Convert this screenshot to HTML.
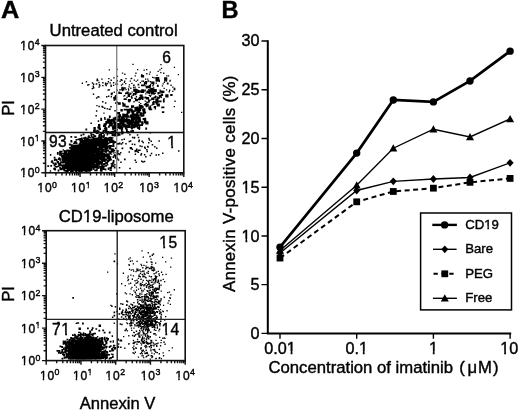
<!DOCTYPE html>
<html><head><meta charset="utf-8"><style>
html,body{margin:0;padding:0;background:#fff;width:520px;height:411px;overflow:hidden}
svg{display:block;will-change:transform}
text{font-family:"Liberation Sans", sans-serif;stroke:#000;stroke-width:0.4px}
</style></head><body>
<svg width="520" height="411" viewBox="0 0 520 411" font-family='"Liberation Sans", sans-serif' fill="#000"><text transform="translate(0.9 18.3) scale(1.075 1)" font-size="23.6" font-weight="bold">A</text>
<text x="221.5" y="17.6" font-size="23.6" font-weight="bold">B</text>
<path d="M88.3 166.4h1.8v1.8h-1.8zM89.9 157.7h1.8v1.8h-1.8zM87.5 165.1h1.8v1.8h-1.8zM90.7 157.4h1.8v1.8h-1.8zM85.1 156.7h1.8v1.8h-1.8zM74.5 158.3h1.8v1.8h-1.8zM82.8 147.9h1.8v1.8h-1.8zM79.5 146.3h1.8v1.8h-1.8zM88.2 167.6h1.8v1.8h-1.8zM81.3 159.0h1.8v1.8h-1.8zM84.6 152.9h1.8v1.8h-1.8zM82.7 167.1h1.8v1.8h-1.8zM76.7 161.8h1.8v1.8h-1.8zM90.1 164.1h1.8v1.8h-1.8zM80.9 157.7h1.8v1.8h-1.8zM79.5 163.2h1.8v1.8h-1.8zM82.1 168.2h1.8v1.8h-1.8zM80.3 157.3h1.8v1.8h-1.8zM80.8 165.6h1.8v1.8h-1.8zM97.4 162.5h1.8v1.8h-1.8zM90.5 154.2h1.8v1.8h-1.8zM53.8 167.9h1.8v1.8h-1.8zM78.6 158.0h1.8v1.8h-1.8zM72.9 151.6h1.8v1.8h-1.8zM83.7 159.6h1.8v1.8h-1.8zM103.6 155.1h1.8v1.8h-1.8zM70.6 145.4h1.8v1.8h-1.8zM99.1 147.0h1.8v1.8h-1.8zM91.5 165.8h1.8v1.8h-1.8zM86.4 154.0h1.8v1.8h-1.8zM84.3 162.1h1.8v1.8h-1.8zM68.0 161.5h1.8v1.8h-1.8zM73.3 159.4h1.8v1.8h-1.8zM81.1 161.0h1.8v1.8h-1.8zM73.1 165.6h1.8v1.8h-1.8zM75.0 148.0h1.8v1.8h-1.8zM86.4 168.6h1.8v1.8h-1.8zM82.5 161.5h1.8v1.8h-1.8zM76.0 160.9h1.8v1.8h-1.8zM89.2 162.0h1.8v1.8h-1.8zM88.7 153.3h1.8v1.8h-1.8zM88.4 167.4h1.8v1.8h-1.8zM73.8 164.0h1.8v1.8h-1.8zM90.8 162.1h1.8v1.8h-1.8zM73.8 155.7h1.8v1.8h-1.8zM89.0 154.2h1.8v1.8h-1.8zM72.4 167.3h1.8v1.8h-1.8zM87.1 149.2h1.8v1.8h-1.8zM79.1 155.2h1.8v1.8h-1.8zM69.3 164.9h1.8v1.8h-1.8zM82.0 169.4h1.8v1.8h-1.8zM84.4 165.3h1.8v1.8h-1.8zM87.0 165.4h1.8v1.8h-1.8zM73.0 166.4h1.8v1.8h-1.8zM77.5 163.2h1.8v1.8h-1.8zM85.1 162.1h1.8v1.8h-1.8zM90.6 160.9h1.8v1.8h-1.8zM59.1 152.3h1.8v1.8h-1.8zM83.5 158.1h1.8v1.8h-1.8zM94.5 157.7h1.8v1.8h-1.8zM81.0 166.7h1.8v1.8h-1.8zM72.6 161.0h1.8v1.8h-1.8zM91.8 163.8h1.8v1.8h-1.8zM81.7 154.1h1.8v1.8h-1.8zM89.4 154.8h1.8v1.8h-1.8zM62.8 156.3h1.8v1.8h-1.8zM80.1 159.7h1.8v1.8h-1.8zM76.6 160.6h1.8v1.8h-1.8zM88.5 155.8h1.8v1.8h-1.8zM81.5 155.1h1.8v1.8h-1.8zM66.4 157.0h1.8v1.8h-1.8zM85.5 146.3h1.8v1.8h-1.8zM89.4 160.3h1.8v1.8h-1.8zM71.3 153.7h1.8v1.8h-1.8zM82.5 162.4h1.8v1.8h-1.8zM85.6 157.9h1.8v1.8h-1.8zM83.6 152.7h1.8v1.8h-1.8zM88.6 153.4h1.8v1.8h-1.8zM83.4 157.8h1.8v1.8h-1.8zM81.8 163.3h1.8v1.8h-1.8zM76.7 156.1h1.8v1.8h-1.8zM90.7 153.5h1.8v1.8h-1.8zM55.0 158.7h1.8v1.8h-1.8zM79.0 158.1h1.8v1.8h-1.8zM75.3 145.4h1.8v1.8h-1.8zM67.4 165.3h1.8v1.8h-1.8zM82.9 154.8h1.8v1.8h-1.8zM93.7 165.2h1.8v1.8h-1.8zM79.5 158.9h1.8v1.8h-1.8zM90.7 163.5h1.8v1.8h-1.8zM93.8 156.3h1.8v1.8h-1.8zM81.1 149.4h1.8v1.8h-1.8zM99.2 154.7h1.8v1.8h-1.8zM73.7 145.5h1.8v1.8h-1.8zM76.6 166.9h1.8v1.8h-1.8zM85.5 165.4h1.8v1.8h-1.8zM77.1 155.1h1.8v1.8h-1.8zM91.9 161.4h1.8v1.8h-1.8zM75.9 146.6h1.8v1.8h-1.8zM80.5 157.6h1.8v1.8h-1.8zM74.4 162.6h1.8v1.8h-1.8zM88.2 163.0h1.8v1.8h-1.8zM72.5 166.6h1.8v1.8h-1.8zM88.2 158.0h1.8v1.8h-1.8zM97.5 156.8h1.8v1.8h-1.8zM64.4 161.0h1.8v1.8h-1.8zM85.9 154.1h1.8v1.8h-1.8zM108.1 154.1h1.8v1.8h-1.8zM71.5 163.5h1.8v1.8h-1.8zM68.3 162.8h1.8v1.8h-1.8zM88.6 161.0h1.8v1.8h-1.8zM74.5 166.1h1.8v1.8h-1.8zM81.2 168.5h1.8v1.8h-1.8zM84.3 152.8h1.8v1.8h-1.8zM78.8 164.6h1.8v1.8h-1.8zM84.1 158.8h1.8v1.8h-1.8zM76.8 154.1h1.8v1.8h-1.8zM69.4 154.8h1.8v1.8h-1.8zM78.8 162.4h1.8v1.8h-1.8zM70.2 159.3h1.8v1.8h-1.8zM76.6 149.0h1.8v1.8h-1.8zM70.0 163.3h1.8v1.8h-1.8zM71.3 165.5h1.8v1.8h-1.8zM95.4 153.7h1.8v1.8h-1.8zM76.7 150.6h1.8v1.8h-1.8zM78.7 155.2h1.8v1.8h-1.8zM90.4 167.0h1.8v1.8h-1.8zM74.5 155.3h1.8v1.8h-1.8zM77.8 157.8h1.8v1.8h-1.8zM84.9 160.5h1.8v1.8h-1.8zM68.3 160.4h1.8v1.8h-1.8zM82.7 141.4h1.8v1.8h-1.8zM76.4 163.9h1.8v1.8h-1.8zM66.4 153.5h1.8v1.8h-1.8zM72.3 162.8h1.8v1.8h-1.8zM74.5 154.5h1.8v1.8h-1.8zM91.2 139.9h1.8v1.8h-1.8zM82.2 157.6h1.8v1.8h-1.8zM83.4 164.5h1.8v1.8h-1.8zM87.3 149.9h1.8v1.8h-1.8zM79.0 160.7h1.8v1.8h-1.8zM73.8 159.1h1.8v1.8h-1.8zM86.4 165.1h1.8v1.8h-1.8zM89.1 159.2h1.8v1.8h-1.8zM86.2 153.6h1.8v1.8h-1.8zM105.3 162.7h1.8v1.8h-1.8zM84.7 161.9h1.8v1.8h-1.8zM76.8 164.9h1.8v1.8h-1.8zM77.3 153.9h1.8v1.8h-1.8zM81.6 162.3h1.8v1.8h-1.8zM77.3 147.9h1.8v1.8h-1.8zM82.2 162.5h1.8v1.8h-1.8zM79.6 151.5h1.8v1.8h-1.8zM65.6 167.5h1.8v1.8h-1.8zM88.1 153.5h1.8v1.8h-1.8zM76.2 163.1h1.8v1.8h-1.8zM70.9 166.6h1.8v1.8h-1.8zM86.9 155.9h1.8v1.8h-1.8zM93.5 153.0h1.8v1.8h-1.8zM80.9 146.0h1.8v1.8h-1.8zM76.4 144.4h1.8v1.8h-1.8zM110.4 150.9h1.8v1.8h-1.8zM84.6 144.4h1.8v1.8h-1.8zM71.2 157.1h1.8v1.8h-1.8zM83.5 162.4h1.8v1.8h-1.8zM67.5 168.7h1.8v1.8h-1.8zM83.0 159.1h1.8v1.8h-1.8zM78.6 165.4h1.8v1.8h-1.8zM88.3 143.7h1.8v1.8h-1.8zM90.1 154.6h1.8v1.8h-1.8zM54.2 168.7h1.8v1.8h-1.8zM81.7 159.5h1.8v1.8h-1.8zM64.6 163.9h1.8v1.8h-1.8zM89.6 149.6h1.8v1.8h-1.8zM80.2 152.9h1.8v1.8h-1.8zM89.1 163.1h1.8v1.8h-1.8zM68.0 157.4h1.8v1.8h-1.8zM99.7 153.8h1.8v1.8h-1.8zM101.5 152.9h1.8v1.8h-1.8zM70.5 162.8h1.8v1.8h-1.8zM86.0 160.5h1.8v1.8h-1.8zM76.3 165.8h1.8v1.8h-1.8zM79.0 155.2h1.8v1.8h-1.8zM70.0 166.9h1.8v1.8h-1.8zM105.1 165.0h1.8v1.8h-1.8zM68.2 155.3h1.8v1.8h-1.8zM77.2 158.1h1.8v1.8h-1.8zM83.3 151.3h1.8v1.8h-1.8zM74.1 149.8h1.8v1.8h-1.8zM75.6 161.5h1.8v1.8h-1.8zM82.7 166.4h1.8v1.8h-1.8zM66.9 157.7h1.8v1.8h-1.8zM76.4 159.9h1.8v1.8h-1.8zM76.7 154.7h1.8v1.8h-1.8zM73.4 150.6h1.8v1.8h-1.8zM81.3 158.2h1.8v1.8h-1.8zM79.8 163.9h1.8v1.8h-1.8zM86.9 152.9h1.8v1.8h-1.8zM78.4 161.6h1.8v1.8h-1.8zM81.9 164.6h1.8v1.8h-1.8zM71.9 152.2h1.8v1.8h-1.8zM70.9 168.9h1.8v1.8h-1.8zM84.0 152.2h1.8v1.8h-1.8zM63.9 150.1h1.8v1.8h-1.8zM71.3 156.5h1.8v1.8h-1.8zM86.5 162.1h1.8v1.8h-1.8zM85.9 159.5h1.8v1.8h-1.8zM73.6 152.7h1.8v1.8h-1.8zM86.3 160.1h1.8v1.8h-1.8zM83.3 157.4h1.8v1.8h-1.8zM65.7 161.1h1.8v1.8h-1.8zM89.7 158.8h1.8v1.8h-1.8zM73.0 159.2h1.8v1.8h-1.8zM82.9 160.9h1.8v1.8h-1.8zM81.3 164.2h1.8v1.8h-1.8zM81.9 155.9h1.8v1.8h-1.8zM60.8 155.1h1.8v1.8h-1.8zM100.1 155.1h1.8v1.8h-1.8zM71.9 154.2h1.8v1.8h-1.8zM65.9 164.8h1.8v1.8h-1.8zM86.9 156.3h1.8v1.8h-1.8zM75.1 154.8h1.8v1.8h-1.8zM87.0 164.1h1.8v1.8h-1.8zM73.1 150.0h1.8v1.8h-1.8zM85.3 170.1h1.8v1.8h-1.8zM81.4 153.6h1.8v1.8h-1.8zM77.0 169.2h1.8v1.8h-1.8zM91.7 165.5h1.8v1.8h-1.8zM73.7 154.7h1.8v1.8h-1.8zM70.3 157.4h1.8v1.8h-1.8zM84.8 165.5h1.8v1.8h-1.8zM85.9 158.5h1.8v1.8h-1.8zM79.1 160.6h1.8v1.8h-1.8zM66.8 149.4h1.8v1.8h-1.8zM81.6 144.4h1.8v1.8h-1.8zM79.1 153.7h1.8v1.8h-1.8zM65.1 158.5h1.8v1.8h-1.8zM81.9 160.4h1.8v1.8h-1.8zM82.0 162.6h1.8v1.8h-1.8zM91.4 159.3h1.8v1.8h-1.8zM70.8 159.7h1.8v1.8h-1.8zM88.9 168.2h1.8v1.8h-1.8zM55.8 165.9h1.8v1.8h-1.8zM114.8 154.9h1.8v1.8h-1.8zM75.2 164.8h1.8v1.8h-1.8zM87.6 151.7h1.8v1.8h-1.8zM77.1 151.3h1.8v1.8h-1.8zM91.2 165.7h1.8v1.8h-1.8zM87.3 151.1h1.8v1.8h-1.8zM78.8 165.6h1.8v1.8h-1.8zM74.8 152.4h1.8v1.8h-1.8zM83.7 152.4h1.8v1.8h-1.8zM71.5 161.1h1.8v1.8h-1.8zM84.1 154.6h1.8v1.8h-1.8zM85.0 162.8h1.8v1.8h-1.8zM70.6 153.1h1.8v1.8h-1.8zM82.0 167.0h1.8v1.8h-1.8zM71.9 161.2h1.8v1.8h-1.8zM86.8 146.1h1.8v1.8h-1.8zM74.7 141.1h1.8v1.8h-1.8zM88.3 155.2h1.8v1.8h-1.8zM80.0 153.2h1.8v1.8h-1.8zM83.9 158.6h1.8v1.8h-1.8zM70.1 154.7h1.8v1.8h-1.8zM87.4 156.2h1.8v1.8h-1.8zM97.9 150.9h1.8v1.8h-1.8zM78.1 160.4h1.8v1.8h-1.8zM76.2 163.6h1.8v1.8h-1.8zM80.4 161.8h1.8v1.8h-1.8zM79.5 168.1h1.8v1.8h-1.8zM71.7 156.3h1.8v1.8h-1.8zM84.6 163.6h1.8v1.8h-1.8zM78.7 161.4h1.8v1.8h-1.8zM93.5 149.8h1.8v1.8h-1.8zM77.8 151.8h1.8v1.8h-1.8zM88.8 168.2h1.8v1.8h-1.8zM90.9 156.7h1.8v1.8h-1.8zM76.5 156.6h1.8v1.8h-1.8zM95.0 153.4h1.8v1.8h-1.8zM75.0 161.8h1.8v1.8h-1.8zM71.6 158.7h1.8v1.8h-1.8zM73.1 150.6h1.8v1.8h-1.8zM80.4 160.6h1.8v1.8h-1.8zM67.0 163.8h1.8v1.8h-1.8zM79.8 157.1h1.8v1.8h-1.8zM90.1 143.6h1.8v1.8h-1.8zM77.2 152.5h1.8v1.8h-1.8zM75.4 162.9h1.8v1.8h-1.8zM75.0 168.9h1.8v1.8h-1.8zM79.3 165.1h1.8v1.8h-1.8zM81.2 165.2h1.8v1.8h-1.8zM73.8 166.5h1.8v1.8h-1.8zM80.6 162.8h1.8v1.8h-1.8zM78.2 166.2h1.8v1.8h-1.8zM87.8 150.1h1.8v1.8h-1.8zM93.6 157.9h1.8v1.8h-1.8zM84.4 166.2h1.8v1.8h-1.8zM90.7 168.6h1.8v1.8h-1.8zM69.0 166.6h1.8v1.8h-1.8zM82.9 146.7h1.8v1.8h-1.8zM80.9 159.6h1.8v1.8h-1.8zM87.7 161.6h1.8v1.8h-1.8zM98.0 155.9h1.8v1.8h-1.8zM82.9 156.5h1.8v1.8h-1.8zM67.2 156.4h1.8v1.8h-1.8zM84.7 151.9h1.8v1.8h-1.8zM70.5 169.4h1.8v1.8h-1.8zM73.7 155.4h1.8v1.8h-1.8zM79.6 150.7h1.8v1.8h-1.8zM84.2 150.4h1.8v1.8h-1.8zM85.6 167.5h1.8v1.8h-1.8zM74.2 164.2h1.8v1.8h-1.8zM74.6 159.0h1.8v1.8h-1.8zM92.2 161.4h1.8v1.8h-1.8zM83.2 164.1h1.8v1.8h-1.8zM61.7 159.2h1.8v1.8h-1.8zM91.8 161.5h1.8v1.8h-1.8zM85.8 159.1h1.8v1.8h-1.8zM82.8 140.5h1.8v1.8h-1.8zM74.0 152.0h1.8v1.8h-1.8zM89.8 157.4h1.8v1.8h-1.8zM72.4 167.1h1.8v1.8h-1.8zM85.6 154.6h1.8v1.8h-1.8zM73.1 154.0h1.8v1.8h-1.8zM88.3 158.0h1.8v1.8h-1.8zM84.8 141.6h1.8v1.8h-1.8zM75.8 166.3h1.8v1.8h-1.8zM80.1 158.2h1.8v1.8h-1.8zM81.3 158.7h1.8v1.8h-1.8zM90.4 149.3h1.8v1.8h-1.8zM90.5 162.1h1.8v1.8h-1.8zM82.7 150.9h1.8v1.8h-1.8zM90.1 160.1h1.8v1.8h-1.8zM99.2 145.0h1.8v1.8h-1.8zM77.3 164.5h1.8v1.8h-1.8zM91.4 147.9h1.8v1.8h-1.8zM69.3 163.6h1.8v1.8h-1.8zM87.9 161.2h1.8v1.8h-1.8zM88.9 150.4h1.8v1.8h-1.8zM72.8 157.7h1.8v1.8h-1.8zM88.6 162.0h1.8v1.8h-1.8zM82.6 159.5h1.8v1.8h-1.8zM93.2 147.3h1.8v1.8h-1.8zM78.3 152.9h1.8v1.8h-1.8zM92.7 159.7h1.8v1.8h-1.8zM76.7 154.0h1.8v1.8h-1.8zM82.4 164.6h1.8v1.8h-1.8zM82.7 133.4h1.8v1.8h-1.8zM82.2 146.8h1.8v1.8h-1.8zM76.1 167.4h1.8v1.8h-1.8zM92.8 167.9h1.8v1.8h-1.8zM88.7 156.5h1.8v1.8h-1.8zM81.8 163.7h1.8v1.8h-1.8zM79.5 162.3h1.8v1.8h-1.8zM82.5 167.5h1.8v1.8h-1.8zM61.4 158.8h1.8v1.8h-1.8zM85.0 163.1h1.8v1.8h-1.8zM82.0 155.2h1.8v1.8h-1.8zM71.8 160.6h1.8v1.8h-1.8zM88.3 156.2h1.8v1.8h-1.8zM67.3 163.7h1.8v1.8h-1.8zM73.4 156.2h1.8v1.8h-1.8zM75.8 159.5h1.8v1.8h-1.8zM97.2 144.0h1.8v1.8h-1.8zM88.8 162.0h1.8v1.8h-1.8zM88.9 152.4h1.8v1.8h-1.8zM89.9 169.2h1.8v1.8h-1.8zM96.6 163.6h1.8v1.8h-1.8zM73.1 167.2h1.8v1.8h-1.8zM57.6 165.3h1.8v1.8h-1.8zM89.4 158.0h1.8v1.8h-1.8zM71.5 168.6h1.8v1.8h-1.8zM69.3 163.1h1.8v1.8h-1.8zM89.4 150.8h1.8v1.8h-1.8zM90.8 157.8h1.8v1.8h-1.8zM79.4 152.2h1.8v1.8h-1.8zM81.4 163.5h1.8v1.8h-1.8zM85.3 167.2h1.8v1.8h-1.8zM81.7 165.7h1.8v1.8h-1.8zM89.7 162.7h1.8v1.8h-1.8zM84.3 158.4h1.8v1.8h-1.8zM81.5 169.1h1.8v1.8h-1.8zM88.9 150.7h1.8v1.8h-1.8zM73.9 158.8h1.8v1.8h-1.8zM82.3 154.5h1.8v1.8h-1.8zM83.1 152.9h1.8v1.8h-1.8zM101.6 167.1h1.8v1.8h-1.8zM70.9 149.3h1.8v1.8h-1.8zM98.6 153.6h1.8v1.8h-1.8zM79.7 151.5h1.8v1.8h-1.8zM75.3 151.2h1.8v1.8h-1.8zM75.0 163.0h1.8v1.8h-1.8zM81.7 145.5h1.8v1.8h-1.8zM81.3 158.5h1.8v1.8h-1.8zM70.0 163.3h1.8v1.8h-1.8zM77.3 165.0h1.8v1.8h-1.8zM71.9 156.1h1.8v1.8h-1.8zM93.2 158.1h1.8v1.8h-1.8zM89.5 142.6h1.8v1.8h-1.8zM90.1 157.0h1.8v1.8h-1.8zM84.1 156.8h1.8v1.8h-1.8zM81.4 158.4h1.8v1.8h-1.8zM88.4 152.8h1.8v1.8h-1.8zM99.7 146.0h1.8v1.8h-1.8zM86.0 146.6h1.8v1.8h-1.8zM80.9 166.0h1.8v1.8h-1.8zM86.1 169.5h1.8v1.8h-1.8zM75.2 158.5h1.8v1.8h-1.8zM75.9 167.6h1.8v1.8h-1.8zM78.2 157.4h1.8v1.8h-1.8zM84.2 161.2h1.8v1.8h-1.8zM100.2 154.6h1.8v1.8h-1.8zM76.9 148.5h1.8v1.8h-1.8zM91.6 147.7h1.8v1.8h-1.8zM101.0 158.4h1.8v1.8h-1.8zM75.6 144.9h1.8v1.8h-1.8zM96.5 152.3h1.8v1.8h-1.8zM86.8 153.6h1.8v1.8h-1.8zM74.0 154.1h1.8v1.8h-1.8zM83.7 158.3h1.8v1.8h-1.8zM82.3 161.2h1.8v1.8h-1.8zM80.6 164.0h1.8v1.8h-1.8zM70.6 140.8h1.8v1.8h-1.8zM83.7 153.8h1.8v1.8h-1.8zM80.5 158.2h1.8v1.8h-1.8zM64.5 161.3h1.8v1.8h-1.8zM83.3 157.5h1.8v1.8h-1.8zM87.7 169.8h1.8v1.8h-1.8zM82.6 155.3h1.8v1.8h-1.8zM87.4 158.2h1.8v1.8h-1.8zM78.3 170.1h1.8v1.8h-1.8zM80.6 164.3h1.8v1.8h-1.8zM86.2 157.5h1.8v1.8h-1.8zM90.0 153.4h1.8v1.8h-1.8zM81.3 149.5h1.8v1.8h-1.8zM107.9 153.6h1.8v1.8h-1.8zM83.7 167.5h1.8v1.8h-1.8zM91.4 149.6h1.8v1.8h-1.8zM81.8 164.4h1.8v1.8h-1.8zM73.0 162.3h1.8v1.8h-1.8zM82.3 157.6h1.8v1.8h-1.8zM89.6 149.6h1.8v1.8h-1.8zM78.1 145.5h1.8v1.8h-1.8zM85.0 163.5h1.8v1.8h-1.8zM77.9 161.8h1.8v1.8h-1.8zM90.0 164.8h1.8v1.8h-1.8zM58.7 164.1h1.8v1.8h-1.8zM79.0 153.7h1.8v1.8h-1.8zM69.5 168.6h1.8v1.8h-1.8zM103.2 152.8h1.8v1.8h-1.8zM70.1 162.4h1.8v1.8h-1.8zM66.5 157.5h1.8v1.8h-1.8zM88.4 147.1h1.8v1.8h-1.8zM75.1 168.8h1.8v1.8h-1.8zM87.8 156.9h1.8v1.8h-1.8zM87.8 159.0h1.8v1.8h-1.8zM80.8 152.0h1.8v1.8h-1.8zM68.9 165.6h1.8v1.8h-1.8zM75.8 163.2h1.8v1.8h-1.8zM99.1 156.4h1.8v1.8h-1.8zM63.9 153.8h1.8v1.8h-1.8zM70.5 156.9h1.8v1.8h-1.8zM87.5 152.7h1.8v1.8h-1.8zM83.1 157.3h1.8v1.8h-1.8zM86.8 152.9h1.8v1.8h-1.8zM65.9 152.6h1.8v1.8h-1.8zM86.6 147.1h1.8v1.8h-1.8zM87.7 159.3h1.8v1.8h-1.8zM63.5 160.9h1.8v1.8h-1.8zM102.4 167.2h1.8v1.8h-1.8zM98.1 138.3h1.8v1.8h-1.8zM80.3 155.9h1.8v1.8h-1.8zM90.5 144.2h1.8v1.8h-1.8zM60.5 164.4h1.8v1.8h-1.8zM70.2 168.3h1.8v1.8h-1.8zM70.9 151.1h1.8v1.8h-1.8zM77.6 166.3h1.8v1.8h-1.8zM88.9 161.0h1.8v1.8h-1.8zM87.6 166.9h1.8v1.8h-1.8zM69.7 165.9h1.8v1.8h-1.8zM88.1 160.3h1.8v1.8h-1.8zM99.5 152.2h1.8v1.8h-1.8zM95.5 160.6h1.8v1.8h-1.8zM89.1 151.7h1.8v1.8h-1.8zM82.9 162.8h1.8v1.8h-1.8zM88.6 150.6h1.8v1.8h-1.8zM74.0 168.2h1.8v1.8h-1.8zM87.3 153.7h1.8v1.8h-1.8zM78.0 154.6h1.8v1.8h-1.8zM89.6 149.1h1.8v1.8h-1.8zM90.2 167.7h1.8v1.8h-1.8zM65.4 152.2h1.8v1.8h-1.8zM77.4 147.5h1.8v1.8h-1.8zM94.7 158.4h1.8v1.8h-1.8zM66.9 156.5h1.8v1.8h-1.8zM74.1 157.9h1.8v1.8h-1.8zM72.0 158.6h1.8v1.8h-1.8zM88.0 149.9h1.8v1.8h-1.8zM91.2 148.0h1.8v1.8h-1.8zM87.4 152.7h1.8v1.8h-1.8zM84.0 159.6h1.8v1.8h-1.8zM82.1 162.8h1.8v1.8h-1.8zM78.5 147.2h1.8v1.8h-1.8zM75.4 165.3h1.8v1.8h-1.8zM95.9 169.4h1.8v1.8h-1.8zM85.2 141.4h1.8v1.8h-1.8zM91.8 159.2h1.8v1.8h-1.8zM78.4 166.8h1.8v1.8h-1.8zM82.2 159.8h1.8v1.8h-1.8zM78.8 158.2h1.8v1.8h-1.8zM90.5 134.1h1.8v1.8h-1.8zM86.6 167.0h1.8v1.8h-1.8zM61.9 164.6h1.8v1.8h-1.8zM84.1 155.8h1.8v1.8h-1.8zM103.0 159.9h1.8v1.8h-1.8zM79.9 138.9h1.8v1.8h-1.8zM89.2 154.7h1.8v1.8h-1.8zM83.3 163.2h1.8v1.8h-1.8zM80.7 161.6h1.8v1.8h-1.8zM87.3 165.1h1.8v1.8h-1.8zM90.1 161.7h1.8v1.8h-1.8zM72.9 149.6h1.8v1.8h-1.8zM87.7 149.3h1.8v1.8h-1.8zM73.4 160.0h1.8v1.8h-1.8zM88.9 154.9h1.8v1.8h-1.8zM67.9 153.3h1.8v1.8h-1.8zM53.7 168.1h1.8v1.8h-1.8zM66.6 153.9h1.8v1.8h-1.8zM79.9 154.1h1.8v1.8h-1.8zM74.9 154.4h1.8v1.8h-1.8zM75.8 155.9h1.8v1.8h-1.8zM68.3 168.8h1.8v1.8h-1.8zM78.2 164.7h1.8v1.8h-1.8zM79.0 168.6h1.8v1.8h-1.8zM91.3 149.6h1.8v1.8h-1.8zM83.3 154.5h1.8v1.8h-1.8zM59.1 150.7h1.8v1.8h-1.8zM75.2 168.0h1.8v1.8h-1.8zM87.1 154.5h1.8v1.8h-1.8zM99.2 150.9h1.8v1.8h-1.8zM81.2 149.4h1.8v1.8h-1.8zM86.0 162.2h1.8v1.8h-1.8zM100.9 155.6h1.8v1.8h-1.8zM81.4 160.4h1.8v1.8h-1.8zM72.9 148.7h1.8v1.8h-1.8zM64.7 158.9h1.8v1.8h-1.8zM76.0 160.9h1.8v1.8h-1.8zM99.2 143.6h1.8v1.8h-1.8zM68.6 167.9h1.8v1.8h-1.8zM84.4 166.3h1.8v1.8h-1.8zM65.0 159.5h1.8v1.8h-1.8zM81.6 157.1h1.8v1.8h-1.8zM87.3 150.2h1.8v1.8h-1.8zM82.0 167.6h1.8v1.8h-1.8zM90.9 162.4h1.8v1.8h-1.8zM85.3 157.1h1.8v1.8h-1.8zM94.4 144.8h1.8v1.8h-1.8zM89.8 158.7h1.8v1.8h-1.8zM77.3 158.6h1.8v1.8h-1.8zM75.1 163.3h1.8v1.8h-1.8zM84.6 154.9h1.8v1.8h-1.8zM80.2 165.7h1.8v1.8h-1.8zM100.3 131.9h1.8v1.8h-1.8zM102.1 158.9h1.8v1.8h-1.8zM79.4 160.9h1.8v1.8h-1.8zM77.1 158.7h1.8v1.8h-1.8zM95.6 148.1h1.8v1.8h-1.8zM75.0 157.3h1.8v1.8h-1.8zM94.3 164.2h1.8v1.8h-1.8zM70.6 159.2h1.8v1.8h-1.8zM76.6 161.4h1.8v1.8h-1.8zM78.8 163.1h1.8v1.8h-1.8zM83.2 160.3h1.8v1.8h-1.8zM85.7 159.1h1.8v1.8h-1.8zM86.5 156.0h1.8v1.8h-1.8zM80.3 156.7h1.8v1.8h-1.8zM89.7 149.9h1.8v1.8h-1.8zM61.8 161.6h1.8v1.8h-1.8zM66.0 167.2h1.8v1.8h-1.8zM71.9 152.8h1.8v1.8h-1.8zM94.0 161.6h1.8v1.8h-1.8zM85.0 163.4h1.8v1.8h-1.8zM75.7 162.5h1.8v1.8h-1.8zM68.2 157.8h1.8v1.8h-1.8zM78.5 167.0h1.8v1.8h-1.8zM79.2 165.3h1.8v1.8h-1.8zM75.0 160.2h1.8v1.8h-1.8zM72.1 151.3h1.8v1.8h-1.8zM88.9 150.4h1.8v1.8h-1.8zM57.1 161.4h1.8v1.8h-1.8zM79.1 161.0h1.8v1.8h-1.8zM83.0 158.7h1.8v1.8h-1.8zM60.9 167.8h1.8v1.8h-1.8zM80.7 155.7h1.8v1.8h-1.8zM101.8 158.7h1.8v1.8h-1.8zM83.9 162.6h1.8v1.8h-1.8zM96.8 164.5h1.8v1.8h-1.8zM83.5 166.5h1.8v1.8h-1.8zM57.7 162.4h1.8v1.8h-1.8zM77.5 138.4h1.8v1.8h-1.8zM77.5 161.9h1.8v1.8h-1.8zM63.2 156.7h1.8v1.8h-1.8zM84.0 145.4h1.8v1.8h-1.8zM79.0 147.0h1.8v1.8h-1.8zM73.9 156.6h1.8v1.8h-1.8zM88.7 153.9h1.8v1.8h-1.8zM72.7 162.8h1.8v1.8h-1.8zM68.1 154.2h1.8v1.8h-1.8zM86.1 156.7h1.8v1.8h-1.8zM66.4 154.7h1.8v1.8h-1.8zM92.1 145.4h1.8v1.8h-1.8zM83.7 158.4h1.8v1.8h-1.8zM96.1 156.0h1.8v1.8h-1.8zM68.9 153.2h1.8v1.8h-1.8zM80.2 169.4h1.8v1.8h-1.8zM86.0 148.7h1.8v1.8h-1.8zM70.6 163.2h1.8v1.8h-1.8zM93.9 161.2h1.8v1.8h-1.8zM87.3 161.2h1.8v1.8h-1.8zM89.5 152.8h1.8v1.8h-1.8zM79.6 163.8h1.8v1.8h-1.8zM82.1 146.8h1.8v1.8h-1.8zM69.8 152.6h1.8v1.8h-1.8zM66.7 162.3h1.8v1.8h-1.8zM73.3 155.9h1.8v1.8h-1.8zM73.8 157.0h1.8v1.8h-1.8zM61.8 167.6h1.8v1.8h-1.8zM72.5 153.6h1.8v1.8h-1.8zM84.0 158.2h1.8v1.8h-1.8zM77.4 165.8h1.8v1.8h-1.8zM72.4 162.4h1.8v1.8h-1.8zM101.5 152.8h1.8v1.8h-1.8zM99.8 157.9h1.8v1.8h-1.8zM95.5 151.4h1.8v1.8h-1.8zM86.5 164.2h1.8v1.8h-1.8zM83.3 160.7h1.8v1.8h-1.8zM66.0 155.0h1.8v1.8h-1.8zM84.1 159.3h1.8v1.8h-1.8zM80.4 157.5h1.8v1.8h-1.8zM92.6 160.5h1.8v1.8h-1.8zM94.0 143.5h1.8v1.8h-1.8zM76.7 159.3h1.8v1.8h-1.8zM95.8 165.2h1.8v1.8h-1.8zM69.6 153.9h1.8v1.8h-1.8zM70.8 159.2h1.8v1.8h-1.8zM75.1 161.6h1.8v1.8h-1.8zM71.1 162.1h1.8v1.8h-1.8zM88.5 150.4h1.8v1.8h-1.8zM90.3 156.0h1.8v1.8h-1.8zM88.6 143.2h1.8v1.8h-1.8zM78.8 154.8h1.8v1.8h-1.8zM81.7 153.4h1.8v1.8h-1.8zM74.4 159.2h1.8v1.8h-1.8zM68.9 161.6h1.8v1.8h-1.8zM85.2 157.0h1.8v1.8h-1.8zM82.4 155.2h1.8v1.8h-1.8zM69.0 160.6h1.8v1.8h-1.8zM87.7 159.0h1.8v1.8h-1.8zM82.4 166.7h1.8v1.8h-1.8zM71.1 153.1h1.8v1.8h-1.8zM76.7 162.9h1.8v1.8h-1.8zM73.0 168.9h1.8v1.8h-1.8zM89.2 152.8h1.8v1.8h-1.8zM87.9 159.9h1.8v1.8h-1.8zM91.6 152.2h1.8v1.8h-1.8zM83.4 161.0h1.8v1.8h-1.8zM63.5 153.3h1.8v1.8h-1.8zM78.8 163.8h1.8v1.8h-1.8zM67.9 160.4h1.8v1.8h-1.8zM82.8 151.6h1.8v1.8h-1.8zM91.5 151.5h1.8v1.8h-1.8zM87.2 164.7h1.8v1.8h-1.8zM78.1 168.3h1.8v1.8h-1.8zM78.1 162.3h1.8v1.8h-1.8zM85.6 164.3h1.8v1.8h-1.8zM65.6 162.1h1.8v1.8h-1.8zM78.2 149.2h1.8v1.8h-1.8zM76.6 144.4h1.8v1.8h-1.8zM75.4 161.0h1.8v1.8h-1.8zM76.3 159.6h1.8v1.8h-1.8zM82.5 158.4h1.8v1.8h-1.8zM73.1 162.9h1.8v1.8h-1.8zM85.2 148.8h1.8v1.8h-1.8zM80.3 152.3h1.8v1.8h-1.8zM103.1 165.7h1.8v1.8h-1.8zM73.7 168.7h1.8v1.8h-1.8zM62.7 164.3h1.8v1.8h-1.8zM83.1 140.0h1.8v1.8h-1.8zM87.1 148.6h1.8v1.8h-1.8zM72.4 159.4h1.8v1.8h-1.8zM66.3 164.5h1.8v1.8h-1.8zM80.8 160.5h1.8v1.8h-1.8zM63.1 164.7h1.8v1.8h-1.8zM81.1 168.7h1.8v1.8h-1.8zM55.8 159.5h1.8v1.8h-1.8zM77.4 157.8h1.8v1.8h-1.8zM58.0 163.0h1.8v1.8h-1.8zM80.8 165.6h1.8v1.8h-1.8zM95.7 153.7h1.8v1.8h-1.8zM80.6 165.8h1.8v1.8h-1.8zM88.2 156.2h1.8v1.8h-1.8zM74.3 168.0h1.8v1.8h-1.8zM63.7 159.8h1.8v1.8h-1.8zM90.5 154.4h1.8v1.8h-1.8zM78.7 156.2h1.8v1.8h-1.8zM98.5 157.5h1.8v1.8h-1.8zM79.6 162.7h1.8v1.8h-1.8zM80.7 157.3h1.8v1.8h-1.8zM91.9 148.1h1.8v1.8h-1.8zM103.2 162.9h1.8v1.8h-1.8zM77.9 169.9h1.8v1.8h-1.8zM64.0 166.9h1.8v1.8h-1.8zM90.6 147.2h1.8v1.8h-1.8zM78.4 156.7h1.8v1.8h-1.8zM76.3 151.0h1.8v1.8h-1.8zM52.5 162.4h1.8v1.8h-1.8zM87.9 151.6h1.8v1.8h-1.8zM83.5 155.7h1.8v1.8h-1.8zM85.6 166.8h1.8v1.8h-1.8zM69.2 159.7h1.8v1.8h-1.8zM86.2 156.9h1.8v1.8h-1.8zM98.3 153.4h1.8v1.8h-1.8zM75.4 147.3h1.8v1.8h-1.8zM73.6 155.0h1.8v1.8h-1.8zM83.5 156.7h1.8v1.8h-1.8zM83.6 165.8h1.8v1.8h-1.8zM77.0 155.1h1.8v1.8h-1.8zM73.5 166.4h1.8v1.8h-1.8zM78.7 155.5h1.8v1.8h-1.8zM73.3 159.0h1.8v1.8h-1.8zM83.2 169.2h1.8v1.8h-1.8zM79.1 157.8h1.8v1.8h-1.8zM76.1 164.3h1.8v1.8h-1.8zM81.0 168.8h1.8v1.8h-1.8zM93.2 160.1h1.8v1.8h-1.8zM73.3 148.8h1.8v1.8h-1.8zM73.0 149.1h1.8v1.8h-1.8zM90.4 159.1h1.8v1.8h-1.8zM79.5 150.0h1.8v1.8h-1.8zM79.6 154.8h1.8v1.8h-1.8zM81.5 155.8h1.8v1.8h-1.8zM65.6 157.8h1.8v1.8h-1.8zM88.8 165.9h1.8v1.8h-1.8zM95.8 159.3h1.8v1.8h-1.8zM86.7 158.0h1.8v1.8h-1.8zM67.4 170.0h1.8v1.8h-1.8zM80.3 151.4h1.8v1.8h-1.8zM74.7 169.5h1.8v1.8h-1.8zM75.6 154.0h1.8v1.8h-1.8zM86.9 170.0h1.8v1.8h-1.8zM67.0 159.4h1.8v1.8h-1.8zM91.6 149.4h1.8v1.8h-1.8zM83.7 168.0h1.8v1.8h-1.8zM90.3 160.5h1.8v1.8h-1.8zM83.6 149.5h1.8v1.8h-1.8zM95.5 157.8h1.8v1.8h-1.8zM92.0 154.1h1.8v1.8h-1.8zM66.5 165.6h1.8v1.8h-1.8zM83.1 163.5h1.8v1.8h-1.8zM79.7 168.5h1.8v1.8h-1.8zM89.1 159.6h1.8v1.8h-1.8zM90.5 157.7h1.8v1.8h-1.8zM92.7 152.9h1.8v1.8h-1.8zM81.2 152.1h1.8v1.8h-1.8zM99.9 169.7h1.8v1.8h-1.8zM103.0 168.2h1.8v1.8h-1.8zM76.8 159.7h1.8v1.8h-1.8zM123.9 158.4h1.8v1.8h-1.8zM84.4 167.6h1.8v1.8h-1.8zM80.7 168.6h1.8v1.8h-1.8zM88.6 157.4h1.8v1.8h-1.8zM87.8 161.0h1.8v1.8h-1.8zM70.4 152.8h1.8v1.8h-1.8zM87.6 136.7h1.8v1.8h-1.8zM82.2 161.1h1.8v1.8h-1.8zM96.9 155.8h1.8v1.8h-1.8zM96.4 158.4h1.8v1.8h-1.8zM69.6 166.8h1.8v1.8h-1.8zM72.4 166.2h1.8v1.8h-1.8zM86.9 166.3h1.8v1.8h-1.8zM80.3 151.1h1.8v1.8h-1.8zM70.1 156.1h1.8v1.8h-1.8zM82.7 152.2h1.8v1.8h-1.8zM92.2 148.5h1.8v1.8h-1.8zM62.8 153.0h1.8v1.8h-1.8zM76.7 155.0h1.8v1.8h-1.8zM88.4 169.6h1.8v1.8h-1.8zM76.2 151.9h1.8v1.8h-1.8zM72.9 146.3h1.8v1.8h-1.8zM96.9 149.5h1.8v1.8h-1.8zM91.5 149.9h1.8v1.8h-1.8zM91.2 160.4h1.8v1.8h-1.8zM71.1 156.9h1.8v1.8h-1.8zM101.8 148.2h1.8v1.8h-1.8zM81.6 151.4h1.8v1.8h-1.8zM72.1 154.4h1.8v1.8h-1.8zM78.8 163.2h1.8v1.8h-1.8zM76.6 162.0h1.8v1.8h-1.8zM101.0 149.6h1.8v1.8h-1.8zM84.5 162.0h1.8v1.8h-1.8zM78.8 152.7h1.8v1.8h-1.8zM60.3 168.4h1.8v1.8h-1.8zM88.6 157.4h1.8v1.8h-1.8zM63.9 150.0h1.8v1.8h-1.8zM85.6 153.8h1.8v1.8h-1.8zM74.0 166.0h1.8v1.8h-1.8zM87.0 151.2h1.8v1.8h-1.8zM91.9 154.9h1.8v1.8h-1.8zM81.1 163.1h1.8v1.8h-1.8zM60.1 153.1h1.8v1.8h-1.8zM76.3 150.4h1.8v1.8h-1.8zM80.4 134.4h1.8v1.8h-1.8zM69.9 169.6h1.8v1.8h-1.8zM98.8 152.9h1.8v1.8h-1.8zM69.7 164.5h1.8v1.8h-1.8zM75.9 151.2h1.8v1.8h-1.8zM91.9 163.5h1.8v1.8h-1.8zM63.3 155.2h1.8v1.8h-1.8zM80.8 159.0h1.8v1.8h-1.8zM67.0 163.4h1.8v1.8h-1.8zM94.9 159.6h1.8v1.8h-1.8zM85.3 165.0h1.8v1.8h-1.8zM75.4 157.7h1.8v1.8h-1.8zM88.3 149.2h1.8v1.8h-1.8zM68.3 164.2h1.8v1.8h-1.8zM75.1 156.5h1.8v1.8h-1.8zM101.6 158.1h1.8v1.8h-1.8zM80.8 162.3h1.8v1.8h-1.8zM98.4 163.5h1.8v1.8h-1.8zM71.3 155.7h1.8v1.8h-1.8zM76.5 155.7h1.8v1.8h-1.8zM83.1 162.2h1.8v1.8h-1.8zM78.2 163.7h1.8v1.8h-1.8zM71.8 160.0h1.8v1.8h-1.8zM67.7 149.8h1.8v1.8h-1.8zM82.1 159.2h1.8v1.8h-1.8zM80.7 148.8h1.8v1.8h-1.8zM80.1 138.2h1.8v1.8h-1.8zM89.6 158.0h1.8v1.8h-1.8zM80.6 159.2h1.8v1.8h-1.8zM63.7 157.5h1.8v1.8h-1.8zM81.4 157.9h1.8v1.8h-1.8zM87.3 152.7h1.8v1.8h-1.8zM77.6 138.5h1.8v1.8h-1.8zM91.3 158.2h1.8v1.8h-1.8zM88.2 152.7h1.8v1.8h-1.8zM77.3 152.1h1.8v1.8h-1.8zM58.8 163.5h1.8v1.8h-1.8zM85.5 160.4h1.8v1.8h-1.8zM71.9 151.2h1.8v1.8h-1.8zM90.3 162.7h1.8v1.8h-1.8zM90.1 159.3h1.8v1.8h-1.8zM83.0 162.7h1.8v1.8h-1.8zM98.4 150.0h1.8v1.8h-1.8zM70.9 161.9h1.8v1.8h-1.8zM90.4 156.6h1.8v1.8h-1.8zM75.6 159.5h1.8v1.8h-1.8zM68.7 152.0h1.8v1.8h-1.8zM83.1 149.1h1.8v1.8h-1.8zM74.9 161.7h1.8v1.8h-1.8zM83.8 143.6h1.8v1.8h-1.8zM69.1 163.0h1.8v1.8h-1.8zM80.1 156.5h1.8v1.8h-1.8zM75.1 168.0h1.8v1.8h-1.8zM79.1 161.2h1.8v1.8h-1.8zM76.2 158.4h1.8v1.8h-1.8zM69.0 161.6h1.8v1.8h-1.8zM88.5 159.4h1.8v1.8h-1.8zM67.9 155.3h1.8v1.8h-1.8zM84.3 143.9h1.8v1.8h-1.8zM87.7 149.3h1.8v1.8h-1.8zM79.6 139.1h1.8v1.8h-1.8zM81.5 151.8h1.8v1.8h-1.8zM105.4 155.4h1.8v1.8h-1.8zM71.5 163.7h1.8v1.8h-1.8zM89.9 156.3h1.8v1.8h-1.8zM81.6 153.4h1.8v1.8h-1.8zM89.7 150.4h1.8v1.8h-1.8zM91.1 157.0h1.8v1.8h-1.8zM81.6 166.7h1.8v1.8h-1.8zM74.4 165.6h1.8v1.8h-1.8zM103.6 153.2h1.8v1.8h-1.8zM90.1 154.9h1.8v1.8h-1.8zM84.6 152.1h1.8v1.8h-1.8zM78.0 161.5h1.8v1.8h-1.8zM81.9 166.4h1.8v1.8h-1.8zM78.0 161.5h1.8v1.8h-1.8zM75.3 155.0h1.8v1.8h-1.8zM78.1 154.5h1.8v1.8h-1.8zM78.7 164.0h1.8v1.8h-1.8zM87.7 167.0h1.8v1.8h-1.8zM80.0 151.7h1.8v1.8h-1.8zM90.8 159.3h1.8v1.8h-1.8zM77.9 152.7h1.8v1.8h-1.8zM87.6 153.6h1.8v1.8h-1.8zM53.7 164.3h1.8v1.8h-1.8zM92.8 141.4h1.8v1.8h-1.8zM70.8 167.9h1.8v1.8h-1.8zM78.2 160.4h1.8v1.8h-1.8zM81.1 141.3h1.8v1.8h-1.8zM85.9 151.6h1.8v1.8h-1.8zM66.2 163.1h1.8v1.8h-1.8zM63.2 168.7h1.8v1.8h-1.8zM65.1 157.9h1.8v1.8h-1.8zM62.4 160.3h1.8v1.8h-1.8zM80.5 158.7h1.8v1.8h-1.8zM74.9 153.8h1.8v1.8h-1.8zM84.3 158.2h1.8v1.8h-1.8zM101.9 140.6h1.8v1.8h-1.8zM74.7 147.6h1.8v1.8h-1.8zM79.9 158.1h1.8v1.8h-1.8zM86.5 159.9h1.8v1.8h-1.8zM80.7 164.9h1.8v1.8h-1.8zM71.1 153.5h1.8v1.8h-1.8zM73.9 141.2h1.8v1.8h-1.8zM92.5 161.5h1.8v1.8h-1.8zM89.5 161.3h1.8v1.8h-1.8zM94.8 166.0h1.8v1.8h-1.8zM72.2 154.2h1.8v1.8h-1.8zM75.2 166.4h1.8v1.8h-1.8zM103.3 157.8h1.8v1.8h-1.8zM72.5 146.4h1.8v1.8h-1.8zM88.9 164.6h1.8v1.8h-1.8zM92.6 166.3h1.8v1.8h-1.8zM96.3 157.1h1.8v1.8h-1.8zM69.6 168.6h1.8v1.8h-1.8zM78.6 166.4h1.8v1.8h-1.8zM75.8 158.8h1.8v1.8h-1.8zM73.2 149.6h1.8v1.8h-1.8zM54.6 162.4h1.8v1.8h-1.8zM79.3 158.0h1.8v1.8h-1.8zM50.3 165.0h1.8v1.8h-1.8zM87.0 165.1h1.8v1.8h-1.8zM84.6 153.6h1.8v1.8h-1.8zM86.2 155.5h1.8v1.8h-1.8zM63.5 151.0h1.8v1.8h-1.8zM91.3 157.7h1.8v1.8h-1.8zM70.2 157.4h1.8v1.8h-1.8zM65.8 150.4h1.8v1.8h-1.8zM73.8 164.9h1.8v1.8h-1.8zM81.2 155.2h1.8v1.8h-1.8zM87.6 152.7h1.8v1.8h-1.8zM78.8 168.2h1.8v1.8h-1.8zM86.7 148.8h1.8v1.8h-1.8zM87.4 168.2h1.8v1.8h-1.8zM83.6 151.9h1.8v1.8h-1.8zM84.4 142.0h1.8v1.8h-1.8zM64.8 163.2h1.8v1.8h-1.8zM81.8 155.9h1.8v1.8h-1.8zM92.9 150.6h1.8v1.8h-1.8zM93.8 139.1h1.8v1.8h-1.8zM79.6 142.7h1.8v1.8h-1.8zM89.3 154.9h1.8v1.8h-1.8zM77.1 165.9h1.8v1.8h-1.8zM76.4 161.1h1.8v1.8h-1.8zM91.0 151.3h1.8v1.8h-1.8zM76.0 147.8h1.8v1.8h-1.8zM78.8 157.4h1.8v1.8h-1.8zM65.6 160.8h1.8v1.8h-1.8zM80.0 152.9h1.8v1.8h-1.8zM87.7 157.4h1.8v1.8h-1.8zM73.9 163.5h1.8v1.8h-1.8zM77.4 164.0h1.8v1.8h-1.8zM95.3 150.2h1.8v1.8h-1.8zM79.9 152.0h1.8v1.8h-1.8zM77.5 158.6h1.8v1.8h-1.8zM69.0 161.4h1.8v1.8h-1.8zM69.6 149.5h1.8v1.8h-1.8zM77.4 157.4h1.8v1.8h-1.8zM88.6 140.8h1.8v1.8h-1.8zM95.5 145.1h1.8v1.8h-1.8zM69.9 158.1h1.8v1.8h-1.8zM79.8 165.4h1.8v1.8h-1.8zM88.0 153.0h1.8v1.8h-1.8zM80.3 163.7h1.8v1.8h-1.8zM80.0 160.3h1.8v1.8h-1.8zM86.5 159.7h1.8v1.8h-1.8zM62.2 161.1h1.8v1.8h-1.8zM81.2 165.9h1.8v1.8h-1.8zM80.1 159.7h1.8v1.8h-1.8zM77.3 161.0h1.8v1.8h-1.8zM84.3 147.4h1.8v1.8h-1.8zM72.4 154.4h1.8v1.8h-1.8zM75.2 155.4h1.8v1.8h-1.8zM81.6 159.4h1.8v1.8h-1.8zM91.5 163.7h1.8v1.8h-1.8zM73.9 148.7h1.8v1.8h-1.8zM94.3 149.7h1.8v1.8h-1.8zM71.2 160.4h1.8v1.8h-1.8zM100.7 170.0h1.8v1.8h-1.8zM72.0 161.0h1.8v1.8h-1.8zM77.6 155.6h1.8v1.8h-1.8zM86.8 162.7h1.8v1.8h-1.8zM97.0 141.9h1.8v1.8h-1.8zM91.3 158.9h1.8v1.8h-1.8zM71.6 148.3h1.8v1.8h-1.8zM100.0 168.0h1.8v1.8h-1.8zM78.7 159.4h1.8v1.8h-1.8zM71.9 159.0h1.8v1.8h-1.8zM80.9 147.3h1.8v1.8h-1.8zM81.3 157.3h1.8v1.8h-1.8zM90.3 155.3h1.8v1.8h-1.8zM73.3 155.8h1.8v1.8h-1.8zM88.4 165.9h1.8v1.8h-1.8zM85.9 153.7h1.8v1.8h-1.8zM83.9 158.3h1.8v1.8h-1.8zM81.6 161.0h1.8v1.8h-1.8zM88.3 152.1h1.8v1.8h-1.8zM82.5 158.7h1.8v1.8h-1.8zM86.6 158.8h1.8v1.8h-1.8zM79.5 164.8h1.8v1.8h-1.8zM75.1 145.3h1.8v1.8h-1.8zM81.3 157.6h1.8v1.8h-1.8zM85.9 150.3h1.8v1.8h-1.8zM81.7 158.2h1.8v1.8h-1.8zM82.9 141.1h1.8v1.8h-1.8zM81.4 151.9h1.8v1.8h-1.8zM94.6 154.4h1.8v1.8h-1.8zM83.5 169.6h1.8v1.8h-1.8zM65.0 165.3h1.8v1.8h-1.8zM86.4 159.9h1.8v1.8h-1.8zM78.4 157.4h1.8v1.8h-1.8zM74.4 169.3h1.8v1.8h-1.8zM85.9 153.2h1.8v1.8h-1.8zM85.0 161.1h1.8v1.8h-1.8zM84.1 154.5h1.8v1.8h-1.8zM74.6 153.2h1.8v1.8h-1.8zM79.6 150.8h1.8v1.8h-1.8zM81.3 153.1h1.8v1.8h-1.8zM101.7 159.8h1.8v1.8h-1.8zM80.2 157.5h1.8v1.8h-1.8zM82.0 152.0h1.8v1.8h-1.8zM66.1 170.2h1.8v1.8h-1.8zM67.2 169.3h1.8v1.8h-1.8zM100.0 145.8h1.8v1.8h-1.8zM89.3 162.9h1.8v1.8h-1.8zM75.9 169.5h1.8v1.8h-1.8zM73.9 162.7h1.8v1.8h-1.8zM62.4 168.4h1.8v1.8h-1.8zM75.5 169.9h1.8v1.8h-1.8zM84.0 145.4h1.8v1.8h-1.8zM65.0 159.0h1.8v1.8h-1.8zM87.0 157.1h1.8v1.8h-1.8zM79.2 146.9h1.8v1.8h-1.8zM105.7 162.4h1.8v1.8h-1.8zM74.4 156.5h1.8v1.8h-1.8zM91.7 150.5h1.8v1.8h-1.8zM90.6 157.6h1.8v1.8h-1.8zM64.9 165.8h1.8v1.8h-1.8zM93.0 146.9h1.8v1.8h-1.8zM64.9 158.0h1.8v1.8h-1.8zM77.2 162.7h1.8v1.8h-1.8zM87.6 151.0h1.8v1.8h-1.8zM70.4 136.0h1.8v1.8h-1.8zM75.5 153.3h1.8v1.8h-1.8zM93.5 156.5h1.8v1.8h-1.8zM112.6 165.2h1.8v1.8h-1.8zM56.9 152.1h1.8v1.8h-1.8zM88.3 151.8h1.8v1.8h-1.8zM78.9 153.9h1.8v1.8h-1.8zM70.6 164.3h1.8v1.8h-1.8zM98.5 146.8h1.8v1.8h-1.8zM84.8 163.2h1.8v1.8h-1.8zM70.4 154.1h1.8v1.8h-1.8zM76.3 161.3h1.8v1.8h-1.8zM70.7 150.8h1.8v1.8h-1.8zM86.0 165.3h1.8v1.8h-1.8zM81.5 164.1h1.8v1.8h-1.8zM87.2 155.9h1.8v1.8h-1.8zM95.9 152.7h1.8v1.8h-1.8zM87.8 156.2h1.8v1.8h-1.8zM68.0 161.5h1.8v1.8h-1.8zM65.9 167.1h1.8v1.8h-1.8zM74.9 164.9h1.8v1.8h-1.8zM90.9 154.0h1.8v1.8h-1.8zM75.9 156.1h1.8v1.8h-1.8zM73.3 158.9h1.8v1.8h-1.8zM80.8 155.1h1.8v1.8h-1.8zM68.9 168.4h1.8v1.8h-1.8zM70.6 165.0h1.8v1.8h-1.8zM77.5 159.0h1.8v1.8h-1.8zM76.9 161.5h1.8v1.8h-1.8zM82.0 153.0h1.8v1.8h-1.8zM75.7 162.2h1.8v1.8h-1.8zM73.0 158.7h1.8v1.8h-1.8zM73.8 154.7h1.8v1.8h-1.8zM87.3 157.6h1.8v1.8h-1.8zM66.7 157.8h1.8v1.8h-1.8zM76.0 155.5h1.8v1.8h-1.8zM87.1 155.9h1.8v1.8h-1.8zM99.8 152.9h1.8v1.8h-1.8zM82.1 152.8h1.8v1.8h-1.8zM78.1 159.1h1.8v1.8h-1.8zM86.3 149.6h1.8v1.8h-1.8zM82.4 150.6h1.8v1.8h-1.8zM93.6 149.2h1.8v1.8h-1.8zM82.3 148.6h1.8v1.8h-1.8zM77.2 164.5h1.8v1.8h-1.8zM79.2 168.9h1.8v1.8h-1.8zM83.2 153.4h1.8v1.8h-1.8zM82.5 152.1h1.8v1.8h-1.8zM108.3 158.3h1.8v1.8h-1.8zM96.3 150.1h1.8v1.8h-1.8zM74.9 136.2h1.8v1.8h-1.8zM67.6 163.3h1.8v1.8h-1.8zM61.7 158.5h1.8v1.8h-1.8zM86.3 151.8h1.8v1.8h-1.8zM88.8 162.4h1.8v1.8h-1.8zM96.1 150.5h1.8v1.8h-1.8zM74.6 169.8h1.8v1.8h-1.8zM66.1 155.6h1.8v1.8h-1.8zM88.1 158.0h1.8v1.8h-1.8zM82.5 156.7h1.8v1.8h-1.8zM73.8 147.1h1.8v1.8h-1.8zM83.2 165.7h1.8v1.8h-1.8zM80.9 152.9h1.8v1.8h-1.8zM81.0 162.6h1.8v1.8h-1.8zM76.8 154.0h1.8v1.8h-1.8zM63.3 168.2h1.8v1.8h-1.8zM70.0 169.0h1.8v1.8h-1.8zM86.8 156.2h1.8v1.8h-1.8zM72.6 158.3h1.8v1.8h-1.8zM88.1 160.9h1.8v1.8h-1.8zM93.5 155.1h1.8v1.8h-1.8zM76.2 157.3h1.8v1.8h-1.8zM83.8 158.0h1.8v1.8h-1.8zM100.6 149.4h1.8v1.8h-1.8zM86.5 153.4h1.8v1.8h-1.8zM101.5 157.6h1.8v1.8h-1.8zM101.3 165.0h1.8v1.8h-1.8zM86.5 151.9h1.8v1.8h-1.8zM79.5 158.5h1.8v1.8h-1.8zM69.8 155.6h1.8v1.8h-1.8zM65.9 153.9h1.8v1.8h-1.8zM89.3 165.1h1.8v1.8h-1.8zM83.3 152.0h1.8v1.8h-1.8zM80.4 162.1h1.8v1.8h-1.8zM84.7 145.4h1.8v1.8h-1.8zM73.1 156.8h1.8v1.8h-1.8zM93.1 157.6h1.8v1.8h-1.8zM82.9 162.2h1.8v1.8h-1.8zM81.4 160.7h1.8v1.8h-1.8zM82.3 161.9h1.8v1.8h-1.8zM80.7 160.9h1.8v1.8h-1.8zM108.1 155.6h1.8v1.8h-1.8zM84.5 162.2h1.8v1.8h-1.8zM92.5 152.8h1.8v1.8h-1.8zM84.5 148.3h1.8v1.8h-1.8zM76.5 156.6h1.8v1.8h-1.8zM96.6 149.1h1.8v1.8h-1.8zM63.4 153.1h1.8v1.8h-1.8zM83.8 150.6h1.8v1.8h-1.8zM63.6 157.6h1.8v1.8h-1.8zM87.1 150.0h1.8v1.8h-1.8zM82.3 142.2h1.8v1.8h-1.8zM81.3 140.7h1.8v1.8h-1.8zM77.3 163.2h1.8v1.8h-1.8zM77.4 146.1h1.8v1.8h-1.8zM101.0 159.2h1.8v1.8h-1.8zM84.8 147.1h1.8v1.8h-1.8zM86.9 153.1h1.8v1.8h-1.8zM62.3 167.3h1.8v1.8h-1.8zM83.8 144.4h1.8v1.8h-1.8zM91.2 143.3h1.8v1.8h-1.8zM90.5 148.9h1.8v1.8h-1.8zM88.3 155.1h1.8v1.8h-1.8zM81.8 160.7h1.8v1.8h-1.8zM71.5 146.4h1.8v1.8h-1.8zM87.4 157.9h1.8v1.8h-1.8zM84.2 156.2h1.8v1.8h-1.8zM82.3 155.7h1.8v1.8h-1.8zM76.4 156.6h1.8v1.8h-1.8zM100.3 159.0h1.8v1.8h-1.8zM79.1 155.4h1.8v1.8h-1.8zM74.7 159.9h1.8v1.8h-1.8zM85.6 142.7h1.8v1.8h-1.8zM93.3 149.6h1.8v1.8h-1.8zM95.0 158.4h1.8v1.8h-1.8zM87.8 154.7h1.8v1.8h-1.8zM68.6 167.3h1.8v1.8h-1.8zM100.5 149.0h1.8v1.8h-1.8zM86.1 157.2h1.8v1.8h-1.8zM82.0 164.0h1.8v1.8h-1.8zM83.6 164.2h1.8v1.8h-1.8zM71.3 146.0h1.8v1.8h-1.8zM84.3 155.4h1.8v1.8h-1.8zM74.4 136.2h1.8v1.8h-1.8zM77.5 160.5h1.8v1.8h-1.8zM54.5 165.8h1.8v1.8h-1.8zM78.7 154.7h1.8v1.8h-1.8zM90.6 168.2h1.8v1.8h-1.8zM87.2 159.2h1.8v1.8h-1.8zM83.2 167.8h1.8v1.8h-1.8zM87.3 161.6h1.8v1.8h-1.8zM96.3 166.8h1.8v1.8h-1.8zM75.7 159.2h1.8v1.8h-1.8zM94.2 150.8h1.8v1.8h-1.8zM61.9 166.6h1.8v1.8h-1.8zM70.9 159.6h1.8v1.8h-1.8zM57.6 169.6h1.8v1.8h-1.8zM96.0 160.4h1.8v1.8h-1.8zM91.3 150.1h1.8v1.8h-1.8zM99.1 155.2h1.8v1.8h-1.8zM88.0 168.5h1.8v1.8h-1.8zM78.2 165.5h1.8v1.8h-1.8zM85.8 163.7h1.8v1.8h-1.8zM77.3 154.2h1.8v1.8h-1.8zM92.7 166.2h1.8v1.8h-1.8zM64.3 160.3h1.8v1.8h-1.8zM90.8 155.3h1.8v1.8h-1.8zM80.1 168.9h1.8v1.8h-1.8zM88.1 152.9h1.8v1.8h-1.8zM66.6 166.5h1.8v1.8h-1.8zM77.0 160.9h1.8v1.8h-1.8zM82.3 159.8h1.8v1.8h-1.8zM91.6 159.5h1.8v1.8h-1.8zM64.4 153.3h1.8v1.8h-1.8zM95.3 148.0h1.8v1.8h-1.8zM69.6 147.0h1.8v1.8h-1.8zM90.6 149.1h1.8v1.8h-1.8zM84.6 164.4h1.8v1.8h-1.8zM86.1 140.6h1.8v1.8h-1.8zM100.5 142.8h1.8v1.8h-1.8zM85.8 149.8h1.8v1.8h-1.8zM74.1 154.5h1.8v1.8h-1.8zM88.6 161.1h1.8v1.8h-1.8zM81.7 153.2h1.8v1.8h-1.8zM73.0 162.6h1.8v1.8h-1.8zM70.9 153.6h1.8v1.8h-1.8zM82.6 145.4h1.8v1.8h-1.8zM102.0 145.6h1.8v1.8h-1.8zM51.3 160.2h1.8v1.8h-1.8zM87.4 154.6h1.8v1.8h-1.8zM79.4 160.8h1.8v1.8h-1.8zM89.8 158.7h1.8v1.8h-1.8zM94.3 166.5h1.8v1.8h-1.8zM86.1 169.1h1.8v1.8h-1.8zM67.7 155.3h1.8v1.8h-1.8zM65.2 159.5h1.8v1.8h-1.8zM92.5 153.4h1.8v1.8h-1.8zM77.7 157.1h1.8v1.8h-1.8zM79.3 169.1h1.8v1.8h-1.8zM76.3 155.6h1.8v1.8h-1.8zM82.9 155.5h1.8v1.8h-1.8zM97.9 162.8h1.8v1.8h-1.8zM91.4 153.1h1.8v1.8h-1.8zM97.5 160.9h1.8v1.8h-1.8zM60.1 161.3h1.8v1.8h-1.8zM68.0 161.4h1.8v1.8h-1.8zM67.1 152.8h1.8v1.8h-1.8zM75.3 146.4h1.8v1.8h-1.8zM69.5 159.8h1.8v1.8h-1.8zM67.0 166.6h1.8v1.8h-1.8zM82.5 169.3h1.8v1.8h-1.8zM98.1 147.7h1.8v1.8h-1.8zM86.0 158.3h1.8v1.8h-1.8zM84.6 165.1h1.8v1.8h-1.8zM105.7 145.8h1.8v1.8h-1.8zM58.7 157.9h1.8v1.8h-1.8zM96.7 165.9h1.8v1.8h-1.8zM67.8 162.3h1.8v1.8h-1.8zM78.9 169.6h1.8v1.8h-1.8zM78.9 156.7h1.8v1.8h-1.8zM113.5 149.7h1.8v1.8h-1.8zM73.2 161.1h1.8v1.8h-1.8zM61.7 164.5h1.8v1.8h-1.8zM92.9 152.3h1.8v1.8h-1.8zM75.2 167.5h1.8v1.8h-1.8zM74.7 151.2h1.8v1.8h-1.8zM77.6 151.9h1.8v1.8h-1.8zM85.1 165.7h1.8v1.8h-1.8zM77.0 154.3h1.8v1.8h-1.8zM84.1 159.2h1.8v1.8h-1.8zM80.3 147.4h1.8v1.8h-1.8zM88.5 153.7h1.8v1.8h-1.8zM80.4 168.8h1.8v1.8h-1.8zM74.1 162.7h1.8v1.8h-1.8zM71.4 165.0h1.8v1.8h-1.8zM85.4 153.5h1.8v1.8h-1.8zM80.8 159.8h1.8v1.8h-1.8zM80.5 143.5h1.8v1.8h-1.8zM80.8 144.7h1.8v1.8h-1.8zM98.5 154.7h1.8v1.8h-1.8zM77.2 145.1h1.8v1.8h-1.8zM92.4 165.2h1.8v1.8h-1.8zM66.7 154.7h1.8v1.8h-1.8zM70.8 144.2h1.8v1.8h-1.8zM88.6 158.2h1.8v1.8h-1.8zM67.8 163.8h1.8v1.8h-1.8zM86.0 168.4h1.8v1.8h-1.8zM80.5 166.7h1.8v1.8h-1.8zM75.4 153.0h1.8v1.8h-1.8zM63.1 165.1h1.8v1.8h-1.8zM79.2 152.2h1.8v1.8h-1.8zM89.2 152.3h1.8v1.8h-1.8zM85.5 152.3h1.8v1.8h-1.8zM73.8 159.9h1.8v1.8h-1.8zM67.7 159.8h1.8v1.8h-1.8zM83.1 147.4h1.8v1.8h-1.8zM92.7 148.0h1.8v1.8h-1.8zM74.3 157.5h1.8v1.8h-1.8zM62.7 161.8h1.8v1.8h-1.8zM82.3 156.7h1.8v1.8h-1.8zM86.3 152.6h1.8v1.8h-1.8zM85.2 164.9h1.8v1.8h-1.8zM99.2 144.0h1.8v1.8h-1.8zM92.0 162.5h1.8v1.8h-1.8zM90.8 166.7h1.8v1.8h-1.8zM84.8 157.2h1.8v1.8h-1.8zM88.4 148.2h1.8v1.8h-1.8zM73.3 166.1h1.8v1.8h-1.8zM72.6 161.9h1.8v1.8h-1.8zM86.0 159.6h1.8v1.8h-1.8zM70.9 154.1h1.8v1.8h-1.8zM62.0 165.6h1.8v1.8h-1.8zM90.0 159.6h1.8v1.8h-1.8zM87.2 151.0h1.8v1.8h-1.8zM81.9 159.9h1.8v1.8h-1.8zM75.1 141.5h1.8v1.8h-1.8zM92.3 142.5h1.8v1.8h-1.8zM75.4 170.1h1.8v1.8h-1.8zM66.0 153.5h1.8v1.8h-1.8zM71.9 149.4h1.8v1.8h-1.8zM79.8 155.3h1.8v1.8h-1.8zM74.2 160.6h1.8v1.8h-1.8zM67.8 169.3h1.8v1.8h-1.8zM93.7 156.2h1.8v1.8h-1.8zM82.5 164.2h1.8v1.8h-1.8zM72.5 145.8h1.8v1.8h-1.8zM85.5 168.4h1.8v1.8h-1.8zM84.6 169.2h1.8v1.8h-1.8zM94.3 169.4h1.8v1.8h-1.8zM79.6 141.4h1.8v1.8h-1.8zM72.6 155.4h1.8v1.8h-1.8zM71.3 158.5h1.8v1.8h-1.8zM70.9 168.6h1.8v1.8h-1.8zM100.3 166.1h1.8v1.8h-1.8zM73.7 166.4h1.8v1.8h-1.8zM59.6 163.1h1.8v1.8h-1.8zM68.8 153.3h1.8v1.8h-1.8zM71.7 158.4h1.8v1.8h-1.8zM88.8 168.0h1.8v1.8h-1.8zM69.8 156.7h1.8v1.8h-1.8zM80.4 143.9h1.8v1.8h-1.8zM85.7 159.6h1.8v1.8h-1.8zM97.7 163.8h1.8v1.8h-1.8zM109.8 167.7h1.8v1.8h-1.8zM112.5 156.2h1.8v1.8h-1.8zM97.2 160.5h1.8v1.8h-1.8zM64.1 151.1h1.8v1.8h-1.8zM76.0 158.2h1.8v1.8h-1.8zM82.2 155.4h1.8v1.8h-1.8zM101.4 151.4h1.8v1.8h-1.8zM84.5 149.5h1.8v1.8h-1.8zM95.2 159.8h1.8v1.8h-1.8zM83.5 169.1h1.8v1.8h-1.8zM87.1 157.5h1.8v1.8h-1.8zM87.0 154.0h1.8v1.8h-1.8zM77.3 162.5h1.8v1.8h-1.8zM89.8 158.6h1.8v1.8h-1.8zM93.9 160.4h1.8v1.8h-1.8zM76.7 153.5h1.8v1.8h-1.8zM95.5 165.4h1.8v1.8h-1.8zM97.0 152.4h1.8v1.8h-1.8zM81.1 157.6h1.8v1.8h-1.8zM83.3 164.2h1.8v1.8h-1.8zM75.8 155.3h1.8v1.8h-1.8zM78.0 168.2h1.8v1.8h-1.8zM78.5 164.1h1.8v1.8h-1.8zM78.7 161.9h1.8v1.8h-1.8zM72.1 158.9h1.8v1.8h-1.8zM79.3 146.6h1.8v1.8h-1.8zM72.6 156.9h1.8v1.8h-1.8zM92.9 143.4h1.8v1.8h-1.8zM91.6 153.7h1.8v1.8h-1.8zM72.2 157.1h1.8v1.8h-1.8zM90.6 164.9h1.8v1.8h-1.8zM70.6 152.5h1.8v1.8h-1.8zM92.4 142.6h1.8v1.8h-1.8zM72.3 154.5h1.8v1.8h-1.8zM81.3 157.6h1.8v1.8h-1.8zM96.2 157.4h1.8v1.8h-1.8zM69.5 154.5h1.8v1.8h-1.8zM91.1 148.1h1.8v1.8h-1.8zM68.0 151.0h1.8v1.8h-1.8zM82.6 156.5h1.8v1.8h-1.8zM74.8 152.7h1.8v1.8h-1.8zM77.2 152.4h1.8v1.8h-1.8zM71.7 164.3h1.8v1.8h-1.8zM90.7 158.3h1.8v1.8h-1.8zM86.1 151.9h1.8v1.8h-1.8zM92.1 150.6h1.8v1.8h-1.8zM96.3 157.7h1.8v1.8h-1.8zM67.2 162.7h1.8v1.8h-1.8zM92.3 151.2h1.8v1.8h-1.8zM93.3 153.2h1.8v1.8h-1.8zM90.1 152.6h1.8v1.8h-1.8zM96.3 155.5h1.8v1.8h-1.8zM76.6 163.0h1.8v1.8h-1.8zM70.1 170.0h1.8v1.8h-1.8zM76.9 159.0h1.8v1.8h-1.8zM106.2 143.4h1.8v1.8h-1.8zM81.0 152.9h1.8v1.8h-1.8zM70.1 165.8h1.8v1.8h-1.8zM79.0 161.0h1.8v1.8h-1.8zM70.6 161.3h1.8v1.8h-1.8zM77.9 162.3h1.8v1.8h-1.8zM78.5 144.0h1.8v1.8h-1.8zM98.8 162.4h1.8v1.8h-1.8zM79.5 160.8h1.8v1.8h-1.8zM74.0 153.1h1.8v1.8h-1.8zM95.8 164.1h1.8v1.8h-1.8zM68.6 163.8h1.8v1.8h-1.8zM65.6 160.4h1.8v1.8h-1.8zM82.9 167.3h1.8v1.8h-1.8zM83.8 155.2h1.8v1.8h-1.8zM83.2 166.3h1.8v1.8h-1.8zM88.9 162.6h1.8v1.8h-1.8zM85.2 147.0h1.8v1.8h-1.8zM86.9 159.5h1.8v1.8h-1.8zM74.7 165.8h1.8v1.8h-1.8zM78.2 159.6h1.8v1.8h-1.8zM87.1 140.6h1.8v1.8h-1.8zM71.8 165.5h1.8v1.8h-1.8zM77.5 157.7h1.8v1.8h-1.8zM80.9 169.5h1.8v1.8h-1.8zM75.8 151.9h1.8v1.8h-1.8zM68.5 165.7h1.8v1.8h-1.8zM113.8 166.6h1.8v1.8h-1.8zM86.8 147.5h1.8v1.8h-1.8zM77.2 169.0h1.8v1.8h-1.8zM78.7 155.3h1.8v1.8h-1.8zM84.4 149.1h1.8v1.8h-1.8zM81.2 168.3h1.8v1.8h-1.8zM88.8 160.7h1.8v1.8h-1.8zM78.5 169.2h1.8v1.8h-1.8zM72.3 148.7h1.8v1.8h-1.8zM76.3 150.5h1.8v1.8h-1.8zM78.5 165.2h1.8v1.8h-1.8zM54.7 163.2h1.8v1.8h-1.8zM85.5 168.5h1.8v1.8h-1.8zM88.9 170.0h1.8v1.8h-1.8zM85.1 156.0h1.8v1.8h-1.8zM71.6 163.5h1.8v1.8h-1.8zM84.4 157.7h1.8v1.8h-1.8zM82.1 155.9h1.8v1.8h-1.8zM63.9 166.3h1.8v1.8h-1.8zM59.1 166.7h1.8v1.8h-1.8zM87.0 160.1h1.8v1.8h-1.8zM70.8 160.6h1.8v1.8h-1.8zM88.9 150.9h1.8v1.8h-1.8zM100.6 147.7h1.8v1.8h-1.8zM73.4 157.0h1.8v1.8h-1.8zM74.1 161.4h1.8v1.8h-1.8zM82.6 163.0h1.8v1.8h-1.8zM64.8 151.9h1.8v1.8h-1.8zM88.5 143.6h1.8v1.8h-1.8zM90.3 154.3h1.8v1.8h-1.8zM87.4 156.4h1.8v1.8h-1.8zM75.7 161.0h1.8v1.8h-1.8zM95.9 168.8h1.8v1.8h-1.8zM83.3 142.0h1.8v1.8h-1.8zM69.0 163.0h1.8v1.8h-1.8zM96.9 140.8h1.8v1.8h-1.8zM77.1 158.1h1.8v1.8h-1.8zM86.2 161.2h1.8v1.8h-1.8zM71.3 150.7h1.8v1.8h-1.8zM88.0 164.8h1.8v1.8h-1.8zM89.4 147.9h1.8v1.8h-1.8zM69.8 154.8h1.8v1.8h-1.8zM59.8 154.0h1.8v1.8h-1.8zM74.4 155.8h1.8v1.8h-1.8zM66.1 159.2h1.8v1.8h-1.8zM76.4 168.3h1.8v1.8h-1.8zM74.7 148.1h1.8v1.8h-1.8zM81.1 160.8h1.8v1.8h-1.8zM96.1 159.6h1.8v1.8h-1.8zM70.4 161.5h1.8v1.8h-1.8zM86.9 163.1h1.8v1.8h-1.8zM73.9 156.1h1.8v1.8h-1.8zM95.4 156.2h1.8v1.8h-1.8zM104.2 145.8h1.8v1.8h-1.8zM96.1 149.8h1.8v1.8h-1.8zM74.9 159.1h1.8v1.8h-1.8zM67.0 168.8h1.8v1.8h-1.8zM67.1 160.6h1.8v1.8h-1.8zM65.2 164.3h1.8v1.8h-1.8zM72.9 165.6h1.8v1.8h-1.8zM81.5 166.4h1.8v1.8h-1.8zM90.1 149.7h1.8v1.8h-1.8zM87.9 156.5h1.8v1.8h-1.8zM84.9 155.8h1.8v1.8h-1.8zM79.2 165.9h1.8v1.8h-1.8zM76.7 168.1h1.8v1.8h-1.8zM82.6 161.8h1.8v1.8h-1.8zM83.2 160.4h1.8v1.8h-1.8zM81.7 151.0h1.8v1.8h-1.8zM65.3 152.6h1.8v1.8h-1.8zM73.5 163.5h1.8v1.8h-1.8zM92.7 141.4h1.8v1.8h-1.8zM76.5 159.9h1.8v1.8h-1.8zM80.9 141.3h1.8v1.8h-1.8zM97.4 158.1h1.8v1.8h-1.8zM81.6 151.8h1.8v1.8h-1.8zM75.8 155.0h1.8v1.8h-1.8zM71.4 163.8h1.8v1.8h-1.8zM79.5 147.8h1.8v1.8h-1.8zM91.4 153.3h1.8v1.8h-1.8zM86.6 156.9h1.8v1.8h-1.8zM90.1 159.4h1.8v1.8h-1.8zM105.6 162.5h1.8v1.8h-1.8zM77.5 167.5h1.8v1.8h-1.8zM81.5 156.0h1.8v1.8h-1.8zM86.9 154.0h1.8v1.8h-1.8zM92.0 151.5h1.8v1.8h-1.8zM55.0 163.2h1.8v1.8h-1.8zM78.2 166.2h1.8v1.8h-1.8zM78.9 159.6h1.8v1.8h-1.8zM72.9 167.4h1.8v1.8h-1.8zM88.4 153.7h1.8v1.8h-1.8zM84.4 160.9h1.8v1.8h-1.8zM66.6 168.7h1.8v1.8h-1.8zM68.9 157.2h1.8v1.8h-1.8zM85.0 156.2h1.8v1.8h-1.8zM68.2 161.7h1.8v1.8h-1.8zM68.2 167.7h1.8v1.8h-1.8zM73.3 156.9h1.8v1.8h-1.8zM98.4 154.8h1.8v1.8h-1.8zM105.6 149.6h1.8v1.8h-1.8zM71.5 150.0h1.8v1.8h-1.8zM90.2 155.2h1.8v1.8h-1.8zM98.5 162.2h1.8v1.8h-1.8zM90.7 147.5h1.8v1.8h-1.8zM83.7 168.0h1.8v1.8h-1.8zM77.1 162.9h1.8v1.8h-1.8zM80.9 152.7h1.8v1.8h-1.8zM91.0 161.5h1.8v1.8h-1.8zM58.5 157.3h1.8v1.8h-1.8zM77.1 151.7h1.8v1.8h-1.8zM85.9 162.3h1.8v1.8h-1.8zM89.7 146.3h1.8v1.8h-1.8zM101.1 168.5h1.8v1.8h-1.8zM90.1 158.7h1.8v1.8h-1.8zM77.7 169.3h1.8v1.8h-1.8zM80.9 168.4h1.8v1.8h-1.8zM91.6 151.7h1.8v1.8h-1.8zM75.6 162.5h1.8v1.8h-1.8zM82.5 163.4h1.8v1.8h-1.8zM96.3 153.1h1.8v1.8h-1.8zM79.2 162.7h1.8v1.8h-1.8zM91.6 166.3h1.8v1.8h-1.8zM79.8 161.2h1.8v1.8h-1.8zM95.0 160.5h1.8v1.8h-1.8zM94.2 155.5h1.8v1.8h-1.8zM74.2 160.6h1.8v1.8h-1.8zM73.5 155.1h1.8v1.8h-1.8zM78.0 155.0h1.8v1.8h-1.8zM70.0 165.3h1.8v1.8h-1.8zM86.4 161.3h1.8v1.8h-1.8zM72.7 144.9h1.8v1.8h-1.8zM87.5 153.3h1.8v1.8h-1.8zM77.4 166.5h1.8v1.8h-1.8zM72.3 162.2h1.8v1.8h-1.8zM95.3 143.7h1.8v1.8h-1.8zM69.5 156.0h1.8v1.8h-1.8zM69.0 151.1h1.8v1.8h-1.8zM77.2 158.4h1.8v1.8h-1.8zM75.1 169.5h1.8v1.8h-1.8zM74.3 145.1h1.8v1.8h-1.8zM76.7 167.5h1.8v1.8h-1.8zM72.2 149.9h1.8v1.8h-1.8zM88.0 165.3h1.8v1.8h-1.8zM81.6 148.4h1.8v1.8h-1.8zM73.9 162.1h1.8v1.8h-1.8zM86.2 160.5h1.8v1.8h-1.8zM78.2 155.8h1.8v1.8h-1.8zM82.0 163.9h1.8v1.8h-1.8zM62.4 161.6h1.8v1.8h-1.8zM85.8 152.5h1.8v1.8h-1.8zM77.2 154.1h1.8v1.8h-1.8zM97.4 151.8h1.8v1.8h-1.8zM88.9 160.2h1.8v1.8h-1.8zM67.7 164.5h1.8v1.8h-1.8zM88.8 146.7h1.8v1.8h-1.8zM71.2 159.7h1.8v1.8h-1.8zM86.1 152.8h1.8v1.8h-1.8zM77.0 157.9h1.8v1.8h-1.8zM103.3 154.7h1.8v1.8h-1.8zM81.5 158.1h1.8v1.8h-1.8zM96.0 153.6h1.8v1.8h-1.8zM94.1 154.1h1.8v1.8h-1.8zM76.5 160.7h1.8v1.8h-1.8zM76.5 157.3h1.8v1.8h-1.8zM97.8 158.4h1.8v1.8h-1.8zM80.9 158.7h1.8v1.8h-1.8zM72.5 162.2h1.8v1.8h-1.8zM89.1 146.0h1.8v1.8h-1.8zM103.7 143.2h1.8v1.8h-1.8zM79.0 155.0h1.8v1.8h-1.8zM96.6 157.4h1.8v1.8h-1.8zM74.1 147.1h1.8v1.8h-1.8zM96.7 158.7h1.8v1.8h-1.8zM79.5 161.1h1.8v1.8h-1.8zM91.9 148.2h1.8v1.8h-1.8zM83.9 150.5h1.8v1.8h-1.8zM81.3 163.6h1.8v1.8h-1.8zM84.4 159.6h1.8v1.8h-1.8zM69.8 146.9h1.8v1.8h-1.8zM68.5 158.8h1.8v1.8h-1.8zM68.4 156.8h1.8v1.8h-1.8zM80.8 158.7h1.8v1.8h-1.8zM69.4 158.8h1.8v1.8h-1.8zM87.3 160.4h1.8v1.8h-1.8zM85.0 152.9h1.8v1.8h-1.8zM85.3 154.9h1.8v1.8h-1.8zM80.9 170.1h1.8v1.8h-1.8zM81.4 156.9h1.8v1.8h-1.8zM79.8 155.4h1.8v1.8h-1.8zM94.5 153.5h1.8v1.8h-1.8zM69.7 152.9h1.8v1.8h-1.8zM72.8 148.9h1.8v1.8h-1.8zM79.4 159.6h1.8v1.8h-1.8zM78.4 155.2h1.8v1.8h-1.8zM69.9 151.6h1.8v1.8h-1.8zM78.7 168.3h1.8v1.8h-1.8zM93.7 159.5h1.8v1.8h-1.8zM76.3 163.1h1.8v1.8h-1.8zM88.8 150.9h1.8v1.8h-1.8zM100.6 148.6h1.8v1.8h-1.8zM92.1 149.1h1.8v1.8h-1.8zM84.4 144.9h1.8v1.8h-1.8zM87.2 158.7h1.8v1.8h-1.8zM87.0 156.5h1.8v1.8h-1.8zM62.4 157.4h1.8v1.8h-1.8zM91.0 160.0h1.8v1.8h-1.8zM70.1 160.9h1.8v1.8h-1.8zM100.2 166.8h1.8v1.8h-1.8zM95.8 162.7h1.8v1.8h-1.8zM105.9 147.4h1.8v1.8h-1.8zM76.7 157.6h1.8v1.8h-1.8zM64.8 160.3h1.8v1.8h-1.8zM89.3 149.0h1.8v1.8h-1.8zM91.0 157.3h1.8v1.8h-1.8zM73.3 149.9h1.8v1.8h-1.8zM97.8 160.0h1.8v1.8h-1.8zM90.5 160.9h1.8v1.8h-1.8zM68.8 163.3h1.8v1.8h-1.8zM80.7 165.7h1.8v1.8h-1.8zM81.5 161.4h1.8v1.8h-1.8zM74.0 159.6h1.8v1.8h-1.8zM77.7 155.2h1.8v1.8h-1.8zM90.5 163.5h1.8v1.8h-1.8zM74.6 145.1h1.8v1.8h-1.8zM82.1 166.9h1.8v1.8h-1.8zM78.7 160.0h1.8v1.8h-1.8zM79.1 155.7h1.8v1.8h-1.8zM63.5 167.6h1.8v1.8h-1.8zM83.5 158.9h1.8v1.8h-1.8zM85.3 164.4h1.8v1.8h-1.8zM68.1 166.5h1.8v1.8h-1.8zM89.7 153.2h1.8v1.8h-1.8zM80.8 150.8h1.8v1.8h-1.8zM69.3 166.0h1.8v1.8h-1.8zM75.5 138.9h1.8v1.8h-1.8zM77.4 169.0h1.8v1.8h-1.8zM98.9 151.0h1.8v1.8h-1.8zM80.9 144.5h1.8v1.8h-1.8zM75.8 166.3h1.8v1.8h-1.8zM80.9 151.3h1.8v1.8h-1.8zM79.8 155.5h1.8v1.8h-1.8zM87.3 140.6h1.8v1.8h-1.8zM82.6 151.7h1.8v1.8h-1.8zM87.1 157.7h1.8v1.8h-1.8zM70.6 162.9h1.8v1.8h-1.8zM90.2 157.4h1.8v1.8h-1.8zM99.3 144.4h1.8v1.8h-1.8zM89.6 160.1h1.8v1.8h-1.8zM76.4 148.0h1.8v1.8h-1.8zM81.3 153.8h1.8v1.8h-1.8zM82.4 155.6h1.8v1.8h-1.8zM69.3 159.3h1.8v1.8h-1.8zM81.4 157.0h1.8v1.8h-1.8zM79.8 164.5h1.8v1.8h-1.8zM83.4 147.5h1.8v1.8h-1.8zM66.5 163.2h1.8v1.8h-1.8zM74.9 144.5h1.8v1.8h-1.8zM103.4 160.3h1.8v1.8h-1.8zM102.1 153.6h1.8v1.8h-1.8zM93.7 163.9h1.8v1.8h-1.8zM102.6 156.8h1.8v1.8h-1.8zM85.3 151.5h1.8v1.8h-1.8zM89.2 161.6h1.8v1.8h-1.8zM81.4 169.0h1.8v1.8h-1.8zM75.7 168.4h1.8v1.8h-1.8zM82.6 157.5h1.8v1.8h-1.8zM75.3 158.2h1.8v1.8h-1.8zM89.5 157.6h1.8v1.8h-1.8zM82.2 163.2h1.8v1.8h-1.8zM62.1 155.1h1.8v1.8h-1.8zM81.8 164.6h1.8v1.8h-1.8zM75.1 163.8h1.8v1.8h-1.8zM76.0 153.7h1.8v1.8h-1.8zM93.1 153.6h1.8v1.8h-1.8zM102.0 155.3h1.8v1.8h-1.8zM72.5 166.8h1.8v1.8h-1.8zM85.6 150.8h1.8v1.8h-1.8zM88.3 158.3h1.8v1.8h-1.8zM79.0 150.2h1.8v1.8h-1.8zM91.8 145.1h1.8v1.8h-1.8zM86.8 148.4h1.8v1.8h-1.8zM99.5 157.2h1.8v1.8h-1.8zM68.9 160.4h1.8v1.8h-1.8zM75.4 164.1h1.8v1.8h-1.8zM88.1 165.8h1.8v1.8h-1.8zM81.3 149.0h1.8v1.8h-1.8zM86.6 169.4h1.8v1.8h-1.8zM77.9 160.6h1.8v1.8h-1.8zM77.0 159.2h1.8v1.8h-1.8zM87.3 160.2h1.8v1.8h-1.8zM50.8 160.9h1.8v1.8h-1.8zM96.7 151.5h1.8v1.8h-1.8zM73.9 155.4h1.8v1.8h-1.8zM68.6 166.8h1.8v1.8h-1.8zM85.2 153.0h1.8v1.8h-1.8zM66.9 162.3h1.8v1.8h-1.8zM88.3 164.1h1.8v1.8h-1.8zM72.1 148.1h1.8v1.8h-1.8zM88.0 158.3h1.8v1.8h-1.8zM88.2 153.7h1.8v1.8h-1.8zM94.9 155.6h1.8v1.8h-1.8zM68.9 143.6h1.8v1.8h-1.8zM75.5 153.1h1.8v1.8h-1.8zM80.0 155.9h1.8v1.8h-1.8zM83.0 147.1h1.8v1.8h-1.8zM79.0 150.1h1.8v1.8h-1.8zM67.9 163.1h1.8v1.8h-1.8zM94.0 156.0h1.8v1.8h-1.8zM92.5 148.5h1.8v1.8h-1.8zM69.0 165.1h1.8v1.8h-1.8zM81.5 144.4h1.8v1.8h-1.8zM98.8 165.8h1.8v1.8h-1.8zM88.3 152.8h1.8v1.8h-1.8zM72.3 164.0h1.8v1.8h-1.8zM78.4 155.2h1.8v1.8h-1.8zM72.5 151.9h1.8v1.8h-1.8zM78.0 151.7h1.8v1.8h-1.8zM85.8 155.2h1.8v1.8h-1.8zM73.4 155.5h1.8v1.8h-1.8zM79.6 159.3h1.8v1.8h-1.8zM109.6 145.8h1.8v1.8h-1.8zM83.3 166.8h1.8v1.8h-1.8zM90.7 161.0h1.8v1.8h-1.8zM85.3 160.4h1.8v1.8h-1.8zM84.9 161.5h1.8v1.8h-1.8zM69.9 156.9h1.8v1.8h-1.8zM82.2 147.4h1.8v1.8h-1.8zM82.1 162.1h1.8v1.8h-1.8zM90.8 159.2h1.8v1.8h-1.8zM101.5 151.4h1.8v1.8h-1.8zM84.0 160.2h1.8v1.8h-1.8zM90.6 160.3h1.8v1.8h-1.8zM67.7 154.9h1.8v1.8h-1.8zM81.3 155.9h1.8v1.8h-1.8zM93.3 146.0h1.8v1.8h-1.8zM74.6 145.6h1.8v1.8h-1.8zM76.9 165.5h1.8v1.8h-1.8zM82.5 156.4h1.8v1.8h-1.8zM80.8 162.7h1.8v1.8h-1.8zM81.0 164.6h1.8v1.8h-1.8zM74.7 153.9h1.8v1.8h-1.8zM105.2 161.4h1.8v1.8h-1.8zM73.9 164.9h1.8v1.8h-1.8zM80.5 168.1h1.8v1.8h-1.8zM91.6 150.1h1.8v1.8h-1.8zM76.5 155.6h1.8v1.8h-1.8zM94.3 154.7h1.8v1.8h-1.8zM86.4 166.3h1.8v1.8h-1.8zM84.7 167.4h1.8v1.8h-1.8zM60.8 150.8h1.8v1.8h-1.8zM97.5 164.2h1.8v1.8h-1.8zM84.9 153.3h1.8v1.8h-1.8zM86.7 160.8h1.8v1.8h-1.8zM75.8 149.7h1.8v1.8h-1.8zM74.3 154.2h1.8v1.8h-1.8zM70.2 167.0h1.8v1.8h-1.8zM84.5 141.8h1.8v1.8h-1.8zM86.4 163.7h1.8v1.8h-1.8zM76.0 156.5h1.8v1.8h-1.8zM76.1 163.6h1.8v1.8h-1.8zM82.8 159.5h1.8v1.8h-1.8zM78.5 155.2h1.8v1.8h-1.8zM101.2 161.5h1.8v1.8h-1.8zM77.5 166.1h1.8v1.8h-1.8zM65.0 151.1h1.8v1.8h-1.8zM79.3 160.8h1.8v1.8h-1.8zM71.7 161.2h1.8v1.8h-1.8zM84.9 165.2h1.8v1.8h-1.8zM85.3 157.6h1.8v1.8h-1.8zM87.5 162.2h1.8v1.8h-1.8zM81.3 164.1h1.8v1.8h-1.8zM85.9 153.8h1.8v1.8h-1.8zM69.8 156.2h1.8v1.8h-1.8zM80.2 158.6h1.8v1.8h-1.8zM89.7 156.9h1.8v1.8h-1.8zM85.6 161.2h1.8v1.8h-1.8zM69.7 165.8h1.8v1.8h-1.8zM69.3 161.8h1.8v1.8h-1.8zM65.9 166.1h1.8v1.8h-1.8zM97.1 147.8h1.8v1.8h-1.8zM63.2 158.3h1.8v1.8h-1.8zM77.1 153.1h1.8v1.8h-1.8zM100.5 154.6h1.8v1.8h-1.8zM94.0 159.6h1.8v1.8h-1.8zM93.2 151.7h1.8v1.8h-1.8zM76.1 160.0h1.8v1.8h-1.8zM90.2 159.7h1.8v1.8h-1.8zM110.1 144.9h1.8v1.8h-1.8zM85.7 158.0h1.8v1.8h-1.8zM76.6 156.4h1.8v1.8h-1.8zM75.3 145.7h1.8v1.8h-1.8zM85.6 158.8h1.8v1.8h-1.8zM98.0 160.4h1.8v1.8h-1.8zM72.5 162.3h1.8v1.8h-1.8zM79.7 154.4h1.8v1.8h-1.8zM83.0 157.2h1.8v1.8h-1.8zM94.3 151.5h1.8v1.8h-1.8zM85.8 150.3h1.8v1.8h-1.8zM70.5 150.7h1.8v1.8h-1.8zM83.7 149.5h1.8v1.8h-1.8zM85.9 140.2h1.8v1.8h-1.8zM86.6 163.2h1.8v1.8h-1.8zM77.5 159.0h1.8v1.8h-1.8zM87.5 155.2h1.8v1.8h-1.8zM76.1 156.2h1.8v1.8h-1.8zM91.4 147.0h1.8v1.8h-1.8zM81.7 168.2h1.8v1.8h-1.8zM76.0 155.1h1.8v1.8h-1.8zM77.5 158.8h1.8v1.8h-1.8zM80.6 164.7h1.8v1.8h-1.8zM83.8 150.8h1.8v1.8h-1.8zM79.9 155.1h1.8v1.8h-1.8zM94.6 161.0h1.8v1.8h-1.8zM94.7 160.7h1.8v1.8h-1.8zM100.4 167.3h1.8v1.8h-1.8zM100.5 154.2h1.8v1.8h-1.8zM84.1 153.6h1.8v1.8h-1.8zM60.9 152.8h1.8v1.8h-1.8zM86.1 164.3h1.8v1.8h-1.8zM77.7 150.5h1.8v1.8h-1.8zM84.1 163.5h1.8v1.8h-1.8zM69.1 147.0h1.8v1.8h-1.8zM71.2 159.2h1.8v1.8h-1.8zM88.8 155.3h1.8v1.8h-1.8zM86.5 145.6h1.8v1.8h-1.8zM68.8 159.7h1.8v1.8h-1.8zM83.7 150.5h1.8v1.8h-1.8zM80.1 160.6h1.8v1.8h-1.8zM73.5 151.3h1.8v1.8h-1.8zM87.0 154.0h1.8v1.8h-1.8zM85.2 169.1h1.8v1.8h-1.8zM74.2 158.4h1.8v1.8h-1.8zM78.1 163.2h1.8v1.8h-1.8zM70.1 170.1h1.8v1.8h-1.8zM83.8 160.2h1.8v1.8h-1.8zM88.5 168.4h1.8v1.8h-1.8zM73.3 156.7h1.8v1.8h-1.8zM78.9 158.1h1.8v1.8h-1.8zM82.7 144.9h1.8v1.8h-1.8zM90.0 151.3h1.8v1.8h-1.8zM84.6 157.9h1.8v1.8h-1.8zM93.5 160.0h1.8v1.8h-1.8zM82.2 162.2h1.8v1.8h-1.8zM76.8 169.3h1.8v1.8h-1.8zM71.0 156.1h1.8v1.8h-1.8zM79.7 164.2h1.8v1.8h-1.8zM73.4 168.3h1.8v1.8h-1.8zM104.1 158.8h1.8v1.8h-1.8zM83.1 153.7h1.8v1.8h-1.8zM78.1 147.7h1.8v1.8h-1.8zM85.1 151.6h1.8v1.8h-1.8zM65.3 157.3h1.8v1.8h-1.8zM92.2 141.9h1.8v1.8h-1.8zM76.0 149.7h1.8v1.8h-1.8zM77.9 149.0h1.8v1.8h-1.8zM85.3 163.4h1.8v1.8h-1.8zM90.6 148.0h1.8v1.8h-1.8zM86.3 151.2h1.8v1.8h-1.8zM96.0 162.3h1.8v1.8h-1.8zM91.9 162.3h1.8v1.8h-1.8zM85.3 164.8h1.8v1.8h-1.8zM81.0 152.3h1.8v1.8h-1.8zM68.3 149.7h1.8v1.8h-1.8zM63.6 169.8h1.8v1.8h-1.8zM69.6 161.0h1.8v1.8h-1.8zM104.9 146.0h1.8v1.8h-1.8zM85.4 128.6h1.8v1.8h-1.8zM97.9 166.7h1.8v1.8h-1.8zM75.1 159.9h1.8v1.8h-1.8zM95.1 137.5h1.8v1.8h-1.8zM64.5 165.8h1.8v1.8h-1.8zM67.5 159.8h1.8v1.8h-1.8zM75.6 166.9h1.8v1.8h-1.8zM79.7 152.5h1.8v1.8h-1.8zM83.4 159.3h1.8v1.8h-1.8zM98.1 148.0h1.8v1.8h-1.8zM88.4 149.9h1.8v1.8h-1.8zM94.2 157.1h1.8v1.8h-1.8zM90.1 168.5h1.8v1.8h-1.8zM81.0 162.8h1.8v1.8h-1.8zM73.0 158.8h1.8v1.8h-1.8zM68.2 169.2h1.8v1.8h-1.8zM73.4 164.4h1.8v1.8h-1.8zM80.0 166.6h1.8v1.8h-1.8zM86.5 151.7h1.8v1.8h-1.8zM65.3 167.2h1.8v1.8h-1.8zM83.2 158.2h1.8v1.8h-1.8zM84.2 157.5h1.8v1.8h-1.8zM77.3 161.3h1.8v1.8h-1.8zM71.4 156.8h1.8v1.8h-1.8zM84.0 168.2h1.8v1.8h-1.8zM78.9 170.1h1.8v1.8h-1.8zM71.6 154.3h1.8v1.8h-1.8zM80.3 152.7h1.8v1.8h-1.8zM81.8 157.0h1.8v1.8h-1.8zM59.1 154.0h1.8v1.8h-1.8zM76.5 153.1h1.8v1.8h-1.8zM87.5 163.4h1.8v1.8h-1.8zM84.0 139.0h1.8v1.8h-1.8zM85.6 149.1h1.8v1.8h-1.8zM82.7 157.3h1.8v1.8h-1.8zM69.7 163.2h1.8v1.8h-1.8zM73.5 162.0h1.8v1.8h-1.8zM87.3 149.5h1.8v1.8h-1.8zM77.2 168.6h1.8v1.8h-1.8zM83.1 137.3h1.8v1.8h-1.8zM94.6 156.6h1.8v1.8h-1.8zM65.9 152.4h1.8v1.8h-1.8zM82.9 151.8h1.8v1.8h-1.8zM79.7 158.9h1.8v1.8h-1.8zM105.7 162.1h1.8v1.8h-1.8zM86.1 148.7h1.8v1.8h-1.8zM71.4 150.6h1.8v1.8h-1.8zM88.1 164.4h1.8v1.8h-1.8zM71.9 162.3h1.8v1.8h-1.8zM79.6 159.7h1.8v1.8h-1.8zM84.8 162.2h1.8v1.8h-1.8zM85.7 165.7h1.8v1.8h-1.8zM84.5 158.8h1.8v1.8h-1.8zM62.5 165.4h1.8v1.8h-1.8zM77.6 160.7h1.8v1.8h-1.8zM68.7 154.3h1.8v1.8h-1.8zM70.9 154.5h1.8v1.8h-1.8zM103.6 154.5h1.8v1.8h-1.8zM92.9 155.8h1.8v1.8h-1.8zM76.4 153.1h1.8v1.8h-1.8zM69.1 169.2h1.8v1.8h-1.8zM69.0 165.5h1.8v1.8h-1.8zM80.2 148.0h1.8v1.8h-1.8zM90.4 152.4h1.8v1.8h-1.8zM73.9 150.6h1.8v1.8h-1.8zM79.5 152.1h1.8v1.8h-1.8zM84.4 160.1h1.8v1.8h-1.8zM87.2 145.5h1.8v1.8h-1.8zM58.9 157.9h1.8v1.8h-1.8zM83.7 161.1h1.8v1.8h-1.8zM81.6 149.9h1.8v1.8h-1.8zM89.2 152.9h1.8v1.8h-1.8zM84.0 155.4h1.8v1.8h-1.8zM69.9 162.5h1.8v1.8h-1.8zM76.7 164.3h1.8v1.8h-1.8zM65.0 162.3h1.8v1.8h-1.8zM80.3 152.5h1.8v1.8h-1.8zM81.3 154.8h1.8v1.8h-1.8zM89.7 165.3h1.8v1.8h-1.8zM74.7 170.0h1.8v1.8h-1.8zM69.9 163.5h1.8v1.8h-1.8zM99.6 161.5h1.8v1.8h-1.8zM85.1 163.4h1.8v1.8h-1.8zM94.2 143.7h1.8v1.8h-1.8zM90.1 168.2h1.8v1.8h-1.8zM89.9 158.2h1.8v1.8h-1.8zM87.6 141.9h1.8v1.8h-1.8zM87.0 155.4h1.8v1.8h-1.8zM73.0 144.7h1.8v1.8h-1.8zM83.3 157.1h1.8v1.8h-1.8zM54.3 168.3h1.8v1.8h-1.8zM84.4 154.7h1.8v1.8h-1.8zM53.2 167.7h1.8v1.8h-1.8zM75.8 169.7h1.8v1.8h-1.8zM88.1 152.1h1.8v1.8h-1.8zM64.9 170.0h1.8v1.8h-1.8zM56.9 153.0h1.8v1.8h-1.8zM73.5 153.7h1.8v1.8h-1.8zM96.8 151.9h1.8v1.8h-1.8zM93.6 145.6h1.8v1.8h-1.8zM75.3 161.9h1.8v1.8h-1.8zM90.4 154.4h1.8v1.8h-1.8zM87.2 157.9h1.8v1.8h-1.8zM82.4 155.5h1.8v1.8h-1.8zM86.5 162.2h1.8v1.8h-1.8zM69.6 152.1h1.8v1.8h-1.8zM87.4 152.7h1.8v1.8h-1.8zM96.2 165.7h1.8v1.8h-1.8zM105.5 144.4h1.8v1.8h-1.8zM94.8 166.4h1.8v1.8h-1.8zM68.7 162.4h1.8v1.8h-1.8zM84.5 158.3h1.8v1.8h-1.8zM62.1 164.7h1.8v1.8h-1.8zM76.0 151.5h1.8v1.8h-1.8zM79.2 164.2h1.8v1.8h-1.8zM82.8 164.5h1.8v1.8h-1.8zM82.6 165.8h1.8v1.8h-1.8zM84.8 144.0h1.8v1.8h-1.8zM96.3 155.7h1.8v1.8h-1.8zM87.7 156.6h1.8v1.8h-1.8zM69.5 162.0h1.8v1.8h-1.8zM71.1 159.3h1.8v1.8h-1.8zM76.1 165.3h1.8v1.8h-1.8zM80.2 158.8h1.8v1.8h-1.8zM76.7 160.5h1.8v1.8h-1.8zM72.3 163.4h1.8v1.8h-1.8zM86.3 146.5h1.8v1.8h-1.8zM86.1 148.6h1.8v1.8h-1.8zM87.6 149.4h1.8v1.8h-1.8zM74.9 147.5h1.8v1.8h-1.8zM88.9 165.0h1.8v1.8h-1.8zM69.2 158.7h1.8v1.8h-1.8zM78.7 168.0h1.8v1.8h-1.8zM84.1 151.0h1.8v1.8h-1.8zM77.3 154.6h1.8v1.8h-1.8zM64.3 151.0h1.8v1.8h-1.8zM81.7 158.2h1.8v1.8h-1.8zM89.0 166.2h1.8v1.8h-1.8zM86.6 167.5h1.8v1.8h-1.8zM76.3 165.7h1.8v1.8h-1.8zM80.7 156.7h1.8v1.8h-1.8zM80.8 169.6h1.8v1.8h-1.8zM77.6 153.8h1.8v1.8h-1.8zM89.1 157.7h1.8v1.8h-1.8zM98.3 150.8h1.8v1.8h-1.8zM93.8 147.6h1.8v1.8h-1.8zM83.2 147.7h1.8v1.8h-1.8zM74.4 154.6h1.8v1.8h-1.8zM78.4 161.1h1.8v1.8h-1.8zM79.3 162.0h1.8v1.8h-1.8zM92.5 155.1h1.8v1.8h-1.8zM81.2 152.9h1.8v1.8h-1.8zM57.8 158.3h1.8v1.8h-1.8zM77.1 150.4h1.8v1.8h-1.8zM95.0 156.2h1.8v1.8h-1.8zM70.5 158.9h1.8v1.8h-1.8zM53.7 156.7h1.8v1.8h-1.8zM96.5 160.2h1.8v1.8h-1.8zM100.0 162.8h1.8v1.8h-1.8zM86.4 158.2h1.8v1.8h-1.8zM95.1 158.3h1.8v1.8h-1.8zM68.8 152.2h1.8v1.8h-1.8zM87.6 143.7h1.8v1.8h-1.8zM97.8 152.9h1.8v1.8h-1.8zM87.8 157.8h1.8v1.8h-1.8zM83.1 156.4h1.8v1.8h-1.8zM92.4 151.4h1.8v1.8h-1.8zM89.8 149.6h1.8v1.8h-1.8zM91.3 146.9h1.8v1.8h-1.8zM87.7 154.8h1.8v1.8h-1.8zM85.9 165.9h1.8v1.8h-1.8zM90.2 146.0h1.8v1.8h-1.8zM90.3 156.1h1.8v1.8h-1.8zM87.8 155.0h1.8v1.8h-1.8zM78.1 165.7h1.8v1.8h-1.8zM81.0 137.6h1.8v1.8h-1.8zM69.4 161.6h1.8v1.8h-1.8zM77.2 153.8h1.8v1.8h-1.8zM64.5 165.9h1.8v1.8h-1.8zM83.4 153.0h1.8v1.8h-1.8zM83.1 165.8h1.8v1.8h-1.8zM83.9 163.3h1.8v1.8h-1.8zM90.0 163.9h1.8v1.8h-1.8zM87.9 165.4h1.8v1.8h-1.8zM75.0 168.4h1.8v1.8h-1.8zM79.8 154.5h1.8v1.8h-1.8zM81.3 161.5h1.8v1.8h-1.8zM77.0 163.4h1.8v1.8h-1.8zM81.0 162.2h1.8v1.8h-1.8zM78.6 163.0h1.8v1.8h-1.8zM75.1 162.5h1.8v1.8h-1.8zM76.4 157.4h1.8v1.8h-1.8zM83.0 157.5h1.8v1.8h-1.8zM97.6 143.0h1.8v1.8h-1.8zM70.2 155.9h1.8v1.8h-1.8zM88.4 162.1h1.8v1.8h-1.8zM65.9 162.9h1.8v1.8h-1.8zM96.6 152.9h1.8v1.8h-1.8zM76.1 156.5h1.8v1.8h-1.8zM77.0 146.5h1.8v1.8h-1.8zM91.9 150.6h1.8v1.8h-1.8zM95.7 166.6h1.8v1.8h-1.8zM66.4 164.6h1.8v1.8h-1.8zM84.1 151.6h1.8v1.8h-1.8zM81.1 165.0h1.8v1.8h-1.8zM85.4 152.8h1.8v1.8h-1.8zM80.5 153.9h1.8v1.8h-1.8zM83.0 144.4h1.8v1.8h-1.8zM78.2 145.2h1.8v1.8h-1.8zM81.0 162.6h1.8v1.8h-1.8zM92.7 155.0h1.8v1.8h-1.8zM66.3 165.9h1.8v1.8h-1.8zM79.1 165.9h1.8v1.8h-1.8zM70.3 159.7h1.8v1.8h-1.8zM79.7 159.7h1.8v1.8h-1.8zM74.0 154.5h1.8v1.8h-1.8zM76.8 153.3h1.8v1.8h-1.8zM73.9 155.6h1.8v1.8h-1.8zM79.6 168.1h1.8v1.8h-1.8zM77.4 151.8h1.8v1.8h-1.8zM82.9 155.3h1.8v1.8h-1.8zM75.7 162.4h1.8v1.8h-1.8zM72.1 155.9h1.8v1.8h-1.8zM77.0 166.7h1.8v1.8h-1.8zM94.5 146.1h1.8v1.8h-1.8zM81.7 155.7h1.8v1.8h-1.8zM83.6 154.9h1.8v1.8h-1.8zM72.1 146.8h1.8v1.8h-1.8zM70.5 148.3h1.8v1.8h-1.8zM69.8 156.4h1.8v1.8h-1.8zM99.6 161.0h1.8v1.8h-1.8zM85.3 161.0h1.8v1.8h-1.8zM78.7 154.5h1.8v1.8h-1.8zM77.0 156.6h1.8v1.8h-1.8zM66.1 166.0h1.8v1.8h-1.8zM70.0 166.2h1.8v1.8h-1.8zM85.4 143.7h1.8v1.8h-1.8zM72.0 156.7h1.8v1.8h-1.8zM86.9 149.6h1.8v1.8h-1.8zM91.7 165.7h1.8v1.8h-1.8zM84.8 152.5h1.8v1.8h-1.8zM85.6 149.7h1.8v1.8h-1.8zM72.0 170.1h1.8v1.8h-1.8zM75.0 157.7h1.8v1.8h-1.8zM90.5 162.8h1.8v1.8h-1.8zM65.7 157.3h1.8v1.8h-1.8zM103.1 165.6h1.8v1.8h-1.8zM75.3 160.7h1.8v1.8h-1.8zM80.8 160.2h1.8v1.8h-1.8zM70.4 161.6h1.8v1.8h-1.8zM84.3 157.0h1.8v1.8h-1.8zM74.0 162.2h1.8v1.8h-1.8zM77.6 157.6h1.8v1.8h-1.8zM85.1 137.4h1.8v1.8h-1.8zM61.4 157.0h1.8v1.8h-1.8zM84.1 154.3h1.8v1.8h-1.8zM82.8 157.0h1.8v1.8h-1.8zM89.9 167.6h1.8v1.8h-1.8zM73.0 167.3h1.8v1.8h-1.8zM90.9 154.5h1.8v1.8h-1.8zM87.6 149.0h1.8v1.8h-1.8zM86.8 164.0h1.8v1.8h-1.8zM82.3 145.3h1.8v1.8h-1.8zM86.0 155.9h1.8v1.8h-1.8zM82.1 151.0h1.8v1.8h-1.8zM67.9 165.9h1.8v1.8h-1.8zM78.8 157.2h1.8v1.8h-1.8zM74.7 149.1h1.8v1.8h-1.8zM91.5 151.2h1.8v1.8h-1.8zM77.4 149.3h1.8v1.8h-1.8zM76.5 161.8h1.8v1.8h-1.8zM63.5 154.8h1.8v1.8h-1.8zM80.9 160.9h1.8v1.8h-1.8zM74.0 158.5h1.8v1.8h-1.8zM77.3 153.7h1.8v1.8h-1.8zM86.7 144.5h1.8v1.8h-1.8zM77.3 148.3h1.8v1.8h-1.8zM71.8 165.3h1.8v1.8h-1.8zM65.9 153.5h1.8v1.8h-1.8zM63.8 161.1h1.8v1.8h-1.8zM90.7 168.0h1.8v1.8h-1.8zM77.8 166.0h1.8v1.8h-1.8zM95.8 163.4h1.8v1.8h-1.8zM84.9 159.8h1.8v1.8h-1.8zM74.8 165.8h1.8v1.8h-1.8zM83.2 158.3h1.8v1.8h-1.8zM89.7 145.1h1.8v1.8h-1.8zM79.8 161.1h1.8v1.8h-1.8zM67.6 156.2h1.8v1.8h-1.8zM76.6 166.2h1.8v1.8h-1.8zM68.0 163.1h1.8v1.8h-1.8zM85.2 157.5h1.8v1.8h-1.8zM97.5 167.3h1.8v1.8h-1.8zM74.6 154.1h1.8v1.8h-1.8zM90.4 159.7h1.8v1.8h-1.8zM83.6 141.4h1.8v1.8h-1.8zM104.6 168.6h1.8v1.8h-1.8zM70.4 140.1h1.8v1.8h-1.8zM83.5 153.8h1.8v1.8h-1.8zM75.7 144.5h1.8v1.8h-1.8zM81.7 152.7h1.8v1.8h-1.8zM95.9 159.1h1.8v1.8h-1.8zM76.0 158.9h1.8v1.8h-1.8zM79.9 151.0h1.8v1.8h-1.8zM71.7 163.5h1.8v1.8h-1.8zM79.0 158.6h1.8v1.8h-1.8zM77.1 167.6h1.8v1.8h-1.8zM75.5 166.2h1.8v1.8h-1.8zM76.9 155.4h1.8v1.8h-1.8zM73.7 154.2h1.8v1.8h-1.8zM84.2 156.6h1.8v1.8h-1.8zM87.7 153.3h1.8v1.8h-1.8zM67.1 166.2h1.8v1.8h-1.8zM86.8 146.1h1.8v1.8h-1.8zM59.6 168.3h1.8v1.8h-1.8zM80.2 150.8h1.8v1.8h-1.8zM89.2 159.0h1.8v1.8h-1.8zM75.1 162.6h1.8v1.8h-1.8zM77.5 157.1h1.8v1.8h-1.8zM67.9 149.7h1.8v1.8h-1.8zM92.8 162.3h1.8v1.8h-1.8zM47.3 165.2h1.8v1.8h-1.8zM69.6 158.6h1.8v1.8h-1.8zM61.7 165.5h1.8v1.8h-1.8zM83.7 160.1h1.8v1.8h-1.8zM91.2 148.4h1.8v1.8h-1.8zM90.2 149.0h1.8v1.8h-1.8zM82.3 144.6h1.8v1.8h-1.8zM86.3 164.5h1.8v1.8h-1.8zM71.6 157.6h1.8v1.8h-1.8zM90.7 149.3h1.8v1.8h-1.8zM79.7 140.1h1.8v1.8h-1.8zM70.5 157.2h1.8v1.8h-1.8zM71.1 169.9h1.8v1.8h-1.8zM78.0 168.4h1.8v1.8h-1.8zM87.5 145.8h1.8v1.8h-1.8zM92.7 153.1h1.8v1.8h-1.8zM98.1 155.7h1.8v1.8h-1.8zM68.5 150.9h1.8v1.8h-1.8zM75.9 156.8h1.8v1.8h-1.8zM96.1 157.3h1.8v1.8h-1.8zM86.3 165.1h1.8v1.8h-1.8zM83.2 144.2h1.8v1.8h-1.8zM64.3 155.6h1.8v1.8h-1.8zM80.8 168.1h1.8v1.8h-1.8zM79.1 155.1h1.8v1.8h-1.8zM78.3 162.2h1.8v1.8h-1.8zM72.8 151.3h1.8v1.8h-1.8zM97.5 153.9h1.8v1.8h-1.8zM86.6 167.7h1.8v1.8h-1.8zM63.6 157.3h1.8v1.8h-1.8zM89.1 149.4h1.8v1.8h-1.8zM77.3 148.8h1.8v1.8h-1.8zM83.5 145.9h1.8v1.8h-1.8zM74.4 149.0h1.8v1.8h-1.8zM73.6 162.4h1.8v1.8h-1.8zM70.3 154.2h1.8v1.8h-1.8zM83.7 155.9h1.8v1.8h-1.8zM85.7 149.1h1.8v1.8h-1.8zM86.3 158.0h1.8v1.8h-1.8zM89.4 160.7h1.8v1.8h-1.8zM98.4 144.7h1.8v2.4h-1.8zM98.4 143.0h1.4v2.4h-1.4zM90.1 146.8h2.4v2.4h-2.4zM96.9 143.3h2.4v1.8h-2.4zM86.0 138.6h2.4v1.4h-2.4zM81.8 141.9h1.8v2.4h-1.8zM80.2 148.6h1.8v1.8h-1.8zM88.4 139.6h2.4v2.4h-2.4zM91.7 140.1h1.4v1.8h-1.4zM104.2 138.3h1.4v1.4h-1.4zM86.8 146.1h1.8v2.4h-1.8zM100.7 133.0h1.4v2.4h-1.4zM77.3 148.3h1.4v1.8h-1.4zM90.9 146.9h2.4v2.4h-2.4zM110.9 137.6h1.4v1.8h-1.4zM89.8 150.1h2.4v2.4h-2.4zM82.3 144.4h1.4v1.4h-1.4zM83.7 151.3h1.8v2.4h-1.8zM112.5 144.6h1.4v2.4h-1.4zM102.3 142.2h2.4v1.4h-2.4zM87.4 148.8h1.4v1.4h-1.4zM88.3 148.6h1.4v2.4h-1.4zM88.3 141.3h1.8v1.4h-1.8zM105.4 142.7h1.4v1.4h-1.4zM72.7 144.5h1.4v1.8h-1.4zM100.4 141.1h2.4v1.8h-2.4zM96.9 143.5h1.8v1.8h-1.8zM106.0 143.2h1.8v1.4h-1.8zM86.2 144.4h1.4v1.8h-1.4zM94.4 145.7h2.4v2.4h-2.4zM102.5 139.0h2.4v1.8h-2.4zM97.4 147.7h1.8v2.4h-1.8zM96.2 138.6h1.4v2.4h-1.4zM87.7 142.2h2.4v1.4h-2.4zM90.1 145.3h1.4v1.4h-1.4zM88.5 151.3h1.8v1.8h-1.8zM92.5 143.8h2.4v2.4h-2.4zM91.4 143.0h1.8v2.4h-1.8zM88.2 141.6h1.4v1.4h-1.4zM74.5 153.7h1.8v2.4h-1.8zM78.2 145.0h2.4v2.4h-2.4zM90.3 142.5h2.4v1.4h-2.4zM100.7 138.5h1.8v2.4h-1.8zM85.2 150.1h1.4v2.4h-1.4zM85.5 141.6h1.4v1.4h-1.4zM89.7 140.1h1.4v1.8h-1.4zM99.7 140.9h2.4v1.8h-2.4zM105.4 138.2h1.8v1.4h-1.8zM91.5 136.7h1.8v1.8h-1.8zM90.0 139.8h2.4v1.8h-2.4zM83.6 143.2h1.4v2.4h-1.4zM94.6 142.1h1.4v2.4h-1.4zM87.6 140.9h1.4v1.4h-1.4zM95.2 150.1h1.4v2.4h-1.4zM84.0 146.9h1.8v1.8h-1.8zM102.1 144.3h1.8v2.4h-1.8zM88.2 145.6h2.4v2.4h-2.4zM78.5 148.8h1.8v2.4h-1.8zM91.9 146.0h2.4v2.4h-2.4zM81.3 145.3h1.8v1.8h-1.8zM93.3 134.7h1.4v2.4h-1.4zM103.1 140.7h1.8v1.4h-1.8zM94.8 138.7h2.4v2.4h-2.4zM91.7 148.6h1.4v1.8h-1.4zM82.9 142.3h1.4v1.4h-1.4zM87.3 145.2h1.4v1.8h-1.4zM109.4 136.7h1.8v1.4h-1.8zM99.5 137.7h2.4v2.4h-2.4zM82.2 144.8h1.8v1.8h-1.8zM83.1 145.4h1.8v2.4h-1.8zM94.8 142.6h1.8v2.4h-1.8zM92.6 143.8h2.4v2.4h-2.4zM92.5 142.9h1.4v2.4h-1.4zM96.7 141.1h2.4v2.4h-2.4zM79.3 138.0h2.4v2.4h-2.4zM86.6 150.7h2.4v2.4h-2.4zM101.1 142.5h1.4v1.4h-1.4zM92.6 137.3h1.8v1.4h-1.8zM88.4 140.6h2.4v2.4h-2.4zM87.9 135.3h1.8v1.4h-1.8zM93.1 129.9h2.4v2.4h-2.4zM93.6 140.3h1.8v1.8h-1.8zM88.3 151.4h1.8v1.8h-1.8zM82.1 147.2h1.4v2.4h-1.4zM98.8 141.4h1.8v2.4h-1.8zM81.6 147.0h1.8v1.8h-1.8zM109.8 138.9h1.8v1.4h-1.8zM82.0 146.4h1.4v2.4h-1.4zM85.4 141.8h1.4v1.8h-1.4zM100.2 137.5h1.4v2.4h-1.4zM105.0 141.2h2.4v2.4h-2.4zM91.8 141.3h1.4v1.8h-1.4zM91.5 145.5h1.4v2.4h-1.4zM74.4 150.3h1.8v1.8h-1.8zM89.4 149.6h2.4v1.4h-2.4zM99.1 140.8h1.8v2.4h-1.8zM98.5 140.7h1.4v1.4h-1.4zM92.7 142.3h1.8v1.4h-1.8zM92.8 139.3h2.4v1.8h-2.4zM97.5 142.2h1.8v1.8h-1.8zM87.8 142.3h1.4v1.8h-1.4zM87.2 140.3h2.4v1.4h-2.4zM101.9 138.9h1.8v1.8h-1.8zM96.1 141.9h1.8v2.4h-1.8zM102.6 140.7h1.4v2.4h-1.4zM96.2 144.3h1.4v1.4h-1.4zM98.1 150.1h1.4v1.4h-1.4zM98.5 139.5h1.8v1.4h-1.8zM99.8 145.9h2.4v1.8h-2.4zM106.4 137.8h1.4v1.4h-1.4zM97.1 141.7h1.4v1.8h-1.4zM89.0 147.5h1.8v1.8h-1.8zM87.4 141.0h1.8v1.4h-1.8zM83.8 145.6h1.8v2.4h-1.8zM94.8 144.9h1.4v1.4h-1.4zM84.0 139.7h2.4v1.8h-2.4zM79.5 143.5h1.8v1.8h-1.8zM96.7 139.3h1.8v2.4h-1.8zM104.3 138.4h1.4v1.8h-1.4zM79.4 150.8h1.8v1.4h-1.8zM98.3 135.2h2.4v2.4h-2.4zM95.6 147.6h1.4v2.4h-1.4zM84.2 148.8h1.4v1.8h-1.4zM86.9 147.4h1.4v2.4h-1.4zM87.5 136.2h2.4v2.4h-2.4zM111.7 137.2h1.8v1.4h-1.8zM92.8 139.3h1.4v2.4h-1.4zM106.2 140.9h1.8v1.4h-1.8zM86.7 144.5h1.4v1.8h-1.4zM100.2 138.1h1.4v1.8h-1.4zM97.5 137.0h1.8v2.4h-1.8zM85.8 144.2h1.8v2.4h-1.8zM87.9 147.3h1.8v2.4h-1.8zM93.8 135.3h2.4v1.8h-2.4zM77.5 145.0h2.4v2.4h-2.4zM91.3 142.1h1.4v2.4h-1.4zM80.6 146.2h2.4v1.4h-2.4zM91.3 141.2h1.4v2.4h-1.4zM95.7 142.4h1.4v1.4h-1.4zM97.8 141.1h1.8v1.8h-1.8zM92.4 133.9h1.8v1.4h-1.8zM91.7 147.4h1.8v2.4h-1.8zM85.4 139.3h2.4v1.8h-2.4zM86.3 150.0h1.8v1.8h-1.8zM87.8 147.8h1.4v2.4h-1.4zM85.9 137.7h2.4v1.8h-2.4zM87.7 145.0h1.8v1.4h-1.8zM95.2 147.6h1.8v1.8h-1.8zM88.0 150.3h2.4v1.4h-2.4zM78.7 148.6h1.4v1.4h-1.4zM96.5 138.0h1.4v1.4h-1.4zM87.1 149.9h2.4v1.4h-2.4zM75.7 142.5h1.8v1.4h-1.8zM82.0 140.2h1.4v2.4h-1.4zM90.0 147.0h1.8v2.4h-1.8zM88.3 139.1h1.8v1.4h-1.8zM94.4 144.5h1.4v1.8h-1.4zM106.6 133.1h1.4v2.4h-1.4zM79.9 144.7h2.4v1.4h-2.4zM107.0 142.5h2.4v1.8h-2.4zM93.1 142.2h2.4v2.4h-2.4zM90.0 146.4h1.8v2.4h-1.8zM72.6 149.2h1.4v1.8h-1.4zM88.8 142.2h2.4v1.8h-2.4zM96.4 138.4h2.4v1.8h-2.4zM81.6 142.8h2.4v1.8h-2.4zM79.4 149.2h2.4v2.4h-2.4zM81.4 148.8h1.8v1.4h-1.8zM95.5 148.8h2.4v1.8h-2.4zM92.5 144.0h2.4v1.8h-2.4zM104.9 137.2h1.8v2.4h-1.8zM88.4 146.4h2.4v1.8h-2.4zM100.5 146.0h1.8v1.4h-1.8zM79.5 141.4h1.8v2.4h-1.8zM92.2 150.0h1.4v1.8h-1.4zM99.9 136.6h1.8v1.8h-1.8zM88.2 140.9h2.4v1.4h-2.4zM99.7 151.1h2.4v1.4h-2.4zM82.5 151.1h1.4v2.4h-1.4zM83.0 143.9h1.4v1.8h-1.4zM88.3 148.0h1.4v1.8h-1.4zM84.0 151.7h2.4v2.4h-2.4zM88.7 147.1h2.4v1.8h-2.4zM105.7 142.7h2.4v1.4h-2.4zM90.3 145.2h1.8v2.4h-1.8zM94.6 144.3h1.4v1.8h-1.4zM103.5 134.0h1.4v1.8h-1.4zM90.6 139.1h2.4v1.8h-2.4zM90.8 144.2h1.4v1.4h-1.4zM85.9 139.5h2.4v1.8h-2.4zM102.2 142.1h1.4v2.4h-1.4zM99.4 139.9h1.8v1.8h-1.8zM110.9 141.2h2.4v1.8h-2.4zM110.6 140.0h1.4v2.4h-1.4zM78.7 146.1h1.8v2.4h-1.8zM94.7 130.5h2.4v1.4h-2.4zM107.9 131.1h1.8v1.4h-1.8zM94.7 142.0h2.4v1.4h-2.4zM96.2 150.2h1.8v1.8h-1.8zM82.3 146.6h2.4v2.4h-2.4zM102.6 141.6h1.4v2.4h-1.4zM83.5 146.0h2.4v1.4h-2.4zM89.9 132.4h2.4v1.4h-2.4zM90.1 146.3h1.8v2.4h-1.8zM95.7 140.6h2.4v1.8h-2.4zM86.4 138.6h2.4v2.4h-2.4zM89.5 146.9h1.4v1.8h-1.4zM100.8 139.6h1.8v2.4h-1.8zM95.8 154.2h2.4v2.4h-2.4zM96.8 131.8h2.4v1.8h-2.4zM85.4 142.0h1.8v1.8h-1.8zM104.8 138.6h1.4v1.4h-1.4zM96.1 139.9h1.8v2.4h-1.8zM103.4 141.6h1.8v2.4h-1.8zM99.9 143.9h1.4v2.4h-1.4zM79.5 149.6h2.4v1.8h-2.4zM70.4 151.1h1.8v2.4h-1.8zM100.2 137.1h2.4v1.4h-2.4zM88.3 145.1h1.8v1.4h-1.8zM89.9 147.6h1.4v1.4h-1.4zM85.2 146.0h1.8v1.8h-1.8zM84.5 136.8h1.8v1.4h-1.8zM96.9 148.4h1.4v1.8h-1.4zM98.9 138.4h1.4v1.4h-1.4zM90.8 147.2h1.4v2.4h-1.4zM72.8 147.9h2.4v2.4h-2.4zM98.6 145.2h1.8v1.8h-1.8zM94.1 140.9h1.8v1.8h-1.8zM88.8 150.5h1.8v1.8h-1.8zM82.8 151.9h2.4v1.8h-2.4zM79.8 144.7h1.4v2.4h-1.4zM98.6 128.2h2.4v1.8h-2.4zM87.3 146.2h2.4v1.8h-2.4zM100.9 135.6h1.4v1.8h-1.4zM91.2 147.5h1.4v1.4h-1.4zM100.0 141.7h1.8v1.4h-1.8zM83.6 144.5h1.8v1.4h-1.8zM80.0 143.4h1.8v1.8h-1.8zM89.1 140.4h1.8v2.4h-1.8zM79.3 153.9h1.8v1.4h-1.8zM81.9 150.8h1.4v2.4h-1.4zM95.7 140.8h1.8v2.4h-1.8zM105.7 139.4h2.4v1.8h-2.4zM94.8 145.9h2.4v2.4h-2.4zM77.7 147.4h1.4v1.4h-1.4zM80.8 139.4h2.4v1.4h-2.4zM95.8 148.7h1.8v1.4h-1.8zM90.3 142.2h1.8v2.4h-1.8zM111.5 133.3h2.4v2.4h-2.4zM108.1 137.3h2.4v2.4h-2.4zM88.2 140.3h2.4v1.8h-2.4zM108.3 132.5h1.4v1.8h-1.4zM84.3 146.8h2.4v1.4h-2.4zM83.0 143.3h1.8v1.4h-1.8zM104.8 140.2h2.4v1.8h-2.4zM83.7 147.8h1.8v1.4h-1.8zM90.0 152.2h1.4v2.4h-1.4zM105.3 137.1h1.4v1.4h-1.4zM88.7 144.7h1.4v1.4h-1.4zM102.9 136.8h1.4v1.4h-1.4zM99.7 145.3h1.4v1.4h-1.4zM89.2 146.2h2.4v1.4h-2.4zM98.1 142.5h1.4v1.4h-1.4zM104.3 146.6h2.4v2.4h-2.4zM99.6 141.6h1.4v2.4h-1.4zM85.3 146.7h1.8v1.4h-1.8zM98.4 135.2h1.4v1.8h-1.4zM69.8 143.7h1.4v1.8h-1.4zM88.7 142.1h2.4v2.4h-2.4zM92.6 143.3h1.4v1.8h-1.4zM98.5 136.0h1.8v2.4h-1.8zM102.4 135.2h2.4v2.4h-2.4zM81.5 150.1h1.8v2.4h-1.8zM86.4 142.7h1.8v2.4h-1.8zM90.1 141.3h2.4v2.4h-2.4zM87.4 143.3h1.4v2.4h-1.4zM93.6 137.8h2.4v1.8h-2.4zM98.6 144.4h1.4v1.4h-1.4zM99.7 146.4h1.8v1.8h-1.8zM90.4 148.1h1.8v1.8h-1.8zM121.3 139.0h1.4v1.4h-1.4zM79.3 139.3h2.4v1.4h-2.4zM91.5 147.2h1.8v2.4h-1.8zM105.1 137.8h2.4v2.4h-2.4zM100.9 145.7h1.8v1.8h-1.8zM98.0 138.2h1.8v1.8h-1.8zM104.0 142.2h1.8v2.4h-1.8zM93.0 150.4h1.8v2.4h-1.8zM94.0 145.1h1.4v2.4h-1.4zM102.1 140.1h1.8v2.4h-1.8zM105.9 137.4h1.8v1.8h-1.8zM82.1 149.0h2.4v1.8h-2.4zM87.7 144.0h1.8v1.8h-1.8zM90.9 138.7h1.8v1.8h-1.8zM101.0 142.6h2.4v1.8h-2.4zM84.2 153.2h1.4v1.4h-1.4zM101.1 141.6h1.8v1.8h-1.8zM88.2 149.3h2.4v2.4h-2.4zM100.6 145.3h2.4v2.4h-2.4zM94.8 142.5h2.4v1.4h-2.4zM105.1 138.2h1.8v1.4h-1.8zM82.7 143.2h1.4v2.4h-1.4zM97.8 142.2h1.4v1.8h-1.4zM90.8 145.9h1.8v2.4h-1.8zM85.3 141.7h1.4v1.4h-1.4zM100.2 139.1h2.4v1.4h-2.4zM85.8 150.1h1.8v2.4h-1.8zM97.9 138.3h2.4v1.8h-2.4zM84.7 149.1h2.4v1.8h-2.4zM82.9 148.2h1.4v1.4h-1.4zM98.0 139.8h1.4v1.8h-1.4zM112.0 139.8h1.8v2.4h-1.8zM97.3 144.0h2.4v2.4h-2.4zM84.3 145.9h1.4v1.4h-1.4zM95.4 142.5h2.4v2.4h-2.4zM90.3 145.6h1.4v1.8h-1.4zM87.4 147.1h1.4v1.4h-1.4zM94.8 144.2h1.4v2.4h-1.4zM97.9 144.2h1.4v2.4h-1.4zM98.5 138.8h1.4v1.4h-1.4zM85.6 151.9h2.4v2.4h-2.4zM106.0 137.8h1.8v2.4h-1.8zM89.5 143.5h2.4v1.8h-2.4zM80.4 153.1h2.4v1.4h-2.4zM86.4 149.6h1.8v1.4h-1.8zM90.7 135.9h1.8v1.4h-1.8zM84.9 145.9h1.8v2.4h-1.8zM94.9 145.5h1.8v1.8h-1.8zM85.2 148.1h1.4v1.4h-1.4zM98.6 133.8h2.4v1.4h-2.4zM92.6 140.1h1.8v1.8h-1.8zM88.8 141.2h1.8v2.4h-1.8zM101.2 142.6h1.8v2.4h-1.8zM85.2 149.5h2.4v1.4h-2.4zM91.2 145.2h1.4v1.8h-1.4zM96.9 141.4h1.4v1.4h-1.4zM94.0 139.1h2.4v2.4h-2.4zM93.9 147.2h1.8v2.4h-1.8zM96.4 132.4h1.4v1.4h-1.4zM88.3 147.0h1.4v2.4h-1.4zM92.6 145.7h1.8v1.8h-1.8zM84.9 147.2h2.4v2.4h-2.4zM91.3 143.5h1.4v1.4h-1.4zM82.2 147.5h1.8v1.4h-1.8zM82.9 149.5h1.4v1.4h-1.4zM90.9 140.9h1.8v1.8h-1.8zM84.2 149.3h1.8v1.8h-1.8zM98.3 141.0h1.4v1.8h-1.4zM82.3 148.5h1.8v1.4h-1.8zM96.8 147.6h2.4v2.4h-2.4zM87.9 158.5h2.4v2.4h-2.4zM99.7 155.1h1.8v2.4h-1.8zM92.4 159.0h1.4v2.4h-1.4zM95.8 131.5h2.4v2.4h-2.4zM96.6 159.7h1.4v1.8h-1.4zM97.5 141.3h2.4v1.4h-2.4zM90.7 152.4h2.4v1.8h-2.4zM92.4 148.8h2.4v1.8h-2.4zM97.4 138.2h1.4v1.8h-1.4zM89.7 143.2h2.4v1.4h-2.4zM82.0 148.5h2.4v1.4h-2.4zM98.5 143.7h1.8v1.8h-1.8zM127.2 131.1h2.4v2.4h-2.4zM62.4 156.6h2.4v1.8h-2.4zM92.1 155.1h2.4v2.4h-2.4zM91.7 161.8h2.4v1.4h-2.4zM94.4 166.1h1.4v1.8h-1.4zM56.7 161.0h2.4v1.8h-2.4zM81.6 160.5h1.4v1.4h-1.4zM95.1 142.3h2.4v1.8h-2.4zM69.8 155.6h2.4v2.4h-2.4zM114.9 147.6h1.8v1.4h-1.8zM88.0 155.5h1.8v1.8h-1.8zM79.7 154.7h1.8v2.4h-1.8zM93.6 154.3h1.4v1.4h-1.4zM94.4 146.8h1.4v2.4h-1.4zM80.7 151.0h1.4v2.4h-1.4zM93.7 163.7h1.4v1.4h-1.4zM51.5 161.4h1.8v1.4h-1.8zM59.5 158.5h1.4v2.4h-1.4zM105.4 132.0h1.4v1.4h-1.4zM78.8 143.2h2.4v2.4h-2.4zM104.6 144.3h1.4v2.4h-1.4zM80.0 150.1h1.4v1.4h-1.4zM100.6 145.1h2.4v1.8h-2.4zM81.1 162.3h1.4v1.8h-1.4zM78.2 153.8h2.4v1.4h-2.4zM78.7 143.3h1.4v1.8h-1.4zM84.2 146.5h1.8v1.4h-1.8zM82.0 145.8h1.4v1.8h-1.4zM68.4 151.9h1.8v2.4h-1.8zM78.9 164.0h1.4v1.4h-1.4zM78.6 149.1h1.8v1.8h-1.8zM76.9 149.9h2.4v2.4h-2.4zM86.8 158.3h1.4v2.4h-1.4zM101.4 146.9h1.4v2.4h-1.4zM100.1 142.8h1.8v1.4h-1.8zM109.7 139.7h2.4v1.4h-2.4zM82.1 169.8h1.8v1.8h-1.8zM86.7 159.3h1.4v1.8h-1.4zM79.6 151.3h2.4v1.4h-2.4zM78.8 154.8h1.8v1.4h-1.8zM102.7 165.5h1.4v1.4h-1.4zM96.7 148.2h2.4v1.4h-2.4zM87.4 159.2h2.4v1.4h-2.4zM90.9 157.1h2.4v1.4h-2.4zM103.0 142.1h1.4v1.4h-1.4zM86.4 157.8h1.4v1.8h-1.4zM99.2 139.1h1.4v1.4h-1.4zM86.9 152.7h2.4v1.4h-2.4zM99.8 162.3h2.4v1.8h-2.4zM113.7 140.8h1.4v1.8h-1.4zM94.4 154.4h1.8v2.4h-1.8zM108.5 151.0h1.8v1.8h-1.8zM91.1 155.1h1.4v1.4h-1.4zM103.6 137.8h1.4v1.4h-1.4zM129.7 146.9h2.4v2.4h-2.4zM115.2 157.7h1.8v1.4h-1.8zM89.5 157.9h2.4v1.8h-2.4zM77.8 160.4h2.4v2.4h-2.4zM91.0 151.1h2.4v1.4h-2.4zM83.6 163.0h2.4v1.4h-2.4zM83.0 169.6h1.4v1.8h-1.4zM103.5 157.8h1.8v2.4h-1.8zM99.7 152.5h2.4v2.4h-2.4zM66.1 166.3h2.4v2.4h-2.4zM82.5 159.5h1.8v1.4h-1.8zM74.0 160.4h1.8v1.4h-1.8zM93.9 140.5h1.4v2.4h-1.4zM99.1 140.8h2.4v1.8h-2.4zM84.8 146.3h2.4v2.4h-2.4zM103.0 163.8h1.8v1.4h-1.8zM101.4 154.2h1.8v2.4h-1.8zM91.1 159.8h1.4v1.8h-1.4zM99.5 143.7h1.8v1.8h-1.8zM63.8 166.9h1.8v2.4h-1.8zM107.1 154.6h1.8v1.4h-1.8zM86.4 162.0h1.8v1.8h-1.8zM93.2 154.2h1.8v2.4h-1.8zM93.9 159.8h1.8v2.4h-1.8zM69.7 164.7h1.4v2.4h-1.4zM86.0 147.5h1.8v1.4h-1.8zM49.9 153.9h1.4v1.8h-1.4zM87.6 161.0h1.8v2.4h-1.8zM75.6 145.1h1.8v1.4h-1.8zM115.0 155.3h1.4v2.4h-1.4zM81.8 152.2h1.4v2.4h-1.4zM75.8 155.8h1.8v2.4h-1.8zM72.9 149.0h1.4v2.4h-1.4zM71.4 151.0h1.4v1.8h-1.4zM85.0 148.9h2.4v2.4h-2.4zM92.3 156.0h1.4v1.4h-1.4zM108.7 139.1h2.4v1.8h-2.4zM69.0 162.1h1.8v2.4h-1.8zM93.7 145.7h2.4v1.8h-2.4zM70.2 168.8h2.4v1.4h-2.4zM85.4 160.1h1.8v1.8h-1.8zM105.8 151.0h1.4v1.4h-1.4zM100.5 137.0h1.4v1.4h-1.4zM96.4 141.5h1.4v1.8h-1.4zM74.1 146.6h2.4v1.4h-2.4zM104.5 154.2h2.4v1.8h-2.4zM97.7 120.3h1.4v1.8h-1.4zM78.8 155.5h1.4v1.4h-1.4zM86.3 147.9h1.8v1.4h-1.8zM92.3 154.3h2.4v1.8h-2.4zM91.3 149.7h2.4v2.4h-2.4zM83.6 152.5h2.4v2.4h-2.4zM80.4 162.3h1.4v1.4h-1.4zM98.1 156.0h1.4v1.4h-1.4zM75.4 154.7h1.8v1.8h-1.8zM89.0 139.3h1.8v1.4h-1.8zM98.3 158.9h1.4v2.4h-1.4zM101.7 150.6h1.8v2.4h-1.8zM96.8 138.7h1.4v2.4h-1.4zM101.9 157.2h1.4v1.4h-1.4zM115.6 155.6h1.8v2.4h-1.8zM62.6 149.3h1.4v1.4h-1.4zM94.0 158.1h1.8v2.4h-1.8zM91.0 151.9h1.4v1.4h-1.4zM86.3 157.8h1.4v2.4h-1.4zM81.2 139.2h2.4v1.4h-2.4zM96.5 157.1h1.4v2.4h-1.4zM88.9 167.1h1.8v1.4h-1.8zM118.7 142.6h1.8v1.8h-1.8zM114.0 134.2h1.8v2.4h-1.8zM80.5 154.3h1.4v2.4h-1.4zM104.9 149.8h1.8v1.8h-1.8zM99.9 146.4h1.8v1.4h-1.8zM86.2 140.2h2.4v1.4h-2.4zM81.1 144.7h1.4v2.4h-1.4zM89.7 137.1h1.4v1.4h-1.4zM91.3 153.2h1.4v1.4h-1.4zM107.2 159.9h2.4v1.8h-2.4zM90.4 150.7h1.8v2.4h-1.8zM103.9 144.5h1.8v2.4h-1.8zM80.8 165.5h1.4v1.8h-1.4zM84.9 160.9h1.4v1.4h-1.4zM70.8 158.5h1.4v2.4h-1.4zM99.4 155.5h1.4v1.4h-1.4zM110.6 163.1h2.4v1.4h-2.4zM91.2 156.0h1.8v1.4h-1.8zM110.4 166.6h1.8v1.8h-1.8zM74.9 151.3h1.4v2.4h-1.4zM69.8 160.2h2.4v2.4h-2.4zM109.1 147.0h1.8v2.4h-1.8zM102.2 146.6h1.8v1.4h-1.8zM103.0 157.6h1.8v2.4h-1.8zM85.2 159.6h1.8v1.8h-1.8zM105.9 153.3h2.4v1.8h-2.4zM103.8 163.7h1.4v1.4h-1.4zM120.5 125.6h1.4v2.4h-1.4zM49.7 170.3h1.4v1.4h-1.4zM99.2 145.6h1.8v1.4h-1.8zM94.4 139.7h1.8v1.8h-1.8zM89.5 144.6h1.4v1.8h-1.4zM80.9 145.3h1.8v2.4h-1.8zM78.5 157.6h2.4v1.4h-2.4zM112.9 145.4h1.8v1.4h-1.8zM106.1 149.6h2.4v1.4h-2.4zM96.7 158.8h1.4v1.4h-1.4zM93.8 150.1h1.4v1.8h-1.4zM116.2 150.0h2.4v2.4h-2.4zM66.1 149.8h1.8v1.8h-1.8zM82.6 146.3h1.8v1.8h-1.8zM75.9 165.7h1.8v2.4h-1.8zM95.8 137.8h1.4v1.8h-1.4zM103.3 159.2h1.4v1.4h-1.4zM96.2 144.0h2.4v1.4h-2.4zM82.5 150.3h2.4v2.4h-2.4zM80.7 159.7h2.4v1.8h-2.4zM53.9 158.7h1.4v2.4h-1.4zM66.4 164.7h1.8v1.8h-1.8zM70.7 154.8h1.4v1.4h-1.4zM71.1 169.2h1.8v1.8h-1.8zM87.8 153.1h2.4v1.4h-2.4zM71.6 161.9h1.8v1.8h-1.8zM99.6 154.0h2.4v1.4h-2.4zM85.6 153.1h1.4v1.4h-1.4zM64.8 166.3h2.4v1.4h-2.4zM114.3 141.3h1.8v1.8h-1.8zM91.2 150.2h2.4v1.8h-2.4zM90.2 143.7h1.8v2.4h-1.8zM82.7 161.8h1.8v1.8h-1.8zM74.5 162.6h1.8v1.4h-1.8zM106.3 144.1h1.4v1.8h-1.4zM68.3 157.2h2.4v1.4h-2.4zM79.7 153.2h1.4v1.8h-1.4zM83.5 146.0h2.4v1.4h-2.4zM82.7 164.1h1.4v1.4h-1.4zM73.1 142.7h2.4v1.4h-2.4zM102.7 129.7h2.4v1.8h-2.4zM89.7 157.0h1.8v1.8h-1.8zM101.0 146.2h1.4v2.4h-1.4zM73.1 156.7h2.4v2.4h-2.4zM77.1 153.1h1.8v2.4h-1.8zM77.5 156.8h2.4v1.4h-2.4zM65.8 161.7h1.8v2.4h-1.8zM69.9 161.1h1.8v1.8h-1.8zM91.7 163.3h1.4v2.4h-1.4zM91.0 151.2h1.4v2.4h-1.4zM77.7 163.4h2.4v1.8h-2.4zM92.9 160.3h1.8v1.8h-1.8zM108.1 153.6h1.8v2.4h-1.8zM110.7 149.7h1.8v1.4h-1.8zM105.6 158.6h1.8v1.8h-1.8zM88.3 167.3h1.4v2.4h-1.4zM106.6 147.6h1.8v1.4h-1.8zM86.3 162.2h1.4v2.4h-1.4zM81.4 152.9h1.8v1.8h-1.8zM105.3 156.0h1.8v1.4h-1.8zM87.7 141.2h1.8v2.4h-1.8zM89.2 139.5h1.8v1.8h-1.8zM109.0 138.3h1.8v1.8h-1.8zM117.0 126.9h1.4v1.4h-1.4zM96.2 148.0h1.8v2.4h-1.8zM104.6 147.9h1.4v2.4h-1.4zM106.0 141.7h2.4v2.4h-2.4zM112.2 162.3h1.4v2.4h-1.4zM100.1 158.1h1.8v1.8h-1.8zM109.5 158.7h2.4v1.8h-2.4zM109.9 156.2h1.4v1.4h-1.4zM112.7 160.0h1.8v2.4h-1.8zM105.1 155.8h1.4v1.8h-1.4zM104.2 150.4h1.4v1.8h-1.4zM107.0 161.1h1.8v1.4h-1.8zM105.6 154.1h2.4v2.4h-2.4zM105.7 147.2h2.4v1.8h-2.4zM105.8 155.2h1.8v2.4h-1.8zM111.8 134.9h2.4v1.4h-2.4zM107.0 153.3h1.8v1.8h-1.8zM107.3 146.0h1.4v2.4h-1.4zM111.3 138.7h1.4v1.8h-1.4zM107.0 157.2h1.8v2.4h-1.8zM109.5 169.7h2.4v1.4h-2.4zM101.0 163.2h1.8v2.4h-1.8zM108.8 157.5h2.4v2.4h-2.4zM108.6 145.1h1.4v1.4h-1.4zM105.2 139.4h1.4v1.4h-1.4zM105.6 149.0h1.8v2.4h-1.8zM104.2 145.9h2.4v1.8h-2.4zM114.2 154.1h1.4v1.8h-1.4zM107.7 167.5h1.4v2.4h-1.4zM104.9 159.4h2.4v1.4h-2.4zM105.2 155.3h1.8v1.8h-1.8zM103.6 155.6h1.4v1.8h-1.4zM109.4 138.4h1.4v2.4h-1.4zM109.0 158.5h1.4v2.4h-1.4zM104.3 153.8h1.8v1.4h-1.8zM104.7 145.6h2.4v1.8h-2.4zM109.6 151.5h1.8v1.4h-1.8zM102.6 150.3h1.8v1.4h-1.8zM115.5 157.5h2.4v1.4h-2.4zM108.9 147.7h2.4v1.8h-2.4zM105.5 162.2h2.4v1.8h-2.4zM109.4 152.5h1.8v1.4h-1.8zM99.2 147.8h1.8v2.4h-1.8zM110.9 164.7h2.4v1.8h-2.4zM105.2 150.7h1.4v2.4h-1.4zM112.9 152.2h1.8v1.4h-1.8zM112.5 142.7h1.8v2.4h-1.8zM104.3 162.7h1.8v1.4h-1.8zM115.4 151.9h2.4v1.4h-2.4zM106.7 157.1h1.4v1.4h-1.4zM106.8 149.6h2.4v1.8h-2.4zM113.4 154.7h2.4v1.8h-2.4zM112.9 140.7h1.8v1.8h-1.8zM105.1 148.1h1.8v2.4h-1.8zM109.1 140.8h1.8v2.4h-1.8zM105.3 149.3h1.8v2.4h-1.8zM103.6 158.7h1.8v2.4h-1.8zM104.9 147.6h2.4v2.4h-2.4zM110.1 151.4h2.4v1.4h-2.4zM99.3 153.8h2.4v2.4h-2.4zM109.3 167.0h2.4v2.4h-2.4zM104.2 159.4h1.8v1.8h-1.8zM106.8 137.5h1.8v2.4h-1.8zM114.2 164.1h1.4v1.4h-1.4zM110.3 137.0h1.8v1.4h-1.8zM106.3 138.8h1.8v1.8h-1.8zM116.9 153.9h1.4v1.4h-1.4zM100.3 166.0h2.4v1.4h-2.4zM108.3 144.9h1.4v2.4h-1.4zM112.8 141.2h2.4v2.4h-2.4zM101.6 149.0h1.4v2.4h-1.4zM110.4 153.4h1.8v1.4h-1.8zM106.9 164.0h1.4v1.4h-1.4zM116.2 152.6h1.8v2.4h-1.8zM112.4 148.4h1.8v1.8h-1.8zM110.8 148.2h2.4v2.4h-2.4zM100.7 153.1h2.4v2.4h-2.4zM106.7 156.2h2.4v1.4h-2.4zM116.3 143.0h2.4v1.8h-2.4zM112.0 150.2h1.8v1.8h-1.8zM104.6 158.5h1.4v2.4h-1.4zM99.3 156.1h1.4v1.8h-1.4zM108.7 132.0h1.8v1.8h-1.8zM103.1 146.6h1.8v1.4h-1.8zM101.0 155.5h1.8v2.4h-1.8zM103.1 148.8h1.4v1.4h-1.4zM111.9 162.3h2.4v1.4h-2.4zM127.0 115.3h2.4v2.4h-2.4zM107.0 120.5h3.2v3.2h-3.2zM132.1 130.1h1.8v2.4h-1.8zM145.3 127.4h1.8v2.4h-1.8zM119.9 118.6h2.4v3.2h-2.4zM113.3 125.2h3.2v2.4h-3.2zM100.3 117.7h1.8v3.2h-1.8zM132.9 113.5h3.2v3.2h-3.2zM116.8 133.1h1.8v3.2h-1.8zM125.3 124.4h2.4v2.4h-2.4zM130.8 122.9h1.8v2.4h-1.8zM110.6 123.3h1.8v3.2h-1.8zM120.8 116.2h3.2v1.8h-3.2zM136.3 115.0h3.2v1.8h-3.2zM114.0 129.8h3.2v3.2h-3.2zM119.1 124.3h1.8v1.8h-1.8zM123.0 124.4h1.8v3.2h-1.8zM104.6 130.4h1.8v1.8h-1.8zM115.8 119.4h2.4v1.8h-2.4zM132.0 118.7h2.4v1.8h-2.4zM143.0 109.6h2.4v3.2h-2.4zM109.6 119.7h1.8v3.2h-1.8zM123.3 123.4h2.4v1.8h-2.4zM123.8 113.7h3.2v3.2h-3.2zM120.9 129.6h1.8v1.8h-1.8zM115.4 124.6h2.4v3.2h-2.4zM117.4 115.6h1.8v1.8h-1.8zM116.0 120.1h1.8v1.8h-1.8zM110.8 119.1h2.4v1.8h-2.4zM120.7 126.7h2.4v3.2h-2.4zM121.2 124.5h3.2v1.8h-3.2zM96.5 129.8h1.8v3.2h-1.8zM126.0 128.8h1.8v3.2h-1.8zM119.7 122.2h1.8v2.4h-1.8zM122.2 119.9h2.4v3.2h-2.4zM98.0 124.1h2.4v3.2h-2.4zM142.2 108.3h3.2v3.2h-3.2zM122.6 123.1h1.8v2.4h-1.8zM105.0 131.1h3.2v2.4h-3.2zM133.8 116.9h3.2v1.8h-3.2zM129.4 120.4h3.2v1.8h-3.2zM115.9 123.6h2.4v1.8h-2.4zM138.4 125.0h1.8v1.8h-1.8zM128.5 120.3h2.4v3.2h-2.4zM112.5 130.5h2.4v2.4h-2.4zM114.2 122.8h1.8v3.2h-1.8zM125.3 115.6h1.8v2.4h-1.8zM138.0 107.8h3.2v3.2h-3.2zM115.3 117.6h2.4v3.2h-2.4zM138.4 118.1h2.4v2.4h-2.4zM122.3 115.7h2.4v2.4h-2.4zM115.5 129.0h2.4v1.8h-2.4zM136.3 114.4h3.2v2.4h-3.2zM108.9 115.5h1.8v2.4h-1.8zM120.1 122.6h2.4v1.8h-2.4zM97.3 126.5h1.8v1.8h-1.8zM121.1 131.3h1.8v3.2h-1.8zM132.2 121.4h3.2v1.8h-3.2zM106.2 120.8h1.8v1.8h-1.8zM104.8 127.1h1.8v3.2h-1.8zM137.3 108.5h2.4v3.2h-2.4zM126.8 111.2h1.8v3.2h-1.8zM113.5 123.4h1.8v2.4h-1.8zM121.9 123.8h1.8v1.8h-1.8zM142.9 111.6h3.2v1.8h-3.2zM110.4 130.9h3.2v3.2h-3.2zM130.2 108.7h2.4v2.4h-2.4zM129.0 121.7h2.4v1.8h-2.4zM126.4 120.9h3.2v3.2h-3.2zM118.7 114.2h2.4v3.2h-2.4zM131.5 120.2h2.4v1.8h-2.4zM111.1 122.9h1.8v2.4h-1.8zM124.9 126.3h2.4v3.2h-2.4zM135.0 108.5h1.8v2.4h-1.8zM121.2 124.8h3.2v1.8h-3.2zM123.3 119.1h2.4v3.2h-2.4zM134.5 125.0h3.2v2.4h-3.2zM107.4 139.4h2.4v1.8h-2.4zM97.7 126.9h2.4v1.8h-2.4zM137.3 114.5h1.8v2.4h-1.8zM125.5 119.3h2.4v1.8h-2.4zM127.5 118.8h2.4v3.2h-2.4zM118.7 127.4h3.2v1.8h-3.2zM121.9 118.1h1.8v1.8h-1.8zM129.9 114.4h3.2v2.4h-3.2zM121.0 121.0h2.4v2.4h-2.4zM115.7 123.0h3.2v3.2h-3.2zM114.1 131.2h3.2v3.2h-3.2zM104.0 123.9h2.4v1.8h-2.4zM93.4 127.1h2.4v3.2h-2.4zM118.2 125.3h2.4v2.4h-2.4zM117.6 125.2h2.4v3.2h-2.4zM148.3 107.0h2.4v2.4h-2.4zM114.2 121.6h2.4v1.8h-2.4zM106.8 118.6h3.2v1.8h-3.2zM144.4 117.7h1.8v3.2h-1.8zM112.2 119.7h2.4v1.8h-2.4zM116.9 118.9h2.4v1.8h-2.4zM132.4 115.3h2.4v3.2h-2.4zM131.9 112.8h2.4v3.2h-2.4zM133.6 117.3h2.4v1.8h-2.4zM131.0 122.5h2.4v2.4h-2.4zM111.9 125.6h1.8v3.2h-1.8zM118.1 133.3h2.4v2.4h-2.4zM117.1 123.2h1.8v2.4h-1.8zM126.7 110.4h3.2v3.2h-3.2zM119.3 121.5h3.2v1.8h-3.2zM133.6 113.8h3.2v1.8h-3.2zM126.8 124.2h2.4v3.2h-2.4zM125.9 118.4h2.4v2.4h-2.4zM97.8 130.5h1.8v1.8h-1.8zM122.2 113.4h1.8v3.2h-1.8zM109.7 121.1h2.4v1.8h-2.4zM132.9 118.0h2.4v2.4h-2.4zM120.1 119.6h1.8v1.8h-1.8zM130.9 118.0h3.2v3.2h-3.2zM132.7 125.9h2.4v2.4h-2.4zM114.4 116.7h1.8v3.2h-1.8zM112.7 117.4h3.2v2.4h-3.2zM136.9 122.9h1.8v2.4h-1.8zM138.3 116.7h2.4v3.2h-2.4zM112.6 120.2h2.4v1.8h-2.4zM105.0 128.4h2.4v3.2h-2.4zM134.0 121.8h3.2v2.4h-3.2zM105.2 122.4h1.8v2.4h-1.8zM123.7 125.2h2.4v2.4h-2.4zM98.9 127.6h1.8v1.8h-1.8zM137.3 123.3h2.4v1.8h-2.4zM123.7 108.7h3.2v1.8h-3.2zM121.2 131.0h2.4v3.2h-2.4zM108.6 124.7h1.8v1.8h-1.8zM92.8 136.6h1.8v3.2h-1.8zM120.9 118.1h2.4v3.2h-2.4zM131.2 120.6h3.2v1.8h-3.2zM127.1 125.1h1.8v2.4h-1.8zM108.0 126.0h1.8v1.8h-1.8zM130.6 116.1h2.4v2.4h-2.4zM125.6 116.0h2.4v1.8h-2.4zM103.6 123.2h1.8v1.8h-1.8zM104.6 130.8h1.8v1.8h-1.8zM110.2 119.8h2.4v1.8h-2.4zM137.9 119.5h3.2v3.2h-3.2zM115.7 123.2h3.2v3.2h-3.2zM142.6 113.1h1.8v3.2h-1.8zM136.1 112.7h2.4v1.8h-2.4zM103.0 124.7h3.2v2.4h-3.2zM116.9 112.0h3.2v2.4h-3.2zM161.9 111.3h2.4v1.8h-2.4zM122.2 118.5h2.4v3.2h-2.4zM133.0 123.9h1.8v2.4h-1.8zM125.9 115.6h3.2v1.8h-3.2zM118.6 117.8h1.8v2.4h-1.8zM114.5 123.1h2.4v3.2h-2.4zM125.6 117.7h1.8v3.2h-1.8zM126.2 113.5h1.8v2.4h-1.8zM126.7 108.7h3.2v2.4h-3.2zM131.4 113.4h1.8v3.2h-1.8zM109.4 121.7h3.2v3.2h-3.2zM113.3 127.4h3.2v1.8h-3.2zM132.9 121.3h3.2v1.8h-3.2zM123.2 115.2h1.8v1.8h-1.8zM102.2 131.5h1.8v2.4h-1.8zM110.2 119.3h1.8v3.2h-1.8zM149.0 108.5h3.2v1.8h-3.2zM118.1 119.9h2.4v1.8h-2.4zM118.3 117.4h1.8v1.8h-1.8zM128.1 122.9h3.2v2.4h-3.2zM130.7 126.3h1.8v2.4h-1.8zM105.3 121.0h3.2v1.8h-3.2zM115.4 125.2h3.2v3.2h-3.2zM140.5 114.9h3.2v1.8h-3.2zM112.3 126.7h1.8v3.2h-1.8zM122.6 117.8h2.4v1.8h-2.4zM141.2 121.3h2.4v3.2h-2.4zM122.6 124.3h1.8v3.2h-1.8zM122.7 123.6h1.8v1.8h-1.8zM115.6 134.0h2.4v1.8h-2.4zM112.9 120.3h1.8v3.2h-1.8zM135.6 116.3h3.2v3.2h-3.2zM130.5 122.0h2.4v2.4h-2.4zM127.4 124.7h3.2v3.2h-3.2zM117.2 123.0h2.4v3.2h-2.4zM142.6 117.9h2.4v2.4h-2.4zM145.3 121.2h3.2v3.2h-3.2zM124.3 119.3h2.4v3.2h-2.4zM135.7 124.1h1.8v3.2h-1.8zM140.1 112.3h2.4v2.4h-2.4zM139.8 124.2h3.2v1.8h-3.2zM135.3 115.5h2.4v3.2h-2.4zM128.4 119.6h2.4v3.2h-2.4zM137.2 110.5h3.2v2.4h-3.2zM132.2 125.3h3.2v2.4h-3.2zM135.1 119.2h2.4v3.2h-2.4zM139.6 112.5h2.4v3.2h-2.4zM127.2 120.5h2.4v1.8h-2.4zM133.7 122.2h3.2v3.2h-3.2zM130.9 123.6h2.4v3.2h-2.4zM135.8 122.9h2.4v3.2h-2.4zM136.7 106.5h1.8v1.8h-1.8zM136.2 111.3h1.8v1.8h-1.8zM136.6 117.3h2.4v2.4h-2.4zM131.6 118.9h2.4v3.2h-2.4zM132.5 110.3h3.2v1.8h-3.2zM134.5 124.2h3.2v3.2h-3.2zM135.7 120.6h3.2v2.4h-3.2zM134.4 106.9h3.2v3.2h-3.2zM131.1 110.3h3.2v2.4h-3.2zM133.5 124.9h1.8v1.8h-1.8zM135.5 106.7h1.8v3.2h-1.8zM130.3 130.3h3.2v1.8h-3.2zM131.1 127.6h1.8v1.8h-1.8zM136.8 110.1h3.2v3.2h-3.2zM144.0 120.1h2.4v3.2h-2.4zM135.5 123.9h2.4v3.2h-2.4zM130.4 109.2h2.4v3.2h-2.4zM141.3 106.1h2.4v1.8h-2.4zM137.1 126.7h3.2v2.4h-3.2zM130.8 116.0h3.2v1.8h-3.2zM136.1 107.2h1.8v1.8h-1.8zM136.5 124.1h3.2v1.8h-3.2zM151.4 88.8h3.2v3.2h-3.2zM153.7 96.4h2.4v1.8h-2.4zM148.1 99.4h1.8v3.2h-1.8zM118.3 92.1h2.4v1.8h-2.4zM170.2 94.1h2.4v1.8h-2.4zM144.3 96.7h2.4v1.8h-2.4zM129.5 108.3h1.8v2.4h-1.8zM150.9 91.2h3.2v3.2h-3.2zM160.7 93.5h2.4v2.4h-2.4zM156.1 77.1h3.2v3.2h-3.2zM148.7 89.3h2.4v3.2h-2.4zM151.2 97.6h3.2v2.4h-3.2zM121.3 87.3h3.2v3.2h-3.2zM110.7 92.8h1.8v2.4h-1.8zM159.5 90.6h3.2v1.8h-3.2zM146.8 90.4h2.4v3.2h-2.4zM145.8 85.8h3.2v2.4h-3.2zM125.0 92.5h1.8v1.8h-1.8zM165.3 94.3h3.2v3.2h-3.2zM138.9 106.1h1.8v1.8h-1.8zM155.5 99.2h2.4v2.4h-2.4zM127.8 99.1h3.2v2.4h-3.2zM120.4 109.0h2.4v2.4h-2.4zM144.9 81.1h2.4v1.8h-2.4zM152.2 101.7h2.4v3.2h-2.4zM130.9 96.9h1.8v1.8h-1.8zM173.6 87.8h1.8v2.4h-1.8zM137.2 89.8h1.8v3.2h-1.8zM161.2 90.7h3.2v2.4h-3.2zM158.7 94.9h2.4v2.4h-2.4zM126.4 91.5h2.4v2.4h-2.4zM149.0 85.2h1.8v3.2h-1.8zM135.0 98.9h3.2v2.4h-3.2zM149.4 105.4h1.8v3.2h-1.8zM145.0 103.0h1.8v2.4h-1.8zM158.3 100.4h3.2v1.8h-3.2zM135.2 90.0h1.8v2.4h-1.8zM150.9 88.7h1.8v1.8h-1.8zM153.6 89.0h3.2v3.2h-3.2zM161.2 106.4h3.2v1.8h-3.2zM134.7 91.8h2.4v1.8h-2.4zM155.3 101.5h3.2v1.8h-3.2zM155.3 98.6h3.2v2.4h-3.2zM156.9 84.7h1.8v2.4h-1.8zM117.6 102.3h3.2v2.4h-3.2zM123.9 108.7h1.8v1.8h-1.8zM122.4 103.5h3.2v3.2h-3.2zM138.8 97.1h3.2v1.8h-3.2zM131.0 105.3h3.2v2.4h-3.2zM137.5 83.8h1.8v1.8h-1.8zM140.9 90.5h3.2v2.4h-3.2zM157.4 92.1h1.8v2.4h-1.8zM156.7 97.8h1.8v2.4h-1.8zM140.3 104.9h2.4v2.4h-2.4zM141.8 89.5h2.4v1.8h-2.4zM123.6 98.2h3.2v1.8h-3.2zM139.0 105.0h3.2v1.8h-3.2zM143.7 103.7h1.8v1.8h-1.8zM137.6 90.3h3.2v2.4h-3.2zM166.8 82.6h1.8v1.8h-1.8zM113.9 96.5h3.2v3.2h-3.2zM137.9 98.2h3.2v1.8h-3.2zM140.9 75.0h3.2v2.4h-3.2zM156.7 103.4h3.2v3.2h-3.2zM148.6 91.6h1.8v2.4h-1.8zM125.6 105.8h3.2v1.8h-3.2zM134.8 107.8h3.2v3.2h-3.2zM149.8 89.7h3.2v1.8h-3.2zM143.9 82.1h3.2v2.4h-3.2zM155.5 78.3h3.2v3.2h-3.2zM153.7 105.9h2.4v2.4h-2.4zM141.1 89.2h3.2v3.2h-3.2zM140.3 94.4h2.4v3.2h-2.4zM151.2 81.6h3.2v2.4h-3.2zM135.5 91.3h1.8v2.4h-1.8zM141.7 96.7h1.8v3.2h-1.8zM159.0 95.6h2.4v1.8h-2.4zM139.5 94.7h1.8v1.8h-1.8zM148.7 84.9h2.4v1.8h-2.4zM113.5 97.6h1.8v3.2h-1.8zM134.7 93.4h1.8v1.8h-1.8zM146.4 103.5h2.4v3.2h-2.4zM150.2 88.1h3.2v3.2h-3.2zM141.0 84.4h3.2v1.8h-3.2zM145.9 97.0h3.2v2.4h-3.2zM133.2 88.5h3.2v3.2h-3.2zM145.5 104.4h3.2v1.8h-3.2zM155.7 102.7h1.8v1.8h-1.8zM132.8 92.9h1.8v2.4h-1.8zM127.6 93.7h2.4v3.2h-2.4zM157.5 97.0h1.8v1.8h-1.8zM164.1 77.2h3.2v3.2h-3.2zM162.9 99.2h1.8v3.2h-1.8zM138.7 105.8h3.2v3.2h-3.2zM141.9 96.4h1.8v1.8h-1.8zM115.2 83.5h1.3v1.3h-1.3zM154.6 92.7h1.3v1.3h-1.3zM146.4 86.6h1.3v1.3h-1.3zM170.4 84.6h1.3v1.3h-1.3zM113.1 97.1h1.3v1.3h-1.3zM159.3 69.2h1.3v1.3h-1.3zM85.8 81.1h1.3v1.3h-1.3zM113.6 91.6h1.3v1.3h-1.3zM133.2 89.0h1.3v1.3h-1.3zM116.4 68.8h1.3v1.3h-1.3zM154.7 108.3h1.3v1.3h-1.3zM129.5 116.4h1.3v1.3h-1.3zM141.3 80.5h1.3v1.3h-1.3zM138.7 98.9h1.3v1.3h-1.3zM153.6 93.4h1.3v1.3h-1.3zM125.4 89.0h1.3v1.3h-1.3zM160.2 71.9h1.3v1.3h-1.3zM135.8 96.2h1.3v1.3h-1.3zM148.4 92.0h1.3v1.3h-1.3zM152.0 76.8h1.3v1.3h-1.3zM150.1 99.5h1.3v1.3h-1.3zM124.1 80.5h1.3v1.3h-1.3zM128.6 101.1h1.3v1.3h-1.3zM128.0 89.5h1.3v1.3h-1.3zM144.6 82.8h1.3v1.3h-1.3zM143.8 112.5h1.3v1.3h-1.3zM96.3 104.9h1.3v1.3h-1.3zM98.3 96.4h1.3v1.3h-1.3zM155.1 77.2h1.3v1.3h-1.3zM116.8 83.4h1.3v1.3h-1.3zM148.7 94.7h1.3v1.3h-1.3zM123.8 81.7h1.3v1.3h-1.3zM147.5 80.2h1.3v1.3h-1.3zM145.1 93.2h1.3v1.3h-1.3zM118.5 91.5h1.3v1.3h-1.3zM163.1 72.6h1.3v1.3h-1.3zM163.4 97.9h1.3v1.3h-1.3zM150.7 88.4h1.3v1.3h-1.3zM103.3 112.5h1.3v1.3h-1.3zM124.9 87.5h1.3v1.3h-1.3zM149.4 86.4h1.3v1.3h-1.3zM158.6 79.4h1.3v1.3h-1.3zM123.2 95.5h1.3v1.3h-1.3zM88.3 84.0h1.3v1.3h-1.3zM119.2 89.3h1.3v1.3h-1.3zM153.0 100.7h1.3v1.3h-1.3zM123.5 104.6h1.3v1.3h-1.3zM168.6 91.1h1.3v1.3h-1.3zM133.3 84.8h1.3v1.3h-1.3zM172.2 86.4h1.3v1.3h-1.3zM116.8 75.7h1.3v1.3h-1.3zM138.8 104.2h1.3v1.3h-1.3zM154.9 95.5h1.3v1.3h-1.3zM121.9 72.5h1.3v1.3h-1.3zM164.3 80.3h1.3v1.3h-1.3zM131.3 106.9h1.3v1.3h-1.3zM149.6 71.4h1.3v1.3h-1.3zM133.0 86.8h1.3v1.3h-1.3zM135.7 89.8h1.3v1.3h-1.3zM166.2 75.2h1.3v1.3h-1.3zM143.7 84.3h1.3v1.3h-1.3zM173.7 106.0h1.3v1.3h-1.3zM138.6 101.8h1.3v1.3h-1.3zM157.5 70.8h1.3v1.3h-1.3zM152.2 92.7h1.3v1.3h-1.3zM163.5 87.8h1.3v1.3h-1.3zM133.4 101.1h1.3v1.3h-1.3zM148.9 73.4h1.3v1.3h-1.3zM148.1 88.9h1.3v1.3h-1.3zM110.7 96.1h1.3v1.3h-1.3zM156.4 74.7h1.3v1.3h-1.3zM146.1 87.3h1.3v1.3h-1.3zM124.0 87.2h1.3v1.3h-1.3zM153.9 92.8h1.3v1.3h-1.3zM158.7 80.7h1.3v1.3h-1.3zM131.5 118.9h1.3v1.3h-1.3zM149.7 95.7h1.3v1.3h-1.3zM167.9 75.2h1.3v1.3h-1.3zM147.1 78.4h1.3v1.3h-1.3zM141.2 74.8h1.3v1.3h-1.3zM136.4 89.1h1.3v1.3h-1.3zM121.1 88.6h1.3v1.3h-1.3zM160.7 96.6h1.3v1.3h-1.3zM137.1 91.6h1.3v1.3h-1.3zM121.4 79.8h1.3v1.3h-1.3zM81.7 82.6h1.3v1.3h-1.3zM139.5 94.9h1.3v1.3h-1.3zM126.4 96.8h1.3v1.3h-1.3zM135.3 72.6h1.3v1.3h-1.3zM139.8 81.9h1.3v1.3h-1.3zM135.1 97.8h1.3v1.3h-1.3zM148.0 80.5h1.3v1.3h-1.3zM159.4 89.4h1.3v1.3h-1.3zM131.0 77.7h1.3v1.3h-1.3zM145.9 101.5h1.3v1.3h-1.3zM128.8 84.3h1.3v1.3h-1.3zM155.6 82.5h1.3v1.3h-1.3zM135.1 93.5h1.3v1.3h-1.3zM134.5 86.4h1.3v1.3h-1.3zM145.8 91.5h1.3v1.3h-1.3zM140.1 103.0h1.3v1.3h-1.3zM127.8 88.3h1.3v1.3h-1.3zM144.6 89.5h1.3v1.3h-1.3zM153.6 106.5h1.3v1.3h-1.3zM138.4 86.8h1.3v1.3h-1.3zM128.4 86.2h1.3v1.3h-1.3zM163.2 99.5h1.3v1.3h-1.3zM141.2 74.0h1.3v1.3h-1.3zM122.8 102.8h1.3v1.3h-1.3zM121.4 86.8h1.3v1.3h-1.3zM135.5 80.8h1.3v1.3h-1.3zM162.5 83.2h1.3v1.3h-1.3zM164.1 79.9h1.3v1.3h-1.3zM153.7 96.9h1.3v1.3h-1.3zM115.8 81.4h1.3v1.3h-1.3zM132.3 63.7h1.3v1.3h-1.3zM165.8 80.4h1.3v1.3h-1.3zM156.3 96.2h1.3v1.3h-1.3zM144.7 85.3h1.3v1.3h-1.3zM156.0 80.4h1.3v1.3h-1.3zM134.6 75.2h1.3v1.3h-1.3zM147.2 101.6h1.3v1.3h-1.3zM149.8 81.1h1.3v1.3h-1.3zM124.1 95.0h1.3v1.3h-1.3zM160.3 64.0h1.3v1.3h-1.3zM132.9 84.4h1.3v1.3h-1.3zM153.5 77.3h1.3v1.3h-1.3zM120.8 84.5h1.3v1.3h-1.3zM169.0 89.6h1.3v1.3h-1.3zM129.4 92.4h1.3v1.3h-1.3zM154.2 101.2h1.3v1.3h-1.3zM121.9 89.0h1.3v1.3h-1.3zM177.8 74.0h1.3v1.3h-1.3zM114.1 99.5h1.3v1.3h-1.3zM133.7 79.5h1.3v1.3h-1.3zM130.2 87.6h1.3v1.3h-1.3zM174.4 100.6h1.3v1.3h-1.3zM119.6 89.2h1.3v1.3h-1.3zM147.4 86.0h1.3v1.3h-1.3zM161.8 85.3h1.3v1.3h-1.3zM146.2 73.3h1.3v1.3h-1.3zM131.2 82.8h1.3v1.3h-1.3zM146.2 73.1h1.3v1.3h-1.3zM130.2 93.0h1.3v1.3h-1.3zM153.2 82.3h1.3v1.3h-1.3zM151.5 87.8h1.3v1.3h-1.3zM144.6 100.4h1.3v1.3h-1.3zM158.6 97.5h1.3v1.3h-1.3zM131.5 91.5h1.3v1.3h-1.3zM134.2 97.8h1.3v1.3h-1.3zM144.9 96.4h1.3v1.3h-1.3zM150.9 87.9h1.3v1.3h-1.3zM131.1 95.5h1.3v1.3h-1.3zM151.3 104.4h1.3v1.3h-1.3zM152.2 84.8h1.3v1.3h-1.3zM141.3 91.0h1.3v1.3h-1.3zM137.0 69.0h1.3v1.3h-1.3zM130.5 77.9h1.3v1.3h-1.3zM165.9 89.3h1.3v1.3h-1.3zM125.1 82.9h1.3v1.3h-1.3zM172.1 90.7h1.3v1.3h-1.3zM133.4 84.6h1.3v1.3h-1.3zM110.5 85.8h1.3v1.3h-1.3zM153.0 87.3h1.3v1.3h-1.3zM142.8 80.6h1.3v1.3h-1.3zM130.7 96.0h1.3v1.3h-1.3zM137.0 79.4h1.3v1.3h-1.3zM135.2 88.5h1.3v1.3h-1.3zM153.1 103.0h1.3v1.3h-1.3zM116.6 89.5h1.3v1.3h-1.3zM119.5 80.7h1.3v1.3h-1.3zM163.7 81.8h1.3v1.3h-1.3zM150.2 94.7h1.3v1.3h-1.3zM135.8 96.0h1.3v1.3h-1.3zM169.5 79.7h1.3v1.3h-1.3zM129.6 80.5h1.3v1.3h-1.3zM181.0 111.7h1.3v1.3h-1.3zM125.4 78.0h1.3v1.3h-1.3zM145.6 106.0h1.3v1.3h-1.3zM144.4 90.3h1.3v1.3h-1.3zM169.3 80.4h1.3v1.3h-1.3zM152.3 85.1h1.3v1.3h-1.3zM149.9 83.7h1.3v1.3h-1.3zM152.9 83.7h1.3v1.3h-1.3zM159.2 92.5h1.3v1.3h-1.3zM160.9 67.7h1.3v1.3h-1.3zM128.2 100.6h1.3v1.3h-1.3zM130.0 93.4h1.3v1.3h-1.3zM145.0 78.4h1.3v1.3h-1.3zM108.7 69.3h1.3v1.3h-1.3zM106.6 108.1h1.3v1.3h-1.3zM146.0 68.9h1.3v1.3h-1.3zM147.9 91.6h1.3v1.3h-1.3zM132.5 94.6h1.3v1.3h-1.3zM124.2 73.6h1.3v1.3h-1.3zM122.0 102.2h1.3v1.3h-1.3zM143.5 69.4h1.3v1.3h-1.3zM173.8 66.7h1.3v1.3h-1.3zM92.6 85.5h1.4v1.4h-1.4zM96.4 79.8h1.4v1.4h-1.4zM116.4 80.0h1.4v1.4h-1.4zM92.9 83.6h1.4v1.4h-1.4zM120.8 78.9h1.4v1.4h-1.4zM105.5 84.2h1.4v1.4h-1.4zM112.9 84.7h1.4v1.4h-1.4zM108.5 89.0h1.4v1.4h-1.4zM97.1 79.7h1.4v1.4h-1.4zM101.2 78.4h1.4v1.4h-1.4zM108.0 95.5h1.4v1.4h-1.4zM107.7 81.1h1.4v1.4h-1.4zM121.8 89.9h1.4v1.4h-1.4zM95.7 83.3h1.4v1.4h-1.4zM91.8 82.3h1.4v1.4h-1.4zM92.8 93.6h1.4v1.4h-1.4zM91.9 87.8h1.4v1.4h-1.4zM102.2 82.0h1.4v1.4h-1.4zM106.8 82.9h1.4v1.4h-1.4zM121.4 87.3h1.4v1.4h-1.4zM104.8 83.3h1.4v1.4h-1.4zM98.3 86.4h1.4v1.4h-1.4zM105.1 82.5h1.4v1.4h-1.4zM121.9 83.4h1.4v1.4h-1.4zM99.2 85.2h1.4v1.4h-1.4zM96.0 83.2h1.4v1.4h-1.4zM108.2 77.9h1.4v1.4h-1.4zM110.4 84.5h1.4v1.4h-1.4zM110.5 79.6h1.4v1.4h-1.4zM109.5 82.2h1.4v1.4h-1.4zM112.9 82.0h1.4v1.4h-1.4zM120.4 79.2h1.4v1.4h-1.4zM120.6 92.6h1.4v1.4h-1.4zM113.3 77.2h1.4v1.4h-1.4zM107.4 89.4h1.4v1.4h-1.4zM96.6 78.4h1.4v1.4h-1.4zM98.3 81.8h1.4v1.4h-1.4zM91.6 87.9h1.4v1.4h-1.4zM98.8 84.1h1.4v1.4h-1.4zM105.4 84.9h1.4v1.4h-1.4zM111.5 92.6h1.4v1.4h-1.4zM93.1 87.0h1.4v1.4h-1.4zM116.2 89.6h1.4v1.4h-1.4zM102.2 84.9h1.4v1.4h-1.4zM87.1 84.3h1.4v1.4h-1.4zM135.6 150.2h1.5v1.5h-1.5zM158.0 153.9h1.5v1.5h-1.5zM91.0 165.3h1.5v1.5h-1.5zM140.7 152.9h1.5v1.5h-1.5zM142.2 161.2h1.5v1.5h-1.5zM111.4 145.2h1.5v1.5h-1.5zM138.2 140.8h1.5v1.5h-1.5zM131.6 148.4h1.5v1.5h-1.5zM121.5 147.7h1.5v1.5h-1.5zM137.7 149.5h1.5v1.5h-1.5zM119.0 153.8h1.5v1.5h-1.5zM155.5 154.3h1.5v1.5h-1.5zM116.9 158.2h1.5v1.5h-1.5zM118.1 143.0h1.5v1.5h-1.5zM128.6 140.7h1.5v1.5h-1.5zM134.6 150.8h1.5v1.5h-1.5zM143.9 154.0h1.5v1.5h-1.5zM139.1 149.5h1.5v1.5h-1.5zM135.8 149.2h1.5v1.5h-1.5zM98.5 163.6h1.5v1.5h-1.5zM128.5 151.2h1.5v1.5h-1.5zM133.6 137.3h1.5v1.5h-1.5zM148.0 142.1h1.5v1.5h-1.5zM120.2 161.5h1.5v1.5h-1.5zM140.2 154.3h1.5v1.5h-1.5zM129.2 134.0h1.5v1.5h-1.5zM123.5 138.6h1.5v1.5h-1.5zM134.4 149.9h1.5v1.5h-1.5zM131.7 143.4h1.5v1.5h-1.5zM136.6 150.8h1.5v1.5h-1.5zM133.8 136.8h1.5v1.5h-1.5zM147.3 146.2h1.5v1.5h-1.5zM146.1 149.1h1.5v1.5h-1.5zM119.9 152.1h1.5v1.5h-1.5zM156.0 147.4h1.5v1.5h-1.5zM154.1 146.1h1.5v1.5h-1.5zM147.0 145.7h1.5v1.5h-1.5zM137.6 151.4h1.5v1.5h-1.5zM162.0 152.6h1.5v1.5h-1.5zM129.9 140.3h1.5v1.5h-1.5zM138.5 139.6h1.5v1.5h-1.5zM121.8 147.4h1.5v1.5h-1.5zM137.8 136.7h1.5v1.5h-1.5zM151.7 144.1h1.5v1.5h-1.5zM129.3 167.7h1.5v1.5h-1.5zM146.5 150.8h1.5v1.5h-1.5zM121.9 142.1h1.5v1.5h-1.5zM142.5 141.7h1.5v1.5h-1.5zM158.4 140.2h1.5v1.5h-1.5zM131.9 136.7h1.5v1.5h-1.5zM134.0 143.7h1.5v1.5h-1.5zM150.8 152.8h1.5v1.5h-1.5zM149.6 154.7h1.5v1.5h-1.5zM134.6 153.4h1.5v1.5h-1.5zM138.6 128.5h1.5v1.5h-1.5zM135.9 148.4h1.5v1.5h-1.5zM148.7 139.2h1.5v1.5h-1.5zM144.5 147.4h1.5v1.5h-1.5zM139.4 145.3h1.5v1.5h-1.5zM125.2 142.9h1.5v1.5h-1.5zM114.4 134.8h1.5v1.5h-1.5zM108.9 145.1h1.5v1.5h-1.5zM141.2 145.8h1.5v1.5h-1.5zM178.0 150.3h1.5v1.5h-1.5zM144.0 146.4h1.5v1.5h-1.5zM148.2 137.8h1.5v1.5h-1.5zM134.5 159.4h1.5v1.5h-1.5zM141.0 160.6h1.5v1.5h-1.5zM120.8 143.2h1.5v1.5h-1.5zM136.8 134.2h1.5v1.5h-1.5zM118.8 166.9h1.5v1.5h-1.5zM143.8 160.7h1.5v1.5h-1.5zM118.0 152.9h1.5v1.5h-1.5zM149.7 131.9h1.5v1.5h-1.5zM135.4 161.5h1.5v1.5h-1.5zM145.1 156.0h1.5v1.5h-1.5zM141.4 140.4h1.5v1.5h-1.5zM115.9 124.5h1.5v1.5h-1.5zM117.8 159.2h1.5v1.5h-1.5zM150.5 140.6h1.5v1.5h-1.5zM105.9 127.3h1.5v1.5h-1.5zM109.2 108.4h1.5v1.5h-1.5zM111.9 119.2h1.5v1.5h-1.5zM103.9 127.4h1.5v1.5h-1.5zM109.2 123.3h1.5v1.5h-1.5zM107.1 120.5h1.5v1.5h-1.5zM104.3 128.1h1.5v1.5h-1.5zM108.6 108.6h1.5v1.5h-1.5zM104.0 117.0h1.5v1.5h-1.5zM104.0 107.6h1.5v1.5h-1.5zM104.3 118.6h1.5v1.5h-1.5zM95.9 110.2h1.5v1.5h-1.5zM101.3 105.7h1.5v1.5h-1.5zM98.4 105.7h1.5v1.5h-1.5zM109.3 124.6h1.5v1.5h-1.5zM95.9 97.3h1.5v1.5h-1.5zM116.6 101.5h1.5v1.5h-1.5zM106.0 96.1h1.5v1.5h-1.5zM104.9 102.3h1.5v1.5h-1.5zM97.4 95.9h1.5v1.5h-1.5zM102.0 101.1h1.5v1.5h-1.5zM114.9 102.3h1.5v1.5h-1.5zM105.4 129.7h1.5v1.5h-1.5zM95.4 114.9h1.5v1.5h-1.5zM110.2 106.0h1.5v1.5h-1.5zM114.9 94.9h1.5v1.5h-1.5zM102.2 106.5h1.5v1.5h-1.5zM104.7 127.8h1.5v1.5h-1.5zM114.3 109.9h1.5v1.5h-1.5zM90.4 122.6h1.5v1.5h-1.5z" fill="#000"/>
<path d="M116.7 45.5V172.8" stroke="#808080" stroke-width="1.3" fill="none"/>
<path d="M45.5 132.5H183.8" stroke="#111" stroke-width="1.4" fill="none"/>
<rect x="45.5" y="45.5" width="138.30" height="127.30" fill="none" stroke="#111" stroke-width="1.6"/>
<path d="M45.50 172.80v4.2M45.50 172.80h-4.2M55.91 172.80v2.6M45.50 163.22h-2.6M62.00 172.80v2.6M45.50 157.62h-2.6M66.32 172.80v2.6M45.50 153.64h-2.6M69.67 172.80v2.6M45.50 150.56h-2.6M72.40 172.80v2.6M45.50 148.04h-2.6M74.72 172.80v2.6M45.50 145.90h-2.6M76.72 172.80v2.6M45.50 144.06h-2.6M78.49 172.80v2.6M45.50 142.43h-2.6M80.08 172.80v4.2M45.50 140.98h-4.2M90.48 172.80v2.6M45.50 131.39h-2.6M96.57 172.80v2.6M45.50 125.79h-2.6M100.89 172.80v2.6M45.50 121.81h-2.6M104.24 172.80v2.6M45.50 118.73h-2.6M106.98 172.80v2.6M45.50 116.21h-2.6M109.29 172.80v2.6M45.50 114.08h-2.6M111.30 172.80v2.6M45.50 112.23h-2.6M113.07 172.80v2.6M45.50 110.61h-2.6M114.65 172.80v4.2M45.50 109.15h-4.2M125.06 172.80v2.6M45.50 99.57h-2.6M131.15 172.80v2.6M45.50 93.97h-2.6M135.47 172.80v2.6M45.50 89.99h-2.6M138.82 172.80v2.6M45.50 86.91h-2.6M141.55 172.80v2.6M45.50 84.39h-2.6M143.87 172.80v2.6M45.50 82.25h-2.6M145.87 172.80v2.6M45.50 80.41h-2.6M147.64 172.80v2.6M45.50 78.78h-2.6M149.23 172.80v4.2M45.50 77.33h-4.2M159.63 172.80v2.6M45.50 67.74h-2.6M165.72 172.80v2.6M45.50 62.14h-2.6M170.04 172.80v2.6M45.50 58.16h-2.6M173.39 172.80v2.6M45.50 55.08h-2.6M176.13 172.80v2.6M45.50 52.56h-2.6M178.44 172.80v2.6M45.50 50.43h-2.6M180.45 172.80v2.6M45.50 48.58h-2.6M182.22 172.80v2.6M45.50 46.96h-2.6M183.80 172.80v4.2M45.50 45.50h-4.2" stroke="#111" stroke-width="1.4" fill="none"/>
<text x="37.40" y="192.20" font-size="12">1<tspan dx="0.8">0</tspan><tspan dx="0.4" dy="-4.7" font-size="8.8">0</tspan></text>
<text x="39.70" y="177.40" font-size="12" text-anchor="end">1<tspan dx="0.8">0</tspan><tspan dx="0.4" dy="-4.7" font-size="8.8">0</tspan></text>
<text x="71.10" y="192.20" font-size="12">1<tspan dx="0.8">0</tspan><tspan dx="0.4" dy="-4.7" font-size="8.8">1</tspan></text>
<text x="39.70" y="145.58" font-size="12" text-anchor="end">1<tspan dx="0.8">0</tspan><tspan dx="0.4" dy="-4.7" font-size="8.8">1</tspan></text>
<text x="103.70" y="192.20" font-size="12">1<tspan dx="0.8">0</tspan><tspan dx="0.4" dy="-4.7" font-size="8.8">2</tspan></text>
<text x="39.70" y="113.75" font-size="12" text-anchor="end">1<tspan dx="0.8">0</tspan><tspan dx="0.4" dy="-4.7" font-size="8.8">2</tspan></text>
<text x="139.30" y="192.20" font-size="12">1<tspan dx="0.8">0</tspan><tspan dx="0.4" dy="-4.7" font-size="8.8">3</tspan></text>
<text x="39.70" y="81.92" font-size="12" text-anchor="end">1<tspan dx="0.8">0</tspan><tspan dx="0.4" dy="-4.7" font-size="8.8">3</tspan></text>
<text x="173.50" y="192.20" font-size="12">1<tspan dx="0.8">0</tspan><tspan dx="0.4" dy="-4.7" font-size="8.8">4</tspan></text>
<text x="39.70" y="50.10" font-size="12" text-anchor="end">1<tspan dx="0.8">0</tspan><tspan dx="0.4" dy="-4.7" font-size="8.8">4</tspan></text>
<text x="113.60" y="36.00" font-size="16.7" text-anchor="middle" font-weight="normal" >Untreated control</text>
<text x="162.20" y="63.00" font-size="15.6" text-anchor="start" font-weight="normal" letter-spacing="0.5">6</text>
<text x="48.90" y="147.40" font-size="15.6" text-anchor="start" font-weight="normal" letter-spacing="0.5">93</text>
<text x="167.30" y="148.30" font-size="15.6" text-anchor="start" font-weight="normal" letter-spacing="0.5">1</text>
<text transform="translate(14.2 108) rotate(-90)" font-size="16.6" text-anchor="middle">PI</text>
<path d="M86.7 348.2h1.8v1.8h-1.8zM80.4 354.4h1.8v1.8h-1.8zM81.4 347.8h1.8v1.8h-1.8zM63.5 354.6h1.8v1.8h-1.8zM100.8 337.8h1.8v1.8h-1.8zM82.1 343.5h1.8v1.8h-1.8zM91.8 355.9h1.8v1.8h-1.8zM87.5 334.7h1.8v1.8h-1.8zM93.6 354.9h1.8v1.8h-1.8zM82.1 346.0h1.8v1.8h-1.8zM89.0 350.0h1.8v1.8h-1.8zM84.1 351.1h1.8v1.8h-1.8zM79.7 344.1h1.8v1.8h-1.8zM86.1 357.5h1.8v1.8h-1.8zM87.9 354.2h1.8v1.8h-1.8zM88.6 343.6h1.8v1.8h-1.8zM91.9 346.0h1.8v1.8h-1.8zM70.6 348.9h1.8v1.8h-1.8zM69.8 351.7h1.8v1.8h-1.8zM71.8 351.6h1.8v1.8h-1.8zM92.4 356.6h1.8v1.8h-1.8zM86.1 348.0h1.8v1.8h-1.8zM94.5 353.1h1.8v1.8h-1.8zM91.4 347.4h1.8v1.8h-1.8zM86.9 356.0h1.8v1.8h-1.8zM87.5 354.0h1.8v1.8h-1.8zM83.5 355.1h1.8v1.8h-1.8zM92.6 344.7h1.8v1.8h-1.8zM75.1 354.3h1.8v1.8h-1.8zM81.3 352.0h1.8v1.8h-1.8zM87.1 356.4h1.8v1.8h-1.8zM100.9 352.1h1.8v1.8h-1.8zM78.3 343.7h1.8v1.8h-1.8zM75.5 357.5h1.8v1.8h-1.8zM80.0 346.2h1.8v1.8h-1.8zM93.5 353.9h1.8v1.8h-1.8zM82.9 334.7h1.8v1.8h-1.8zM96.7 355.7h1.8v1.8h-1.8zM68.5 357.0h1.8v1.8h-1.8zM94.9 344.1h1.8v1.8h-1.8zM94.1 356.4h1.8v1.8h-1.8zM72.5 348.6h1.8v1.8h-1.8zM95.7 357.0h1.8v1.8h-1.8zM85.8 341.4h1.8v1.8h-1.8zM93.8 349.9h1.8v1.8h-1.8zM105.9 337.2h1.8v1.8h-1.8zM87.4 349.0h1.8v1.8h-1.8zM82.5 356.0h1.8v1.8h-1.8zM90.7 350.7h1.8v1.8h-1.8zM83.3 349.7h1.8v1.8h-1.8zM83.4 352.9h1.8v1.8h-1.8zM84.1 346.7h1.8v1.8h-1.8zM90.7 354.3h1.8v1.8h-1.8zM71.5 353.2h1.8v1.8h-1.8zM95.5 345.3h1.8v1.8h-1.8zM85.6 347.7h1.8v1.8h-1.8zM98.3 354.5h1.8v1.8h-1.8zM84.3 352.2h1.8v1.8h-1.8zM77.2 338.1h1.8v1.8h-1.8zM100.5 356.1h1.8v1.8h-1.8zM88.1 334.9h1.8v1.8h-1.8zM82.6 355.8h1.8v1.8h-1.8zM92.8 355.2h1.8v1.8h-1.8zM84.1 347.9h1.8v1.8h-1.8zM78.3 345.9h1.8v1.8h-1.8zM83.8 353.5h1.8v1.8h-1.8zM86.7 357.1h1.8v1.8h-1.8zM94.9 347.6h1.8v1.8h-1.8zM77.6 347.4h1.8v1.8h-1.8zM97.6 346.3h1.8v1.8h-1.8zM79.1 350.3h1.8v1.8h-1.8zM86.4 351.3h1.8v1.8h-1.8zM77.6 348.1h1.8v1.8h-1.8zM83.0 352.1h1.8v1.8h-1.8zM85.4 339.2h1.8v1.8h-1.8zM78.8 354.0h1.8v1.8h-1.8zM77.8 354.4h1.8v1.8h-1.8zM71.2 350.5h1.8v1.8h-1.8zM82.7 352.8h1.8v1.8h-1.8zM88.5 353.9h1.8v1.8h-1.8zM93.0 346.7h1.8v1.8h-1.8zM90.7 349.0h1.8v1.8h-1.8zM81.0 347.9h1.8v1.8h-1.8zM101.5 356.4h1.8v1.8h-1.8zM75.8 345.4h1.8v1.8h-1.8zM76.6 344.0h1.8v1.8h-1.8zM67.7 352.4h1.8v1.8h-1.8zM92.9 352.5h1.8v1.8h-1.8zM83.6 345.6h1.8v1.8h-1.8zM76.5 350.1h1.8v1.8h-1.8zM99.8 346.0h1.8v1.8h-1.8zM91.7 345.2h1.8v1.8h-1.8zM85.4 355.9h1.8v1.8h-1.8zM84.6 349.4h1.8v1.8h-1.8zM91.4 352.1h1.8v1.8h-1.8zM92.0 346.4h1.8v1.8h-1.8zM80.2 357.3h1.8v1.8h-1.8zM73.1 353.1h1.8v1.8h-1.8zM79.8 353.4h1.8v1.8h-1.8zM84.2 345.6h1.8v1.8h-1.8zM91.1 350.0h1.8v1.8h-1.8zM77.9 333.8h1.8v1.8h-1.8zM89.8 355.4h1.8v1.8h-1.8zM89.4 350.1h1.8v1.8h-1.8zM86.8 352.0h1.8v1.8h-1.8zM88.1 348.4h1.8v1.8h-1.8zM90.8 352.2h1.8v1.8h-1.8zM77.1 351.4h1.8v1.8h-1.8zM100.2 345.4h1.8v1.8h-1.8zM82.5 348.6h1.8v1.8h-1.8zM94.7 347.9h1.8v1.8h-1.8zM72.7 337.5h1.8v1.8h-1.8zM77.2 352.3h1.8v1.8h-1.8zM85.2 352.2h1.8v1.8h-1.8zM82.2 355.5h1.8v1.8h-1.8zM87.3 340.1h1.8v1.8h-1.8zM90.7 343.5h1.8v1.8h-1.8zM84.2 356.6h1.8v1.8h-1.8zM83.3 345.6h1.8v1.8h-1.8zM66.3 345.8h1.8v1.8h-1.8zM93.3 352.0h1.8v1.8h-1.8zM90.9 351.4h1.8v1.8h-1.8zM76.2 347.5h1.8v1.8h-1.8zM88.0 349.7h1.8v1.8h-1.8zM77.2 340.8h1.8v1.8h-1.8zM94.2 343.2h1.8v1.8h-1.8zM89.5 355.9h1.8v1.8h-1.8zM67.7 354.0h1.8v1.8h-1.8zM86.1 356.2h1.8v1.8h-1.8zM73.9 349.4h1.8v1.8h-1.8zM95.0 348.2h1.8v1.8h-1.8zM92.1 354.5h1.8v1.8h-1.8zM75.3 350.7h1.8v1.8h-1.8zM77.2 339.3h1.8v1.8h-1.8zM85.9 348.7h1.8v1.8h-1.8zM98.4 346.0h1.8v1.8h-1.8zM91.5 356.6h1.8v1.8h-1.8zM82.5 351.5h1.8v1.8h-1.8zM67.1 345.1h1.8v1.8h-1.8zM87.7 341.9h1.8v1.8h-1.8zM92.6 355.7h1.8v1.8h-1.8zM83.4 346.5h1.8v1.8h-1.8zM78.8 351.8h1.8v1.8h-1.8zM90.0 349.6h1.8v1.8h-1.8zM86.8 354.2h1.8v1.8h-1.8zM75.1 353.2h1.8v1.8h-1.8zM97.7 344.3h1.8v1.8h-1.8zM68.5 339.5h1.8v1.8h-1.8zM89.4 345.4h1.8v1.8h-1.8zM93.2 357.6h1.8v1.8h-1.8zM77.5 356.8h1.8v1.8h-1.8zM96.6 348.8h1.8v1.8h-1.8zM87.6 343.8h1.8v1.8h-1.8zM67.6 353.5h1.8v1.8h-1.8zM82.2 356.3h1.8v1.8h-1.8zM96.4 344.5h1.8v1.8h-1.8zM86.1 346.6h1.8v1.8h-1.8zM85.6 357.2h1.8v1.8h-1.8zM82.9 358.0h1.8v1.8h-1.8zM91.5 344.0h1.8v1.8h-1.8zM88.3 354.3h1.8v1.8h-1.8zM87.5 342.7h1.8v1.8h-1.8zM95.5 357.3h1.8v1.8h-1.8zM105.3 346.7h1.8v1.8h-1.8zM91.4 353.6h1.8v1.8h-1.8zM80.7 348.2h1.8v1.8h-1.8zM68.2 353.1h1.8v1.8h-1.8zM89.9 352.0h1.8v1.8h-1.8zM79.8 352.5h1.8v1.8h-1.8zM69.2 341.3h1.8v1.8h-1.8zM94.9 356.6h1.8v1.8h-1.8zM79.8 351.9h1.8v1.8h-1.8zM80.8 357.0h1.8v1.8h-1.8zM103.7 352.3h1.8v1.8h-1.8zM93.4 357.6h1.8v1.8h-1.8zM81.0 347.2h1.8v1.8h-1.8zM64.9 351.8h1.8v1.8h-1.8zM85.9 347.3h1.8v1.8h-1.8zM78.3 350.2h1.8v1.8h-1.8zM73.7 340.7h1.8v1.8h-1.8zM71.1 346.8h1.8v1.8h-1.8zM89.6 348.6h1.8v1.8h-1.8zM85.8 352.2h1.8v1.8h-1.8zM86.4 351.3h1.8v1.8h-1.8zM92.4 346.8h1.8v1.8h-1.8zM77.6 350.5h1.8v1.8h-1.8zM74.1 334.9h1.8v1.8h-1.8zM69.4 352.7h1.8v1.8h-1.8zM82.1 356.4h1.8v1.8h-1.8zM90.6 350.3h1.8v1.8h-1.8zM74.6 351.3h1.8v1.8h-1.8zM80.9 348.1h1.8v1.8h-1.8zM78.3 348.1h1.8v1.8h-1.8zM74.0 352.9h1.8v1.8h-1.8zM92.5 338.5h1.8v1.8h-1.8zM78.3 348.0h1.8v1.8h-1.8zM78.3 354.1h1.8v1.8h-1.8zM84.5 344.0h1.8v1.8h-1.8zM72.3 355.2h1.8v1.8h-1.8zM88.8 341.0h1.8v1.8h-1.8zM73.6 349.1h1.8v1.8h-1.8zM81.7 338.7h1.8v1.8h-1.8zM76.0 354.0h1.8v1.8h-1.8zM80.8 345.6h1.8v1.8h-1.8zM73.3 357.0h1.8v1.8h-1.8zM71.2 349.5h1.8v1.8h-1.8zM76.5 344.2h1.8v1.8h-1.8zM79.0 348.5h1.8v1.8h-1.8zM82.4 352.8h1.8v1.8h-1.8zM85.6 351.7h1.8v1.8h-1.8zM98.4 349.7h1.8v1.8h-1.8zM92.1 349.0h1.8v1.8h-1.8zM82.8 351.8h1.8v1.8h-1.8zM78.9 347.2h1.8v1.8h-1.8zM97.7 355.2h1.8v1.8h-1.8zM89.8 341.2h1.8v1.8h-1.8zM91.6 354.6h1.8v1.8h-1.8zM92.2 348.9h1.8v1.8h-1.8zM61.4 349.1h1.8v1.8h-1.8zM78.4 338.3h1.8v1.8h-1.8zM80.8 352.5h1.8v1.8h-1.8zM68.0 349.8h1.8v1.8h-1.8zM75.6 340.7h1.8v1.8h-1.8zM76.7 348.2h1.8v1.8h-1.8zM89.5 356.3h1.8v1.8h-1.8zM87.6 353.1h1.8v1.8h-1.8zM108.1 353.9h1.8v1.8h-1.8zM81.5 347.4h1.8v1.8h-1.8zM85.7 351.6h1.8v1.8h-1.8zM78.2 347.8h1.8v1.8h-1.8zM91.7 351.8h1.8v1.8h-1.8zM98.9 346.0h1.8v1.8h-1.8zM89.4 349.1h1.8v1.8h-1.8zM98.5 357.8h1.8v1.8h-1.8zM96.8 355.2h1.8v1.8h-1.8zM80.3 351.7h1.8v1.8h-1.8zM76.2 355.8h1.8v1.8h-1.8zM88.6 355.2h1.8v1.8h-1.8zM88.6 355.2h1.8v1.8h-1.8zM88.9 354.6h1.8v1.8h-1.8zM81.4 339.6h1.8v1.8h-1.8zM74.1 352.1h1.8v1.8h-1.8zM73.7 355.1h1.8v1.8h-1.8zM69.7 342.8h1.8v1.8h-1.8zM89.1 341.0h1.8v1.8h-1.8zM104.5 349.6h1.8v1.8h-1.8zM70.0 354.3h1.8v1.8h-1.8zM86.2 338.5h1.8v1.8h-1.8zM88.6 354.5h1.8v1.8h-1.8zM86.8 350.0h1.8v1.8h-1.8zM75.3 353.9h1.8v1.8h-1.8zM95.6 355.7h1.8v1.8h-1.8zM79.8 346.8h1.8v1.8h-1.8zM85.9 356.9h1.8v1.8h-1.8zM91.0 355.6h1.8v1.8h-1.8zM81.2 342.2h1.8v1.8h-1.8zM69.2 356.1h1.8v1.8h-1.8zM91.7 343.5h1.8v1.8h-1.8zM87.0 349.9h1.8v1.8h-1.8zM75.5 341.4h1.8v1.8h-1.8zM86.3 343.8h1.8v1.8h-1.8zM91.4 345.0h1.8v1.8h-1.8zM85.3 356.3h1.8v1.8h-1.8zM101.8 348.2h1.8v1.8h-1.8zM83.2 348.9h1.8v1.8h-1.8zM75.8 342.0h1.8v1.8h-1.8zM70.8 352.2h1.8v1.8h-1.8zM95.1 342.1h1.8v1.8h-1.8zM84.5 346.7h1.8v1.8h-1.8zM93.9 356.9h1.8v1.8h-1.8zM89.0 357.3h1.8v1.8h-1.8zM99.3 347.8h1.8v1.8h-1.8zM96.1 351.6h1.8v1.8h-1.8zM81.7 356.2h1.8v1.8h-1.8zM87.4 351.9h1.8v1.8h-1.8zM97.8 351.3h1.8v1.8h-1.8zM95.7 342.2h1.8v1.8h-1.8zM93.6 350.8h1.8v1.8h-1.8zM79.8 347.9h1.8v1.8h-1.8zM85.8 354.2h1.8v1.8h-1.8zM87.5 354.1h1.8v1.8h-1.8zM73.5 344.0h1.8v1.8h-1.8zM93.1 342.4h1.8v1.8h-1.8zM83.9 356.9h1.8v1.8h-1.8zM84.5 333.0h1.8v1.8h-1.8zM86.1 355.2h1.8v1.8h-1.8zM84.1 336.9h1.8v1.8h-1.8zM89.7 337.9h1.8v1.8h-1.8zM76.4 350.7h1.8v1.8h-1.8zM76.3 354.4h1.8v1.8h-1.8zM100.7 355.8h1.8v1.8h-1.8zM88.4 352.0h1.8v1.8h-1.8zM87.7 353.1h1.8v1.8h-1.8zM82.0 322.6h1.8v1.8h-1.8zM94.6 354.7h1.8v1.8h-1.8zM89.8 337.2h1.8v1.8h-1.8zM100.3 345.5h1.8v1.8h-1.8zM87.9 357.7h1.8v1.8h-1.8zM76.7 355.3h1.8v1.8h-1.8zM80.0 336.1h1.8v1.8h-1.8zM76.3 356.3h1.8v1.8h-1.8zM96.1 353.6h1.8v1.8h-1.8zM92.1 357.5h1.8v1.8h-1.8zM74.1 356.6h1.8v1.8h-1.8zM100.7 338.4h1.8v1.8h-1.8zM87.2 350.3h1.8v1.8h-1.8zM76.6 349.6h1.8v1.8h-1.8zM88.4 342.2h1.8v1.8h-1.8zM84.4 351.6h1.8v1.8h-1.8zM78.2 345.4h1.8v1.8h-1.8zM67.9 351.3h1.8v1.8h-1.8zM85.3 345.0h1.8v1.8h-1.8zM89.9 347.3h1.8v1.8h-1.8zM90.4 352.3h1.8v1.8h-1.8zM80.9 352.3h1.8v1.8h-1.8zM86.0 355.5h1.8v1.8h-1.8zM82.5 350.5h1.8v1.8h-1.8zM77.6 334.1h1.8v1.8h-1.8zM81.8 354.7h1.8v1.8h-1.8zM96.9 350.9h1.8v1.8h-1.8zM72.2 343.3h1.8v1.8h-1.8zM87.1 350.3h1.8v1.8h-1.8zM86.6 347.8h1.8v1.8h-1.8zM78.8 353.8h1.8v1.8h-1.8zM81.1 349.3h1.8v1.8h-1.8zM72.7 349.6h1.8v1.8h-1.8zM77.5 352.7h1.8v1.8h-1.8zM85.1 353.8h1.8v1.8h-1.8zM87.9 352.0h1.8v1.8h-1.8zM111.9 353.8h1.8v1.8h-1.8zM80.0 345.7h1.8v1.8h-1.8zM83.0 352.8h1.8v1.8h-1.8zM96.4 343.3h1.8v1.8h-1.8zM80.8 356.3h1.8v1.8h-1.8zM75.8 352.6h1.8v1.8h-1.8zM94.1 347.1h1.8v1.8h-1.8zM79.3 347.0h1.8v1.8h-1.8zM109.1 350.3h1.8v1.8h-1.8zM81.6 344.0h1.8v1.8h-1.8zM76.7 345.8h1.8v1.8h-1.8zM68.2 343.8h1.8v1.8h-1.8zM73.6 343.8h1.8v1.8h-1.8zM79.9 353.7h1.8v1.8h-1.8zM76.2 337.6h1.8v1.8h-1.8zM74.2 353.1h1.8v1.8h-1.8zM78.9 357.3h1.8v1.8h-1.8zM83.2 344.3h1.8v1.8h-1.8zM97.8 344.5h1.8v1.8h-1.8zM70.0 352.0h1.8v1.8h-1.8zM80.1 351.5h1.8v1.8h-1.8zM73.9 351.3h1.8v1.8h-1.8zM91.3 352.5h1.8v1.8h-1.8zM90.4 347.4h1.8v1.8h-1.8zM83.0 356.0h1.8v1.8h-1.8zM88.4 351.7h1.8v1.8h-1.8zM77.7 349.6h1.8v1.8h-1.8zM90.5 350.1h1.8v1.8h-1.8zM89.1 344.6h1.8v1.8h-1.8zM81.4 350.5h1.8v1.8h-1.8zM85.8 348.8h1.8v1.8h-1.8zM111.9 356.1h1.8v1.8h-1.8zM79.3 355.7h1.8v1.8h-1.8zM92.5 333.0h1.8v1.8h-1.8zM81.2 357.6h1.8v1.8h-1.8zM87.2 342.0h1.8v1.8h-1.8zM92.3 342.7h1.8v1.8h-1.8zM86.4 343.0h1.8v1.8h-1.8zM86.0 344.8h1.8v1.8h-1.8zM90.2 344.2h1.8v1.8h-1.8zM94.0 347.6h1.8v1.8h-1.8zM92.3 348.8h1.8v1.8h-1.8zM87.3 345.2h1.8v1.8h-1.8zM81.9 338.8h1.8v1.8h-1.8zM78.5 347.8h1.8v1.8h-1.8zM80.3 345.7h1.8v1.8h-1.8zM81.8 348.9h1.8v1.8h-1.8zM78.3 348.6h1.8v1.8h-1.8zM83.0 356.9h1.8v1.8h-1.8zM89.2 339.4h1.8v1.8h-1.8zM63.8 340.8h1.8v1.8h-1.8zM75.1 352.3h1.8v1.8h-1.8zM86.5 349.4h1.8v1.8h-1.8zM77.4 349.6h1.8v1.8h-1.8zM80.2 337.6h1.8v1.8h-1.8zM97.2 352.3h1.8v1.8h-1.8zM81.0 349.5h1.8v1.8h-1.8zM91.3 353.4h1.8v1.8h-1.8zM92.0 342.5h1.8v1.8h-1.8zM81.0 345.6h1.8v1.8h-1.8zM88.9 352.3h1.8v1.8h-1.8zM81.0 357.8h1.8v1.8h-1.8zM79.6 355.2h1.8v1.8h-1.8zM75.1 357.9h1.8v1.8h-1.8zM92.7 340.2h1.8v1.8h-1.8zM81.5 350.2h1.8v1.8h-1.8zM80.1 353.6h1.8v1.8h-1.8zM100.9 354.0h1.8v1.8h-1.8zM91.5 350.0h1.8v1.8h-1.8zM83.8 351.0h1.8v1.8h-1.8zM78.9 351.2h1.8v1.8h-1.8zM71.5 340.5h1.8v1.8h-1.8zM87.6 352.2h1.8v1.8h-1.8zM72.6 357.6h1.8v1.8h-1.8zM95.2 337.0h1.8v1.8h-1.8zM91.8 352.0h1.8v1.8h-1.8zM76.5 339.9h1.8v1.8h-1.8zM81.2 356.3h1.8v1.8h-1.8zM86.4 357.6h1.8v1.8h-1.8zM83.7 346.6h1.8v1.8h-1.8zM98.0 343.6h1.8v1.8h-1.8zM87.8 349.1h1.8v1.8h-1.8zM96.1 340.0h1.8v1.8h-1.8zM96.0 343.9h1.8v1.8h-1.8zM88.0 341.4h1.8v1.8h-1.8zM91.5 356.4h1.8v1.8h-1.8zM91.8 337.1h1.8v1.8h-1.8zM83.6 354.0h1.8v1.8h-1.8zM85.3 355.6h1.8v1.8h-1.8zM67.1 341.0h1.8v1.8h-1.8zM85.7 354.1h1.8v1.8h-1.8zM76.0 356.2h1.8v1.8h-1.8zM80.1 355.4h1.8v1.8h-1.8zM87.8 354.3h1.8v1.8h-1.8zM72.6 353.3h1.8v1.8h-1.8zM86.2 356.5h1.8v1.8h-1.8zM79.8 346.0h1.8v1.8h-1.8zM88.5 354.7h1.8v1.8h-1.8zM79.0 353.7h1.8v1.8h-1.8zM78.8 351.0h1.8v1.8h-1.8zM80.5 348.5h1.8v1.8h-1.8zM68.9 351.4h1.8v1.8h-1.8zM82.4 347.7h1.8v1.8h-1.8zM90.1 353.5h1.8v1.8h-1.8zM89.7 353.1h1.8v1.8h-1.8zM99.1 343.6h1.8v1.8h-1.8zM90.1 357.0h1.8v1.8h-1.8zM84.8 354.4h1.8v1.8h-1.8zM96.8 348.7h1.8v1.8h-1.8zM98.5 347.0h1.8v1.8h-1.8zM80.8 350.2h1.8v1.8h-1.8zM86.4 341.9h1.8v1.8h-1.8zM70.2 348.0h1.8v1.8h-1.8zM77.2 347.3h1.8v1.8h-1.8zM80.8 341.8h1.8v1.8h-1.8zM87.0 357.0h1.8v1.8h-1.8zM80.1 339.6h1.8v1.8h-1.8zM97.5 352.8h1.8v1.8h-1.8zM81.0 333.6h1.8v1.8h-1.8zM71.6 345.0h1.8v1.8h-1.8zM71.3 350.2h1.8v1.8h-1.8zM75.8 355.5h1.8v1.8h-1.8zM77.7 348.0h1.8v1.8h-1.8zM90.7 351.2h1.8v1.8h-1.8zM89.3 344.7h1.8v1.8h-1.8zM83.2 354.7h1.8v1.8h-1.8zM86.7 341.5h1.8v1.8h-1.8zM75.1 356.4h1.8v1.8h-1.8zM82.2 349.5h1.8v1.8h-1.8zM82.9 355.6h1.8v1.8h-1.8zM78.9 338.9h1.8v1.8h-1.8zM73.2 351.8h1.8v1.8h-1.8zM99.0 347.2h1.8v1.8h-1.8zM86.9 339.6h1.8v1.8h-1.8zM69.5 347.2h1.8v1.8h-1.8zM78.8 355.0h1.8v1.8h-1.8zM88.6 340.8h1.8v1.8h-1.8zM88.6 350.6h1.8v1.8h-1.8zM72.3 340.5h1.8v1.8h-1.8zM84.2 353.8h1.8v1.8h-1.8zM87.3 338.1h1.8v1.8h-1.8zM88.5 357.9h1.8v1.8h-1.8zM88.5 357.5h1.8v1.8h-1.8zM86.9 353.5h1.8v1.8h-1.8zM100.9 353.1h1.8v1.8h-1.8zM110.2 357.0h1.8v1.8h-1.8zM83.6 348.4h1.8v1.8h-1.8zM74.1 336.9h1.8v1.8h-1.8zM92.6 342.3h1.8v1.8h-1.8zM83.4 342.3h1.8v1.8h-1.8zM81.0 353.6h1.8v1.8h-1.8zM75.9 346.9h1.8v1.8h-1.8zM99.9 348.9h1.8v1.8h-1.8zM81.1 356.6h1.8v1.8h-1.8zM72.7 353.6h1.8v1.8h-1.8zM74.8 351.6h1.8v1.8h-1.8zM86.4 344.5h1.8v1.8h-1.8zM75.7 348.7h1.8v1.8h-1.8zM90.3 351.5h1.8v1.8h-1.8zM91.4 353.5h1.8v1.8h-1.8zM96.1 357.7h1.8v1.8h-1.8zM81.8 347.1h1.8v1.8h-1.8zM79.3 349.7h1.8v1.8h-1.8zM86.8 357.3h1.8v1.8h-1.8zM92.8 347.9h1.8v1.8h-1.8zM85.0 349.0h1.8v1.8h-1.8zM86.2 351.9h1.8v1.8h-1.8zM90.5 354.2h1.8v1.8h-1.8zM78.8 352.9h1.8v1.8h-1.8zM80.8 346.8h1.8v1.8h-1.8zM79.1 355.7h1.8v1.8h-1.8zM89.7 341.2h1.8v1.8h-1.8zM79.7 353.7h1.8v1.8h-1.8zM92.7 352.7h1.8v1.8h-1.8zM75.1 349.7h1.8v1.8h-1.8zM101.5 343.0h1.8v1.8h-1.8zM86.1 355.4h1.8v1.8h-1.8zM95.2 343.8h1.8v1.8h-1.8zM78.1 356.8h1.8v1.8h-1.8zM91.9 352.5h1.8v1.8h-1.8zM95.0 344.4h1.8v1.8h-1.8zM87.6 357.7h1.8v1.8h-1.8zM99.1 349.5h1.8v1.8h-1.8zM81.6 357.7h1.8v1.8h-1.8zM73.3 345.8h1.8v1.8h-1.8zM81.5 354.2h1.8v1.8h-1.8zM96.4 354.9h1.8v1.8h-1.8zM86.4 347.1h1.8v1.8h-1.8zM106.1 354.2h1.8v1.8h-1.8zM80.6 348.3h1.8v1.8h-1.8zM89.2 356.0h1.8v1.8h-1.8zM91.0 351.2h1.8v1.8h-1.8zM86.5 340.7h1.8v1.8h-1.8zM90.2 343.7h1.8v1.8h-1.8zM72.5 348.9h1.8v1.8h-1.8zM83.1 356.8h1.8v1.8h-1.8zM83.3 349.6h1.8v1.8h-1.8zM83.4 354.5h1.8v1.8h-1.8zM79.5 337.0h1.8v1.8h-1.8zM96.6 357.2h1.8v1.8h-1.8zM98.8 353.2h1.8v1.8h-1.8zM65.6 353.0h1.8v1.8h-1.8zM85.1 346.4h1.8v1.8h-1.8zM78.7 345.1h1.8v1.8h-1.8zM88.6 356.8h1.8v1.8h-1.8zM79.6 343.1h1.8v1.8h-1.8zM81.7 352.8h1.8v1.8h-1.8zM79.3 342.0h1.8v1.8h-1.8zM95.9 355.7h1.8v1.8h-1.8zM87.4 338.2h1.8v1.8h-1.8zM84.0 357.7h1.8v1.8h-1.8zM86.2 355.2h1.8v1.8h-1.8zM78.5 354.1h1.8v1.8h-1.8zM85.3 348.2h1.8v1.8h-1.8zM78.7 351.1h1.8v1.8h-1.8zM88.3 336.4h1.8v1.8h-1.8zM95.4 356.6h1.8v1.8h-1.8zM108.7 357.6h1.8v1.8h-1.8zM66.5 341.7h1.8v1.8h-1.8zM85.1 349.2h1.8v1.8h-1.8zM80.0 341.2h1.8v1.8h-1.8zM81.0 342.1h1.8v1.8h-1.8zM73.0 356.9h1.8v1.8h-1.8zM82.7 352.0h1.8v1.8h-1.8zM79.8 334.4h1.8v1.8h-1.8zM64.4 349.3h1.8v1.8h-1.8zM82.3 353.8h1.8v1.8h-1.8zM87.7 339.0h1.8v1.8h-1.8zM65.9 343.0h1.8v1.8h-1.8zM92.8 355.2h1.8v1.8h-1.8zM83.1 353.1h1.8v1.8h-1.8zM86.1 350.6h1.8v1.8h-1.8zM95.5 345.8h1.8v1.8h-1.8zM86.5 344.8h1.8v1.8h-1.8zM81.3 340.5h1.8v1.8h-1.8zM94.6 342.5h1.8v1.8h-1.8zM89.8 342.4h1.8v1.8h-1.8zM79.3 356.0h1.8v1.8h-1.8zM81.7 352.0h1.8v1.8h-1.8zM81.4 343.9h1.8v1.8h-1.8zM90.2 344.9h1.8v1.8h-1.8zM96.4 344.1h1.8v1.8h-1.8zM89.5 357.1h1.8v1.8h-1.8zM64.5 346.7h1.8v1.8h-1.8zM70.1 355.4h1.8v1.8h-1.8zM86.4 350.3h1.8v1.8h-1.8zM84.4 344.5h1.8v1.8h-1.8zM104.0 356.5h1.8v1.8h-1.8zM84.7 339.1h1.8v1.8h-1.8zM83.7 354.8h1.8v1.8h-1.8zM93.3 351.1h1.8v1.8h-1.8zM94.4 346.0h1.8v1.8h-1.8zM89.2 352.6h1.8v1.8h-1.8zM75.0 349.5h1.8v1.8h-1.8zM76.7 351.0h1.8v1.8h-1.8zM95.9 350.5h1.8v1.8h-1.8zM93.1 349.9h1.8v1.8h-1.8zM91.0 329.0h1.8v1.8h-1.8zM91.8 327.3h1.8v1.8h-1.8zM93.0 343.8h1.8v1.8h-1.8zM90.0 342.1h1.8v1.8h-1.8zM66.2 350.0h1.8v1.8h-1.8zM76.2 341.3h1.8v1.8h-1.8zM79.7 345.7h1.8v1.8h-1.8zM75.1 341.5h1.8v1.8h-1.8zM81.8 351.3h1.8v1.8h-1.8zM73.1 352.8h1.8v1.8h-1.8zM66.3 354.1h1.8v1.8h-1.8zM87.9 343.3h1.8v1.8h-1.8zM81.0 356.4h1.8v1.8h-1.8zM71.1 356.4h1.8v1.8h-1.8zM81.3 351.5h1.8v1.8h-1.8zM76.2 354.5h1.8v1.8h-1.8zM86.5 349.0h1.8v1.8h-1.8zM88.2 355.1h1.8v1.8h-1.8zM98.1 350.3h1.8v1.8h-1.8zM84.9 340.1h1.8v1.8h-1.8zM85.9 350.4h1.8v1.8h-1.8zM68.1 352.6h1.8v1.8h-1.8zM90.8 349.3h1.8v1.8h-1.8zM80.3 344.0h1.8v1.8h-1.8zM85.7 353.8h1.8v1.8h-1.8zM81.5 348.5h1.8v1.8h-1.8zM87.7 353.4h1.8v1.8h-1.8zM85.1 346.3h1.8v1.8h-1.8zM86.8 357.4h1.8v1.8h-1.8zM92.7 347.4h1.8v1.8h-1.8zM86.2 353.5h1.8v1.8h-1.8zM86.4 334.3h1.8v1.8h-1.8zM83.9 345.9h1.8v1.8h-1.8zM68.6 349.5h1.8v1.8h-1.8zM91.3 357.3h1.8v1.8h-1.8zM76.7 357.9h1.8v1.8h-1.8zM96.4 347.1h1.8v1.8h-1.8zM80.1 352.9h1.8v1.8h-1.8zM89.9 345.4h1.8v1.8h-1.8zM97.3 343.6h1.8v1.8h-1.8zM88.1 353.8h1.8v1.8h-1.8zM71.7 354.5h1.8v1.8h-1.8zM75.8 345.5h1.8v1.8h-1.8zM96.9 340.7h1.8v1.8h-1.8zM87.5 335.9h1.8v1.8h-1.8zM87.9 349.2h1.8v1.8h-1.8zM84.2 355.2h1.8v1.8h-1.8zM83.4 353.5h1.8v1.8h-1.8zM69.4 356.9h1.8v1.8h-1.8zM89.1 355.0h1.8v1.8h-1.8zM88.6 353.2h1.8v1.8h-1.8zM93.6 351.4h1.8v1.8h-1.8zM74.5 339.5h1.8v1.8h-1.8zM93.2 348.9h1.8v1.8h-1.8zM87.8 355.4h1.8v1.8h-1.8zM97.1 356.3h1.8v1.8h-1.8zM86.8 346.0h1.8v1.8h-1.8zM80.7 351.5h1.8v1.8h-1.8zM89.7 351.9h1.8v1.8h-1.8zM94.5 353.5h1.8v1.8h-1.8zM90.9 344.1h1.8v1.8h-1.8zM69.1 348.7h1.8v1.8h-1.8zM93.3 343.2h1.8v1.8h-1.8zM75.8 346.0h1.8v1.8h-1.8zM77.2 343.7h1.8v1.8h-1.8zM85.1 353.5h1.8v1.8h-1.8zM90.0 356.6h1.8v1.8h-1.8zM81.0 349.3h1.8v1.8h-1.8zM70.7 344.6h1.8v1.8h-1.8zM87.5 355.6h1.8v1.8h-1.8zM106.5 339.1h1.8v1.8h-1.8zM107.2 338.0h1.8v1.8h-1.8zM100.4 357.5h1.8v1.8h-1.8zM87.7 348.7h1.8v1.8h-1.8zM99.6 350.2h1.8v1.8h-1.8zM85.8 358.0h1.8v1.8h-1.8zM76.1 357.7h1.8v1.8h-1.8zM71.1 341.5h1.8v1.8h-1.8zM82.6 349.0h1.8v1.8h-1.8zM79.2 353.3h1.8v1.8h-1.8zM90.0 347.4h1.8v1.8h-1.8zM96.2 356.9h1.8v1.8h-1.8zM83.5 350.3h1.8v1.8h-1.8zM86.7 350.7h1.8v1.8h-1.8zM70.2 342.1h1.8v1.8h-1.8zM87.4 348.1h1.8v1.8h-1.8zM85.1 346.5h1.8v1.8h-1.8zM84.6 357.9h1.8v1.8h-1.8zM87.8 346.7h1.8v1.8h-1.8zM96.8 343.4h1.8v1.8h-1.8zM95.0 345.8h1.8v1.8h-1.8zM97.8 352.5h1.8v1.8h-1.8zM88.3 349.5h1.8v1.8h-1.8zM95.2 354.6h1.8v1.8h-1.8zM90.5 353.0h1.8v1.8h-1.8zM108.7 346.1h1.8v1.8h-1.8zM87.1 357.4h1.8v1.8h-1.8zM73.8 351.9h1.8v1.8h-1.8zM78.0 352.1h1.8v1.8h-1.8zM84.5 348.1h1.8v1.8h-1.8zM82.4 351.4h1.8v1.8h-1.8zM77.0 345.3h1.8v1.8h-1.8zM96.7 343.6h1.8v1.8h-1.8zM79.6 347.5h1.8v1.8h-1.8zM90.4 349.3h1.8v1.8h-1.8zM78.3 351.7h1.8v1.8h-1.8zM79.3 337.1h1.8v1.8h-1.8zM81.2 351.5h1.8v1.8h-1.8zM76.9 342.5h1.8v1.8h-1.8zM84.2 350.9h1.8v1.8h-1.8zM88.9 350.8h1.8v1.8h-1.8zM105.6 340.6h1.8v1.8h-1.8zM92.5 354.7h1.8v1.8h-1.8zM58.7 351.0h1.8v1.8h-1.8zM80.5 356.8h1.8v1.8h-1.8zM81.5 352.6h1.8v1.8h-1.8zM87.8 340.8h1.8v1.8h-1.8zM98.8 353.2h1.8v1.8h-1.8zM91.5 357.2h1.8v1.8h-1.8zM64.7 350.1h1.8v1.8h-1.8zM87.7 356.6h1.8v1.8h-1.8zM86.0 356.5h1.8v1.8h-1.8zM88.6 334.8h1.8v1.8h-1.8zM97.0 357.1h1.8v1.8h-1.8zM75.4 335.8h1.8v1.8h-1.8zM94.7 341.7h1.8v1.8h-1.8zM70.4 350.9h1.8v1.8h-1.8zM85.4 344.1h1.8v1.8h-1.8zM88.3 345.4h1.8v1.8h-1.8zM78.8 343.3h1.8v1.8h-1.8zM98.8 343.0h1.8v1.8h-1.8zM78.8 339.5h1.8v1.8h-1.8zM77.3 352.3h1.8v1.8h-1.8zM85.8 350.0h1.8v1.8h-1.8zM93.8 347.2h1.8v1.8h-1.8zM72.4 350.8h1.8v1.8h-1.8zM99.5 357.8h1.8v1.8h-1.8zM92.2 351.7h1.8v1.8h-1.8zM76.2 350.7h1.8v1.8h-1.8zM71.4 355.8h1.8v1.8h-1.8zM82.7 352.0h1.8v1.8h-1.8zM86.5 348.4h1.8v1.8h-1.8zM98.9 337.6h1.8v1.8h-1.8zM88.1 352.7h1.8v1.8h-1.8zM91.3 346.9h1.8v1.8h-1.8zM90.8 349.8h1.8v1.8h-1.8zM112.4 349.4h1.8v1.8h-1.8zM77.8 344.6h1.8v1.8h-1.8zM96.0 356.2h1.8v1.8h-1.8zM87.3 356.0h1.8v1.8h-1.8zM80.2 346.5h1.8v1.8h-1.8zM95.2 353.1h1.8v1.8h-1.8zM74.0 357.3h1.8v1.8h-1.8zM73.4 350.9h1.8v1.8h-1.8zM83.2 357.3h1.8v1.8h-1.8zM74.8 340.4h1.8v1.8h-1.8zM91.2 350.0h1.8v1.8h-1.8zM91.9 350.7h1.8v1.8h-1.8zM79.2 352.7h1.8v1.8h-1.8zM101.5 346.2h1.8v1.8h-1.8zM85.0 354.3h1.8v1.8h-1.8zM77.0 348.2h1.8v1.8h-1.8zM76.9 347.1h1.8v1.8h-1.8zM95.6 342.2h1.8v1.8h-1.8zM70.3 357.6h1.8v1.8h-1.8zM63.4 341.4h1.8v1.8h-1.8zM80.9 356.2h1.8v1.8h-1.8zM93.8 340.2h1.8v1.8h-1.8zM87.0 353.7h1.8v1.8h-1.8zM89.5 353.0h1.8v1.8h-1.8zM102.8 354.6h1.8v1.8h-1.8zM78.5 352.1h1.8v1.8h-1.8zM81.6 350.6h1.8v1.8h-1.8zM83.8 344.4h1.8v1.8h-1.8zM85.8 339.3h1.8v1.8h-1.8zM70.9 339.2h1.8v1.8h-1.8zM75.7 348.7h1.8v1.8h-1.8zM80.2 344.4h1.8v1.8h-1.8zM89.4 353.3h1.8v1.8h-1.8zM92.5 349.3h1.8v1.8h-1.8zM87.6 347.0h1.8v1.8h-1.8zM84.5 347.0h1.8v1.8h-1.8zM92.9 348.9h1.8v1.8h-1.8zM87.3 350.2h1.8v1.8h-1.8zM75.5 351.3h1.8v1.8h-1.8zM95.5 346.7h1.8v1.8h-1.8zM84.4 345.8h1.8v1.8h-1.8zM82.8 350.2h1.8v1.8h-1.8zM67.6 354.9h1.8v1.8h-1.8zM91.4 351.4h1.8v1.8h-1.8zM70.6 351.5h1.8v1.8h-1.8zM90.8 341.5h1.8v1.8h-1.8zM91.2 347.1h1.8v1.8h-1.8zM85.6 343.4h1.8v1.8h-1.8zM81.9 351.7h1.8v1.8h-1.8zM90.0 357.4h1.8v1.8h-1.8zM91.8 341.5h1.8v1.8h-1.8zM87.0 351.7h1.8v1.8h-1.8zM81.1 355.0h1.8v1.8h-1.8zM95.6 343.6h1.8v1.8h-1.8zM88.5 346.8h1.8v1.8h-1.8zM83.1 347.9h1.8v1.8h-1.8zM83.3 353.2h1.8v1.8h-1.8zM85.9 354.3h1.8v1.8h-1.8zM104.9 340.6h1.8v1.8h-1.8zM85.7 354.6h1.8v1.8h-1.8zM82.7 353.7h1.8v1.8h-1.8zM75.4 354.3h1.8v1.8h-1.8zM74.0 345.0h1.8v1.8h-1.8zM68.1 351.4h1.8v1.8h-1.8zM75.7 347.1h1.8v1.8h-1.8zM81.9 348.6h1.8v1.8h-1.8zM80.1 344.8h1.8v1.8h-1.8zM87.4 354.6h1.8v1.8h-1.8zM84.3 350.1h1.8v1.8h-1.8zM91.5 353.0h1.8v1.8h-1.8zM79.0 357.9h1.8v1.8h-1.8zM96.7 354.1h1.8v1.8h-1.8zM75.8 348.8h1.8v1.8h-1.8zM89.3 352.0h1.8v1.8h-1.8zM90.3 351.8h1.8v1.8h-1.8zM82.4 351.8h1.8v1.8h-1.8zM87.8 351.7h1.8v1.8h-1.8zM73.4 339.7h1.8v1.8h-1.8zM83.0 347.0h1.8v1.8h-1.8zM78.3 350.0h1.8v1.8h-1.8zM89.9 345.7h1.8v1.8h-1.8zM85.0 350.3h1.8v1.8h-1.8zM86.5 354.6h1.8v1.8h-1.8zM85.5 353.3h1.8v1.8h-1.8zM81.4 347.8h1.8v1.8h-1.8zM80.6 349.8h1.8v1.8h-1.8zM102.6 353.9h1.8v1.8h-1.8zM69.2 350.8h1.8v1.8h-1.8zM83.1 344.1h1.8v1.8h-1.8zM93.5 352.5h1.8v1.8h-1.8zM88.4 343.6h1.8v1.8h-1.8zM89.5 354.5h1.8v1.8h-1.8zM73.6 347.5h1.8v1.8h-1.8zM81.8 355.7h1.8v1.8h-1.8zM72.3 346.0h1.8v1.8h-1.8zM93.4 350.0h1.8v1.8h-1.8zM89.5 342.5h1.8v1.8h-1.8zM81.1 343.1h1.8v1.8h-1.8zM72.0 347.9h1.8v1.8h-1.8zM70.7 352.5h1.8v1.8h-1.8zM79.6 354.1h1.8v1.8h-1.8zM86.5 347.9h1.8v1.8h-1.8zM81.7 338.2h1.8v1.8h-1.8zM86.7 345.2h1.8v1.8h-1.8zM88.3 337.3h1.8v1.8h-1.8zM89.5 342.7h1.8v1.8h-1.8zM59.5 345.5h1.8v1.8h-1.8zM77.7 341.3h1.8v1.8h-1.8zM91.6 346.9h1.8v1.8h-1.8zM74.7 357.5h1.8v1.8h-1.8zM91.9 352.9h1.8v1.8h-1.8zM67.9 357.8h1.8v1.8h-1.8zM82.9 341.1h1.8v1.8h-1.8zM71.1 350.8h1.8v1.8h-1.8zM87.6 356.6h1.8v1.8h-1.8zM79.6 354.8h1.8v1.8h-1.8zM91.8 334.6h1.8v1.8h-1.8zM79.7 355.8h1.8v1.8h-1.8zM86.0 339.0h1.8v1.8h-1.8zM78.4 348.6h1.8v1.8h-1.8zM70.5 356.6h1.8v1.8h-1.8zM82.3 341.0h1.8v1.8h-1.8zM91.5 347.4h1.8v1.8h-1.8zM85.4 346.5h1.8v1.8h-1.8zM84.2 353.2h1.8v1.8h-1.8zM78.8 346.3h1.8v1.8h-1.8zM79.7 352.4h1.8v1.8h-1.8zM90.8 350.6h1.8v1.8h-1.8zM71.1 340.1h1.8v1.8h-1.8zM102.4 355.2h1.8v1.8h-1.8zM83.7 354.0h1.8v1.8h-1.8zM103.3 346.5h1.8v1.8h-1.8zM94.5 357.9h1.8v1.8h-1.8zM90.6 339.3h1.8v1.8h-1.8zM86.4 353.7h1.8v1.8h-1.8zM91.1 352.2h1.8v1.8h-1.8zM79.3 347.3h1.8v1.8h-1.8zM80.4 347.9h1.8v1.8h-1.8zM72.0 350.9h1.8v1.8h-1.8zM81.7 346.7h1.8v1.8h-1.8zM86.2 334.8h1.8v1.8h-1.8zM85.7 344.8h1.8v1.8h-1.8zM80.5 348.3h1.8v1.8h-1.8zM90.9 354.5h1.8v1.8h-1.8zM65.9 354.7h1.8v1.8h-1.8zM81.0 351.0h1.8v1.8h-1.8zM91.8 346.1h1.8v1.8h-1.8zM89.7 351.4h1.8v1.8h-1.8zM90.9 345.0h1.8v1.8h-1.8zM84.0 347.7h1.8v1.8h-1.8zM92.2 348.1h1.8v1.8h-1.8zM75.0 354.4h1.8v1.8h-1.8zM65.2 343.1h1.8v1.8h-1.8zM98.8 347.2h1.8v1.8h-1.8zM97.7 351.8h1.8v1.8h-1.8zM78.4 352.1h1.8v1.8h-1.8zM76.2 349.9h1.8v1.8h-1.8zM65.2 356.6h1.8v1.8h-1.8zM70.2 350.2h1.8v1.8h-1.8zM84.7 338.0h1.8v1.8h-1.8zM70.7 342.0h1.8v1.8h-1.8zM77.8 354.1h1.8v1.8h-1.8zM87.8 354.6h1.8v1.8h-1.8zM89.9 340.2h1.8v1.8h-1.8zM81.8 354.1h1.8v1.8h-1.8zM84.7 350.3h1.8v1.8h-1.8zM83.7 345.3h1.8v1.8h-1.8zM65.3 356.4h1.8v1.8h-1.8zM85.3 358.0h1.8v1.8h-1.8zM90.3 342.2h1.8v1.8h-1.8zM67.6 345.7h1.8v1.8h-1.8zM78.1 356.2h1.8v1.8h-1.8zM94.4 347.8h1.8v1.8h-1.8zM70.7 354.8h1.8v1.8h-1.8zM92.5 342.3h1.8v1.8h-1.8zM73.7 346.6h1.8v1.8h-1.8zM75.3 354.0h1.8v1.8h-1.8zM82.0 348.7h1.8v1.8h-1.8zM90.6 357.4h1.8v1.8h-1.8zM86.4 345.5h1.8v1.8h-1.8zM83.5 342.7h1.8v1.8h-1.8zM92.4 357.1h1.8v1.8h-1.8zM103.0 344.0h1.8v1.8h-1.8zM82.9 352.5h1.8v1.8h-1.8zM96.8 347.7h1.8v1.8h-1.8zM93.8 356.2h1.8v1.8h-1.8zM84.8 342.2h1.8v1.8h-1.8zM87.8 341.1h1.8v1.8h-1.8zM75.5 340.9h1.8v1.8h-1.8zM78.4 350.5h1.8v1.8h-1.8zM95.2 353.6h1.8v1.8h-1.8zM72.4 351.0h1.8v1.8h-1.8zM78.2 351.3h1.8v1.8h-1.8zM73.2 357.4h1.8v1.8h-1.8zM91.3 355.2h1.8v1.8h-1.8zM78.6 355.1h1.8v1.8h-1.8zM81.0 351.4h1.8v1.8h-1.8zM92.6 354.3h1.8v1.8h-1.8zM81.3 345.1h1.8v1.8h-1.8zM89.7 345.4h1.8v1.8h-1.8zM82.3 351.1h1.8v1.8h-1.8zM80.7 338.7h1.8v1.8h-1.8zM85.3 355.5h1.8v1.8h-1.8zM85.6 342.3h1.8v1.8h-1.8zM72.4 350.1h1.8v1.8h-1.8zM74.7 355.3h1.8v1.8h-1.8zM88.4 349.8h1.8v1.8h-1.8zM68.4 350.1h1.8v1.8h-1.8zM77.4 342.8h1.8v1.8h-1.8zM83.5 345.8h1.8v1.8h-1.8zM82.8 348.0h1.8v1.8h-1.8zM83.5 352.3h1.8v1.8h-1.8zM76.9 356.3h1.8v1.8h-1.8zM79.7 337.8h1.8v1.8h-1.8zM71.6 340.1h1.8v1.8h-1.8zM80.0 355.8h1.8v1.8h-1.8zM85.0 350.4h1.8v1.8h-1.8zM78.3 352.5h1.8v1.8h-1.8zM94.8 348.2h1.8v1.8h-1.8zM84.7 343.6h1.8v1.8h-1.8zM94.5 344.9h1.8v1.8h-1.8zM77.4 351.8h1.8v1.8h-1.8zM95.6 352.0h1.8v1.8h-1.8zM86.4 345.1h1.8v1.8h-1.8zM92.3 342.9h1.8v1.8h-1.8zM100.1 356.5h1.8v1.8h-1.8zM85.0 350.5h1.8v1.8h-1.8zM75.2 354.5h1.8v1.8h-1.8zM84.0 357.9h1.8v1.8h-1.8zM72.9 338.3h1.8v1.8h-1.8zM77.1 343.6h1.8v1.8h-1.8zM77.4 346.5h1.8v1.8h-1.8zM77.9 353.6h1.8v1.8h-1.8zM94.5 357.3h1.8v1.8h-1.8zM91.6 343.6h1.8v1.8h-1.8zM76.3 350.1h1.8v1.8h-1.8zM94.2 350.9h1.8v1.8h-1.8zM69.4 350.9h1.8v1.8h-1.8zM83.0 345.9h1.8v1.8h-1.8zM94.7 353.1h1.8v1.8h-1.8zM90.7 333.4h1.8v1.8h-1.8zM88.3 350.9h1.8v1.8h-1.8zM95.8 352.7h1.8v1.8h-1.8zM90.6 357.4h1.8v1.8h-1.8zM96.4 347.7h1.8v1.8h-1.8zM77.4 347.3h1.8v1.8h-1.8zM69.5 342.2h1.8v1.8h-1.8zM80.7 347.8h1.8v1.8h-1.8zM86.7 338.2h1.8v1.8h-1.8zM92.2 338.3h1.8v1.8h-1.8zM90.7 352.5h1.8v1.8h-1.8zM88.9 344.3h1.8v1.8h-1.8zM78.1 339.8h1.8v1.8h-1.8zM75.6 348.3h1.8v1.8h-1.8zM83.4 338.6h1.8v1.8h-1.8zM72.0 334.2h1.8v1.8h-1.8zM88.9 344.6h1.8v1.8h-1.8zM70.8 346.6h1.8v1.8h-1.8zM96.8 354.7h1.8v1.8h-1.8zM72.6 341.5h1.8v1.8h-1.8zM76.7 350.3h1.8v1.8h-1.8zM95.4 347.4h1.8v1.8h-1.8zM97.4 345.8h1.8v1.8h-1.8zM75.4 357.9h1.8v1.8h-1.8zM66.8 344.5h1.8v1.8h-1.8zM89.3 356.5h1.8v1.8h-1.8zM92.5 347.9h1.8v1.8h-1.8zM76.3 356.3h1.8v1.8h-1.8zM105.2 353.2h1.8v1.8h-1.8zM91.0 342.2h1.8v1.8h-1.8zM61.5 357.8h1.8v1.8h-1.8zM101.9 352.2h1.8v1.8h-1.8zM97.4 343.1h1.8v1.8h-1.8zM79.3 344.3h1.8v1.8h-1.8zM72.1 347.8h1.8v1.8h-1.8zM77.9 339.5h1.8v1.8h-1.8zM81.2 352.3h1.8v1.8h-1.8zM78.8 349.7h1.8v1.8h-1.8zM81.8 342.7h1.8v1.8h-1.8zM92.4 342.3h1.8v1.8h-1.8zM99.4 350.3h1.8v1.8h-1.8zM85.8 349.7h1.8v1.8h-1.8zM84.7 353.3h1.8v1.8h-1.8zM74.7 340.0h1.8v1.8h-1.8zM73.7 352.7h1.8v1.8h-1.8zM75.1 341.9h1.8v1.8h-1.8zM92.3 345.5h1.8v1.8h-1.8zM93.1 346.6h1.8v1.8h-1.8zM88.3 348.1h1.8v1.8h-1.8zM81.0 345.5h1.8v1.8h-1.8zM73.6 351.9h1.8v1.8h-1.8zM71.9 349.2h1.8v1.8h-1.8zM102.2 357.3h1.8v1.8h-1.8zM86.9 341.6h1.8v1.8h-1.8zM81.3 355.7h1.8v1.8h-1.8zM102.2 351.1h1.8v1.8h-1.8zM81.2 352.6h1.8v1.8h-1.8zM89.5 344.6h1.8v1.8h-1.8zM83.1 347.1h1.8v1.8h-1.8zM87.7 354.5h1.8v1.8h-1.8zM81.3 342.5h1.8v1.8h-1.8zM97.2 348.5h1.8v1.8h-1.8zM73.4 355.6h1.8v1.8h-1.8zM64.9 343.0h1.8v1.8h-1.8zM96.6 339.0h1.8v1.8h-1.8zM86.1 357.1h1.8v1.8h-1.8zM92.3 357.5h1.8v1.8h-1.8zM82.0 351.7h1.8v1.8h-1.8zM98.3 357.2h1.8v1.8h-1.8zM100.8 351.9h1.8v1.8h-1.8zM74.2 357.3h1.8v1.8h-1.8zM90.6 353.2h1.8v1.8h-1.8zM79.2 344.3h1.8v1.8h-1.8zM81.9 344.3h1.8v1.8h-1.8zM72.4 350.8h1.8v1.8h-1.8zM73.1 344.6h1.8v1.8h-1.8zM95.5 350.3h1.8v1.8h-1.8zM84.8 352.5h1.8v1.8h-1.8zM88.0 353.1h1.8v1.8h-1.8zM74.3 356.5h1.8v1.8h-1.8zM78.6 347.3h1.8v1.8h-1.8zM85.5 335.6h1.8v1.8h-1.8zM86.0 345.2h1.8v1.8h-1.8zM85.6 355.6h1.8v1.8h-1.8zM85.8 336.2h1.8v1.8h-1.8zM70.6 352.9h1.8v1.8h-1.8zM83.7 340.9h1.8v1.8h-1.8zM78.0 346.0h1.8v1.8h-1.8zM80.6 351.2h1.8v1.8h-1.8zM83.9 348.2h1.8v1.8h-1.8zM81.9 353.3h1.8v1.8h-1.8zM92.8 349.3h1.8v1.8h-1.8zM88.3 338.7h1.8v1.8h-1.8zM81.4 349.8h1.8v1.8h-1.8zM87.5 347.3h1.8v1.8h-1.8zM72.5 351.1h1.8v1.8h-1.8zM92.8 336.8h1.8v1.8h-1.8zM102.0 347.4h1.8v1.8h-1.8zM57.9 351.9h1.8v1.8h-1.8zM75.0 342.3h1.8v1.8h-1.8zM90.1 350.4h1.8v1.8h-1.8zM81.3 356.6h1.8v1.8h-1.8zM91.5 340.3h1.8v1.8h-1.8zM87.4 339.3h1.8v1.8h-1.8zM81.4 354.6h1.8v1.8h-1.8zM63.6 356.9h1.8v1.8h-1.8zM97.0 342.9h1.8v1.8h-1.8zM81.2 347.1h1.8v1.8h-1.8zM67.4 350.8h1.8v1.8h-1.8zM85.3 354.3h1.8v1.8h-1.8zM96.8 354.5h1.8v1.8h-1.8zM82.7 352.5h1.8v1.8h-1.8zM73.5 345.1h1.8v1.8h-1.8zM104.0 354.4h1.8v1.8h-1.8zM87.0 347.5h1.8v1.8h-1.8zM64.7 342.6h1.8v1.8h-1.8zM83.4 347.0h1.8v1.8h-1.8zM79.1 356.9h1.8v1.8h-1.8zM71.7 347.2h1.8v1.8h-1.8zM76.7 352.7h1.8v1.8h-1.8zM82.2 348.5h1.8v1.8h-1.8zM82.3 357.0h1.8v1.8h-1.8zM88.5 346.5h1.8v1.8h-1.8zM89.8 350.0h1.8v1.8h-1.8zM96.3 348.6h1.8v1.8h-1.8zM89.8 349.1h1.8v1.8h-1.8zM79.5 350.8h1.8v1.8h-1.8zM87.3 353.2h1.8v1.8h-1.8zM95.9 353.7h1.8v1.8h-1.8zM77.3 337.7h1.8v1.8h-1.8zM64.3 340.9h1.8v1.8h-1.8zM84.5 350.6h1.8v1.8h-1.8zM82.3 352.1h1.8v1.8h-1.8zM85.8 340.2h1.8v1.8h-1.8zM85.5 353.0h1.8v1.8h-1.8zM99.5 350.0h1.8v1.8h-1.8zM86.8 356.7h1.8v1.8h-1.8zM78.6 354.3h1.8v1.8h-1.8zM69.5 346.9h1.8v1.8h-1.8zM96.7 343.7h1.8v1.8h-1.8zM94.4 349.2h1.8v1.8h-1.8zM75.6 351.4h1.8v1.8h-1.8zM89.6 354.9h1.8v1.8h-1.8zM87.0 348.4h1.8v1.8h-1.8zM80.7 346.9h1.8v1.8h-1.8zM81.3 356.0h1.8v1.8h-1.8zM73.3 354.3h1.8v1.8h-1.8zM79.5 343.8h1.8v1.8h-1.8zM83.4 349.6h1.8v1.8h-1.8zM82.2 343.4h1.8v1.8h-1.8zM86.1 349.1h1.8v1.8h-1.8zM76.1 344.3h1.8v1.8h-1.8zM84.9 349.5h1.8v1.8h-1.8zM71.5 337.6h1.8v1.8h-1.8zM82.0 356.9h1.8v1.8h-1.8zM90.4 349.5h1.8v1.8h-1.8zM81.6 340.9h1.8v1.8h-1.8zM79.3 347.8h1.8v1.8h-1.8zM86.9 351.7h1.8v1.8h-1.8zM73.7 345.2h1.8v1.8h-1.8zM80.0 357.1h1.8v1.8h-1.8zM87.0 349.7h1.8v1.8h-1.8zM91.9 356.6h1.8v1.8h-1.8zM87.3 355.2h1.8v1.8h-1.8zM87.1 333.7h1.8v1.8h-1.8zM84.4 348.0h1.8v1.8h-1.8zM92.8 351.2h1.8v1.8h-1.8zM82.6 340.6h1.8v1.8h-1.8zM90.0 354.7h1.8v1.8h-1.8zM89.2 350.8h1.8v1.8h-1.8zM87.4 343.5h1.8v1.8h-1.8zM84.5 348.1h1.8v1.8h-1.8zM65.6 349.7h1.8v1.8h-1.8zM88.9 357.1h1.8v1.8h-1.8zM103.2 351.5h1.8v1.8h-1.8zM94.3 357.3h1.8v1.8h-1.8zM89.0 337.2h1.8v1.8h-1.8zM76.2 348.6h1.8v1.8h-1.8zM76.0 349.5h1.8v1.8h-1.8zM91.4 349.2h1.8v1.8h-1.8zM87.9 353.3h1.8v1.8h-1.8zM91.5 345.8h1.8v1.8h-1.8zM89.5 350.7h1.8v1.8h-1.8zM82.4 348.2h1.8v1.8h-1.8zM86.3 341.8h1.8v1.8h-1.8zM95.5 347.5h1.8v1.8h-1.8zM83.7 344.9h1.8v1.8h-1.8zM97.2 357.3h1.8v1.8h-1.8zM78.2 357.9h1.8v1.8h-1.8zM74.0 347.1h1.8v1.8h-1.8zM91.6 346.8h1.8v1.8h-1.8zM64.7 346.2h1.8v1.8h-1.8zM94.3 355.6h1.8v1.8h-1.8zM95.2 348.4h1.8v1.8h-1.8zM87.5 354.7h1.8v1.8h-1.8zM87.0 351.3h1.8v1.8h-1.8zM83.2 348.9h1.8v1.8h-1.8zM94.6 355.0h1.8v1.8h-1.8zM81.8 355.6h1.8v1.8h-1.8zM84.7 354.1h1.8v1.8h-1.8zM92.7 348.9h1.8v1.8h-1.8zM94.9 342.5h1.8v1.8h-1.8zM71.9 343.0h1.8v1.8h-1.8zM67.0 345.7h1.8v1.8h-1.8zM83.9 346.2h1.8v1.8h-1.8zM84.6 352.4h1.8v1.8h-1.8zM87.8 345.4h1.8v1.8h-1.8zM90.7 346.8h1.8v1.8h-1.8zM88.5 349.3h1.8v1.8h-1.8zM99.8 345.6h1.8v1.8h-1.8zM75.8 347.4h1.8v1.8h-1.8zM91.1 347.9h1.8v1.8h-1.8zM75.1 352.9h1.8v1.8h-1.8zM95.6 356.0h1.8v1.8h-1.8zM103.7 352.0h1.8v1.8h-1.8zM91.0 356.3h1.8v1.8h-1.8zM95.5 352.6h1.8v1.8h-1.8zM75.1 348.1h1.8v1.8h-1.8zM82.8 357.5h1.8v1.8h-1.8zM95.7 348.4h1.8v1.8h-1.8zM76.5 349.5h1.8v1.8h-1.8zM84.5 355.8h1.8v1.8h-1.8zM68.4 344.3h1.8v1.8h-1.8zM83.8 347.6h1.8v1.8h-1.8zM90.1 345.6h1.8v1.8h-1.8zM71.6 357.6h1.8v1.8h-1.8zM80.1 345.5h1.8v1.8h-1.8zM89.6 351.3h1.8v1.8h-1.8zM90.0 344.8h1.8v1.8h-1.8zM67.5 347.4h1.8v1.8h-1.8zM85.5 355.6h1.8v1.8h-1.8zM85.0 355.2h1.8v1.8h-1.8zM88.1 356.4h1.8v1.8h-1.8zM81.2 349.9h1.8v1.8h-1.8zM86.9 345.3h1.8v1.8h-1.8zM77.5 348.5h1.8v1.8h-1.8zM80.1 345.9h1.8v1.8h-1.8zM83.7 350.1h1.8v1.8h-1.8zM82.7 346.8h1.8v1.8h-1.8zM84.5 347.2h1.8v1.8h-1.8zM88.2 356.2h1.8v1.8h-1.8zM73.5 353.5h1.8v1.8h-1.8zM93.6 356.5h1.8v1.8h-1.8zM70.7 357.7h1.8v1.8h-1.8zM78.7 356.7h1.8v1.8h-1.8zM94.4 355.3h1.8v1.8h-1.8zM68.2 353.9h1.8v1.8h-1.8zM87.3 335.8h1.8v1.8h-1.8zM88.3 353.0h1.8v1.8h-1.8zM80.5 354.2h1.8v1.8h-1.8zM85.9 350.8h1.8v1.8h-1.8zM75.5 347.2h1.8v1.8h-1.8zM91.9 357.4h1.8v1.8h-1.8zM90.1 343.4h1.8v1.8h-1.8zM91.5 344.9h1.8v1.8h-1.8zM79.1 344.8h1.8v1.8h-1.8zM102.4 352.5h1.8v1.8h-1.8zM84.1 352.3h1.8v1.8h-1.8zM81.2 341.4h1.8v1.8h-1.8zM81.2 353.0h1.8v1.8h-1.8zM94.0 343.8h1.8v1.8h-1.8zM78.2 352.8h1.8v1.8h-1.8zM66.9 353.8h1.8v1.8h-1.8zM88.9 357.0h1.8v1.8h-1.8zM89.4 352.1h1.8v1.8h-1.8zM75.0 352.3h1.8v1.8h-1.8zM85.4 347.1h1.8v1.8h-1.8zM88.2 351.8h1.8v1.8h-1.8zM95.6 355.7h1.8v1.8h-1.8zM84.8 357.5h1.8v1.8h-1.8zM77.2 350.9h1.8v1.8h-1.8zM95.8 350.6h1.8v1.8h-1.8zM91.1 353.3h1.8v1.8h-1.8zM83.0 353.1h1.8v1.8h-1.8zM68.8 352.5h1.8v1.8h-1.8zM77.0 350.9h1.8v1.8h-1.8zM86.0 351.7h1.8v1.8h-1.8zM80.0 347.3h1.8v1.8h-1.8zM88.5 352.7h1.8v1.8h-1.8zM79.0 352.1h1.8v1.8h-1.8zM89.4 348.1h1.8v1.8h-1.8zM82.2 350.3h1.8v1.8h-1.8zM85.9 348.2h1.8v1.8h-1.8zM94.6 357.1h1.8v1.8h-1.8zM79.4 355.5h1.8v1.8h-1.8zM82.4 353.2h1.8v1.8h-1.8zM73.0 354.5h1.8v1.8h-1.8zM87.2 337.3h1.8v1.8h-1.8zM80.0 340.9h1.8v1.8h-1.8zM68.1 341.3h1.8v1.8h-1.8zM89.2 348.8h1.8v1.8h-1.8zM77.1 340.3h1.8v1.8h-1.8zM81.8 352.1h1.8v1.8h-1.8zM88.2 340.9h1.8v1.8h-1.8zM88.0 351.6h1.8v1.8h-1.8zM84.0 347.1h1.8v1.8h-1.8zM66.9 355.9h1.8v1.8h-1.8zM89.5 353.0h1.8v1.8h-1.8zM79.3 344.5h1.8v1.8h-1.8zM65.0 343.2h1.8v1.8h-1.8zM96.2 347.8h1.8v1.8h-1.8zM85.8 341.1h1.8v1.8h-1.8zM83.8 351.2h1.8v1.8h-1.8zM90.5 358.0h1.8v1.8h-1.8zM89.1 345.1h1.8v1.8h-1.8zM98.1 355.6h1.8v1.8h-1.8zM77.5 352.3h1.8v1.8h-1.8zM80.6 342.8h1.8v1.8h-1.8zM92.4 350.4h1.8v1.8h-1.8zM86.1 346.9h1.8v1.8h-1.8zM86.4 356.2h1.8v1.8h-1.8zM92.8 338.3h1.8v1.8h-1.8zM91.1 356.0h1.8v1.8h-1.8zM80.7 352.5h1.8v1.8h-1.8zM85.7 339.7h1.8v1.8h-1.8zM78.3 344.0h1.8v1.8h-1.8zM82.9 356.1h1.8v1.8h-1.8zM79.4 353.4h1.8v1.8h-1.8zM92.5 342.5h1.8v1.8h-1.8zM98.5 352.1h1.8v1.8h-1.8zM84.9 346.2h1.8v1.8h-1.8zM88.8 333.1h1.8v1.8h-1.8zM76.5 344.2h1.8v1.8h-1.8zM82.1 344.6h1.8v1.8h-1.8zM87.3 346.8h1.8v1.8h-1.8zM85.7 345.2h1.8v1.8h-1.8zM70.2 337.1h1.8v1.8h-1.8zM85.8 343.3h1.8v1.8h-1.8zM78.9 346.9h1.8v1.8h-1.8zM94.6 353.8h1.8v1.8h-1.8zM84.1 340.3h1.8v1.8h-1.8zM89.3 350.9h1.8v1.8h-1.8zM86.6 337.4h1.8v1.8h-1.8zM91.9 345.3h1.8v1.8h-1.8zM94.4 354.0h1.8v1.8h-1.8zM89.6 343.5h1.8v1.8h-1.8zM88.2 356.8h1.8v1.8h-1.8zM72.5 358.0h1.8v1.8h-1.8zM61.2 350.6h1.8v1.8h-1.8zM97.3 343.9h1.8v1.8h-1.8zM65.0 342.8h1.8v1.8h-1.8zM68.5 346.2h1.8v1.8h-1.8zM74.8 351.5h1.8v1.8h-1.8zM94.0 341.0h1.8v1.8h-1.8zM85.1 349.4h1.8v1.8h-1.8zM73.2 352.3h1.8v1.8h-1.8zM86.0 356.3h1.8v1.8h-1.8zM93.0 353.7h1.8v1.8h-1.8zM85.8 355.8h1.8v1.8h-1.8zM79.2 347.3h1.8v1.8h-1.8zM74.1 350.5h1.8v1.8h-1.8zM86.2 344.3h1.8v1.8h-1.8zM92.5 352.3h1.8v1.8h-1.8zM89.5 356.0h1.8v1.8h-1.8zM80.0 347.3h1.8v1.8h-1.8zM89.4 350.4h1.8v1.8h-1.8zM86.8 343.5h1.8v1.8h-1.8zM80.8 352.9h1.8v1.8h-1.8zM81.2 336.7h1.8v1.8h-1.8zM90.3 343.4h1.8v1.8h-1.8zM82.2 355.2h1.8v1.8h-1.8zM81.3 341.1h1.8v1.8h-1.8zM75.6 355.0h1.8v1.8h-1.8zM98.1 354.0h1.8v1.8h-1.8zM85.1 340.2h1.8v1.8h-1.8zM72.0 353.5h1.8v1.8h-1.8zM87.3 346.1h1.8v1.8h-1.8zM91.3 340.2h1.8v1.8h-1.8zM81.8 346.1h1.8v1.8h-1.8zM86.3 340.8h1.8v1.8h-1.8zM87.4 340.8h1.8v1.8h-1.8zM104.8 356.4h1.8v1.8h-1.8zM83.1 345.5h1.8v1.8h-1.8zM98.4 355.1h1.8v1.8h-1.8zM85.1 352.7h1.8v1.8h-1.8zM70.0 357.9h1.8v1.8h-1.8zM74.7 340.5h1.8v1.8h-1.8zM69.0 357.8h1.8v1.8h-1.8zM95.5 345.0h1.8v1.8h-1.8zM79.2 344.6h1.8v1.8h-1.8zM90.2 351.1h1.8v1.8h-1.8zM77.2 341.4h1.8v1.8h-1.8zM84.9 349.7h1.8v1.8h-1.8zM75.7 349.7h1.8v1.8h-1.8zM82.7 344.0h1.8v1.8h-1.8zM81.0 349.5h1.8v1.8h-1.8zM104.0 338.4h1.8v1.8h-1.8zM92.3 348.3h1.8v1.8h-1.8zM74.1 356.6h1.8v1.8h-1.8zM79.3 351.9h1.8v1.8h-1.8zM87.6 357.1h1.8v1.8h-1.8zM96.7 346.3h1.8v1.8h-1.8zM87.3 334.6h1.8v1.8h-1.8zM84.8 349.6h1.8v1.8h-1.8zM83.2 346.7h1.8v1.8h-1.8zM82.9 352.5h1.8v1.8h-1.8zM97.2 356.2h1.8v1.8h-1.8zM91.0 355.3h1.8v1.8h-1.8zM95.9 357.1h1.8v1.8h-1.8zM82.3 350.1h1.8v1.8h-1.8zM96.9 357.4h1.8v1.8h-1.8zM74.3 352.5h1.8v1.8h-1.8zM91.2 349.2h1.8v1.8h-1.8zM94.5 348.1h1.8v1.8h-1.8zM73.4 345.2h1.8v1.8h-1.8zM82.6 340.9h1.8v1.8h-1.8zM85.2 342.5h1.8v1.8h-1.8zM77.4 348.7h1.8v1.8h-1.8zM90.9 351.8h1.8v1.8h-1.8zM80.4 357.9h1.8v1.8h-1.8zM82.9 350.8h1.8v1.8h-1.8zM65.2 344.2h1.8v1.8h-1.8zM84.0 345.3h1.8v1.8h-1.8zM68.0 348.4h1.8v1.8h-1.8zM89.3 347.8h1.8v1.8h-1.8zM80.5 347.4h1.8v1.8h-1.8zM86.4 356.1h1.8v1.8h-1.8zM85.9 352.1h1.8v1.8h-1.8zM83.7 352.4h1.8v1.8h-1.8zM88.1 353.8h1.8v1.8h-1.8zM80.8 349.3h1.8v1.8h-1.8zM78.0 348.2h1.8v1.8h-1.8zM86.6 344.7h1.8v1.8h-1.8zM84.8 338.1h1.8v1.8h-1.8zM81.5 348.1h1.8v1.8h-1.8zM81.6 351.8h1.8v1.8h-1.8zM90.8 352.6h1.8v1.8h-1.8zM93.9 342.7h1.8v1.8h-1.8zM90.8 355.9h1.8v1.8h-1.8zM72.0 342.3h1.8v1.8h-1.8zM88.9 346.4h1.8v1.8h-1.8zM75.8 353.3h1.8v1.8h-1.8zM77.2 352.1h1.8v1.8h-1.8zM75.6 337.6h1.8v1.8h-1.8zM84.3 337.4h1.8v1.8h-1.8zM86.1 348.2h1.8v1.8h-1.8zM94.7 355.0h1.8v1.8h-1.8zM76.2 343.0h1.8v1.8h-1.8zM91.1 347.3h1.8v1.8h-1.8zM84.8 334.1h1.8v1.8h-1.8zM77.3 355.0h1.8v1.8h-1.8zM77.4 345.7h1.8v1.8h-1.8zM83.0 355.8h1.8v1.8h-1.8zM78.4 346.0h1.8v1.8h-1.8zM95.9 354.7h1.8v1.8h-1.8zM81.8 348.1h1.8v1.8h-1.8zM72.5 344.7h1.8v1.8h-1.8zM83.2 355.4h1.8v1.8h-1.8zM88.3 336.8h1.8v1.8h-1.8zM92.4 339.0h1.8v1.8h-1.8zM77.0 335.8h1.8v1.8h-1.8zM77.5 353.8h1.8v1.8h-1.8zM99.0 343.3h1.8v1.8h-1.8zM85.0 356.5h1.8v1.8h-1.8zM89.6 340.4h1.8v1.8h-1.8zM85.3 343.2h1.8v1.8h-1.8zM94.3 348.2h1.8v1.8h-1.8zM80.7 351.7h1.8v1.8h-1.8zM85.9 346.4h1.8v1.8h-1.8zM90.9 353.9h1.8v1.8h-1.8zM81.5 354.8h1.8v1.8h-1.8zM71.6 350.7h1.8v1.8h-1.8zM88.9 354.1h1.8v1.8h-1.8zM94.3 352.7h1.8v1.8h-1.8zM87.1 355.5h1.8v1.8h-1.8zM70.4 341.2h1.8v1.8h-1.8zM90.5 348.2h1.8v1.8h-1.8zM102.0 342.4h1.8v1.8h-1.8zM71.6 351.2h1.8v1.8h-1.8zM61.5 351.1h1.8v1.8h-1.8zM82.8 350.1h1.8v1.8h-1.8zM85.6 346.2h1.8v1.8h-1.8zM92.0 343.9h1.8v1.8h-1.8zM85.8 355.8h1.8v1.8h-1.8zM89.7 348.1h1.8v1.8h-1.8zM84.5 355.1h1.8v1.8h-1.8zM83.7 357.1h1.8v1.8h-1.8zM91.1 344.9h1.8v1.8h-1.8zM88.5 343.5h1.8v1.8h-1.8zM81.3 357.9h1.8v1.8h-1.8zM94.4 351.8h1.8v1.8h-1.8zM78.7 339.3h1.8v1.8h-1.8zM83.0 350.3h1.8v1.8h-1.8zM86.2 341.3h1.8v1.8h-1.8zM68.6 340.2h1.8v1.8h-1.8zM81.7 351.2h1.8v1.8h-1.8zM92.4 352.2h1.8v1.8h-1.8zM92.0 349.1h1.8v1.8h-1.8zM74.7 347.7h1.8v1.8h-1.8zM77.9 343.3h1.8v1.8h-1.8zM75.7 350.0h1.8v1.8h-1.8zM83.0 350.6h1.8v1.8h-1.8zM84.4 347.8h1.8v1.8h-1.8zM87.7 349.3h1.8v1.8h-1.8zM85.6 352.5h1.8v1.8h-1.8zM84.4 345.4h1.8v1.8h-1.8zM79.2 350.2h1.8v1.8h-1.8zM83.4 352.0h1.8v1.8h-1.8zM69.7 356.1h1.8v1.8h-1.8zM87.0 327.5h1.8v1.8h-1.8zM84.1 356.0h1.8v1.8h-1.8zM74.9 353.6h1.8v1.8h-1.8zM95.9 343.4h1.8v1.8h-1.8zM94.7 337.5h1.8v1.8h-1.8zM68.9 342.6h1.8v1.8h-1.8zM88.6 357.2h1.8v1.8h-1.8zM86.3 356.9h1.8v1.8h-1.8zM63.0 351.7h1.8v1.8h-1.8zM89.4 357.5h1.8v1.8h-1.8zM90.6 344.3h1.8v1.8h-1.8zM91.2 343.0h1.8v1.8h-1.8zM95.1 351.5h1.8v1.8h-1.8zM80.8 333.5h1.8v1.8h-1.8zM82.6 349.7h1.8v1.8h-1.8zM66.6 349.9h1.8v1.8h-1.8zM88.9 357.4h1.8v1.8h-1.8zM83.0 356.8h1.8v1.8h-1.8zM66.2 344.7h1.8v1.8h-1.8zM91.6 356.0h1.8v1.8h-1.8zM77.2 352.6h1.8v1.8h-1.8zM91.8 340.4h1.8v1.8h-1.8zM74.4 343.4h1.8v1.8h-1.8zM74.8 355.6h1.8v1.8h-1.8zM84.9 355.9h1.8v1.8h-1.8zM70.1 345.8h1.8v1.8h-1.8zM91.3 344.5h1.8v1.8h-1.8zM86.7 355.4h1.8v1.8h-1.8zM93.5 353.8h1.8v1.8h-1.8zM86.8 353.3h1.8v1.8h-1.8zM89.1 356.0h1.8v1.8h-1.8zM69.7 353.3h1.8v1.8h-1.8zM73.3 344.0h1.8v1.8h-1.8zM86.7 337.0h1.8v1.8h-1.8zM73.8 355.9h1.8v1.8h-1.8zM91.9 350.3h1.8v1.8h-1.8zM99.7 346.9h1.8v1.8h-1.8zM85.4 340.7h1.8v1.8h-1.8zM96.3 349.7h1.8v1.8h-1.8zM85.7 350.3h1.8v1.8h-1.8zM92.3 348.6h1.8v1.8h-1.8zM88.9 354.4h1.8v1.8h-1.8zM98.8 348.9h1.8v1.8h-1.8zM95.6 338.3h1.8v1.8h-1.8zM101.9 341.4h1.8v1.8h-1.8zM85.3 357.3h1.8v1.8h-1.8zM95.1 357.2h1.8v1.8h-1.8zM78.5 342.5h1.8v1.8h-1.8zM93.3 354.0h1.8v1.8h-1.8zM100.7 357.0h1.8v1.8h-1.8zM105.8 357.2h1.8v1.8h-1.8zM91.9 351.4h1.8v1.8h-1.8zM78.2 350.0h1.8v1.8h-1.8zM90.5 357.3h1.8v1.8h-1.8zM90.4 342.9h1.8v1.8h-1.8zM81.6 339.0h1.8v1.8h-1.8zM88.4 356.7h1.8v1.8h-1.8zM96.7 354.5h1.8v1.8h-1.8zM88.3 339.5h1.8v1.8h-1.8zM109.7 340.8h1.8v1.8h-1.8zM73.1 347.1h1.8v1.8h-1.8zM91.6 349.7h1.8v1.8h-1.8zM76.0 353.4h1.8v1.8h-1.8zM88.8 345.7h1.8v1.8h-1.8zM87.4 337.1h1.8v1.8h-1.8zM93.9 352.1h1.8v1.8h-1.8zM89.4 331.1h1.8v1.8h-1.8zM92.1 352.7h1.8v1.8h-1.8zM90.5 356.7h1.8v1.8h-1.8zM80.0 356.6h1.8v1.8h-1.8zM76.3 355.8h1.8v1.8h-1.8zM82.6 349.7h1.8v1.8h-1.8zM87.4 349.8h1.8v1.8h-1.8zM84.2 353.0h1.8v1.8h-1.8zM94.0 347.3h1.8v1.8h-1.8zM94.2 342.7h1.8v1.8h-1.8zM86.8 353.2h1.8v1.8h-1.8zM79.6 349.8h1.8v1.8h-1.8zM93.1 340.6h1.8v1.8h-1.8zM78.5 354.2h1.8v1.8h-1.8zM82.2 346.7h1.8v1.8h-1.8zM109.8 345.2h1.8v1.8h-1.8zM56.5 350.0h1.8v1.8h-1.8zM86.2 353.8h1.8v1.8h-1.8zM85.1 344.9h1.8v1.8h-1.8zM83.1 353.2h1.8v1.8h-1.8zM81.2 346.5h1.8v1.8h-1.8zM106.1 356.3h1.8v1.8h-1.8zM81.7 355.7h1.8v1.8h-1.8zM92.5 354.8h1.8v1.8h-1.8zM88.8 353.1h1.8v1.8h-1.8zM83.9 342.0h1.8v1.8h-1.8zM83.0 354.2h1.8v1.8h-1.8zM94.8 340.9h1.8v1.8h-1.8zM64.4 347.5h1.8v1.8h-1.8zM94.5 347.3h1.8v1.8h-1.8zM91.9 347.5h1.8v1.8h-1.8zM88.3 357.9h1.8v1.8h-1.8zM80.8 352.6h1.8v1.8h-1.8zM95.7 353.8h1.8v1.8h-1.8zM75.9 344.4h1.8v1.8h-1.8zM86.7 344.8h1.8v1.8h-1.8zM92.5 342.5h1.8v1.8h-1.8zM83.3 352.9h1.8v1.8h-1.8zM83.6 346.5h1.8v1.8h-1.8zM84.7 354.6h1.8v1.8h-1.8zM84.1 355.9h1.8v1.8h-1.8zM69.8 354.3h1.8v1.8h-1.8zM82.5 354.6h1.8v1.8h-1.8zM83.6 356.1h1.8v1.8h-1.8zM97.8 343.5h1.8v1.8h-1.8zM75.3 349.6h1.8v1.8h-1.8zM86.6 347.9h1.8v1.8h-1.8zM93.5 357.4h1.8v1.8h-1.8zM102.3 329.5h1.8v1.8h-1.8zM75.5 335.5h1.8v1.8h-1.8zM82.9 348.8h1.8v1.8h-1.8zM86.4 355.9h1.8v1.8h-1.8zM84.3 350.0h1.8v1.8h-1.8zM76.8 352.1h1.8v1.8h-1.8zM73.4 357.5h1.8v1.8h-1.8zM95.9 350.2h1.8v1.8h-1.8zM68.5 346.2h1.8v1.8h-1.8zM80.8 358.0h1.8v1.8h-1.8zM97.9 357.6h1.8v1.8h-1.8zM95.0 338.3h1.8v1.8h-1.8zM86.1 351.4h1.8v1.8h-1.8zM81.2 346.9h1.8v1.8h-1.8zM89.6 344.8h1.8v1.8h-1.8zM86.4 351.4h1.8v1.8h-1.8zM87.3 351.8h1.8v1.8h-1.8zM94.6 352.3h1.8v1.8h-1.8zM80.2 352.6h1.8v1.8h-1.8zM77.1 356.6h1.8v1.8h-1.8zM91.9 350.6h1.8v1.8h-1.8zM74.6 356.4h1.8v1.8h-1.8zM89.5 349.5h1.8v1.8h-1.8zM78.7 347.7h1.8v1.8h-1.8zM92.5 339.9h1.8v1.8h-1.8zM74.7 354.7h1.8v1.8h-1.8zM77.5 350.7h1.8v1.8h-1.8zM83.8 347.7h1.8v1.8h-1.8zM77.0 347.6h1.8v1.8h-1.8zM74.6 345.0h1.8v1.8h-1.8zM95.9 348.2h1.8v1.8h-1.8zM73.2 357.1h1.8v1.8h-1.8zM68.0 342.6h1.8v1.8h-1.8zM71.2 356.1h1.8v1.8h-1.8zM92.2 347.1h1.8v1.8h-1.8zM94.1 350.1h1.8v1.8h-1.8zM81.2 355.6h1.8v1.8h-1.8zM84.4 341.3h1.8v1.8h-1.8zM90.0 357.3h1.8v1.8h-1.8zM83.1 351.5h1.8v1.8h-1.8zM77.6 353.2h1.8v1.8h-1.8zM72.5 352.1h1.8v1.8h-1.8zM81.7 357.3h1.8v1.8h-1.8zM90.3 348.8h1.8v1.8h-1.8zM77.5 346.0h1.8v1.8h-1.8zM96.5 347.2h1.8v1.8h-1.8zM97.4 339.2h1.8v1.8h-1.8zM77.2 344.1h1.8v1.8h-1.8zM77.1 348.1h1.8v1.8h-1.8zM87.6 345.9h1.8v1.8h-1.8zM92.9 351.6h1.8v1.8h-1.8zM84.6 347.3h1.8v1.8h-1.8zM81.8 337.0h1.8v1.8h-1.8zM74.4 351.5h1.8v1.8h-1.8zM82.7 348.4h1.8v1.8h-1.8zM99.9 347.3h1.8v1.8h-1.8zM87.9 338.2h1.8v1.8h-1.8zM92.3 343.9h1.8v1.8h-1.8zM102.9 354.2h1.8v1.8h-1.8zM79.7 354.9h1.8v1.8h-1.8zM79.1 352.7h1.8v1.8h-1.8zM84.9 347.8h1.8v1.8h-1.8zM73.2 357.5h1.8v1.8h-1.8zM86.3 342.6h1.8v1.8h-1.8zM86.2 347.1h1.8v1.8h-1.8zM79.7 346.7h1.8v1.8h-1.8zM73.8 353.4h1.8v1.8h-1.8zM88.5 344.8h1.8v1.8h-1.8zM90.0 336.4h1.8v1.8h-1.8zM77.2 344.4h1.8v1.8h-1.8zM75.8 355.0h1.8v1.8h-1.8zM59.9 352.2h1.8v1.8h-1.8zM72.1 342.4h1.8v1.8h-1.8zM66.5 338.7h1.8v1.8h-1.8zM85.1 349.5h1.8v1.8h-1.8zM94.3 339.0h1.8v1.8h-1.8zM81.8 354.5h1.8v1.8h-1.8zM81.3 355.1h1.8v1.8h-1.8zM99.1 347.6h1.8v1.8h-1.8zM87.9 340.4h1.8v1.8h-1.8zM78.7 345.5h1.8v1.8h-1.8zM71.3 344.6h1.8v1.8h-1.8zM84.2 355.8h1.8v1.8h-1.8zM82.5 349.1h1.8v1.8h-1.8zM82.7 354.8h1.8v1.8h-1.8zM102.4 351.7h1.8v1.8h-1.8zM81.9 346.1h1.8v1.8h-1.8zM81.8 350.5h1.8v1.8h-1.8zM95.3 346.9h1.8v1.8h-1.8zM82.3 346.8h1.8v1.8h-1.8zM101.3 337.1h1.8v1.8h-1.8zM82.6 341.8h1.8v1.8h-1.8zM91.8 355.0h1.8v1.8h-1.8zM93.9 354.1h1.8v1.8h-1.8zM82.8 351.3h1.8v1.8h-1.8zM85.5 352.4h1.8v1.8h-1.8zM78.2 352.5h1.8v1.8h-1.8zM79.0 356.7h1.8v1.8h-1.8zM87.9 355.2h1.8v1.8h-1.8zM80.6 348.2h1.8v1.8h-1.8zM89.7 353.3h1.8v1.8h-1.8zM77.8 352.6h1.8v1.8h-1.8zM87.2 349.8h1.8v1.8h-1.8zM73.4 351.9h1.8v1.8h-1.8zM78.3 353.0h1.8v1.8h-1.8zM82.5 352.8h1.8v1.8h-1.8zM93.8 354.8h1.8v1.8h-1.8zM78.6 357.7h1.8v1.8h-1.8zM84.2 348.4h1.8v1.8h-1.8zM83.7 350.1h1.8v1.8h-1.8zM91.3 349.9h1.8v1.8h-1.8zM92.3 349.3h1.8v1.8h-1.8zM81.8 347.9h1.8v1.8h-1.8zM76.9 357.1h1.8v1.8h-1.8zM70.2 349.8h1.8v1.8h-1.8zM78.9 346.2h1.8v1.8h-1.8zM91.4 341.7h1.8v1.8h-1.8zM79.9 342.0h1.8v1.8h-1.8zM92.7 357.1h1.8v1.8h-1.8zM73.8 355.2h1.8v1.8h-1.8zM75.7 355.2h1.8v1.8h-1.8zM74.6 352.4h1.8v1.8h-1.8zM75.3 347.7h1.8v1.8h-1.8zM82.7 351.0h1.8v1.8h-1.8zM82.8 355.0h1.8v1.8h-1.8zM88.8 352.1h1.8v1.8h-1.8zM82.6 350.7h1.8v1.8h-1.8zM81.7 351.1h1.8v1.8h-1.8zM82.6 348.2h1.8v1.8h-1.8zM91.5 357.6h1.8v1.8h-1.8zM64.2 350.7h1.8v1.8h-1.8zM86.5 339.6h1.8v1.8h-1.8zM74.6 347.3h1.8v1.8h-1.8zM97.1 350.0h1.8v1.8h-1.8zM85.8 349.0h1.8v1.8h-1.8zM70.9 352.2h1.8v1.8h-1.8zM87.0 345.8h1.8v1.8h-1.8zM88.3 356.3h1.8v1.8h-1.8zM92.2 344.8h1.8v1.8h-1.8zM78.5 351.8h1.8v1.8h-1.8zM86.0 334.8h1.8v1.8h-1.8zM72.8 337.8h1.8v1.8h-1.8zM69.7 354.5h1.8v1.8h-1.8zM89.7 335.7h1.8v1.8h-1.8zM88.0 350.3h1.8v1.8h-1.8zM85.3 346.6h1.8v1.8h-1.8zM90.6 347.5h1.8v1.8h-1.8zM94.5 345.7h1.8v1.8h-1.8zM98.1 340.1h1.8v1.8h-1.8zM94.0 338.4h1.8v1.8h-1.8zM90.2 351.2h1.8v1.8h-1.8zM91.3 341.2h1.8v1.8h-1.8zM94.1 357.4h1.8v1.8h-1.8zM98.2 338.5h1.8v1.8h-1.8zM89.2 346.8h1.8v1.8h-1.8zM84.0 344.9h1.8v1.8h-1.8zM103.0 352.8h1.8v1.8h-1.8zM80.7 352.0h1.8v1.8h-1.8zM90.8 351.9h1.8v1.8h-1.8zM89.1 341.9h1.8v1.8h-1.8zM106.4 351.3h1.8v1.8h-1.8zM90.6 345.4h1.8v1.8h-1.8zM84.7 340.9h1.8v1.8h-1.8zM81.2 357.5h1.8v1.8h-1.8zM78.2 340.1h1.8v1.8h-1.8zM87.1 342.1h1.8v1.8h-1.8zM86.3 353.7h1.8v1.8h-1.8zM93.7 353.0h1.8v1.8h-1.8zM98.7 349.1h1.8v1.8h-1.8zM86.8 350.5h1.8v1.8h-1.8zM83.7 343.6h1.8v1.8h-1.8zM69.1 344.0h1.8v1.8h-1.8zM88.8 343.5h1.8v1.8h-1.8zM91.2 347.5h1.8v1.8h-1.8zM78.6 351.0h1.8v1.8h-1.8zM82.0 349.3h1.8v1.8h-1.8zM79.3 344.6h1.8v1.8h-1.8zM90.9 353.6h1.8v1.8h-1.8zM96.1 344.0h1.8v1.8h-1.8zM108.8 331.6h1.8v1.8h-1.8zM77.9 357.0h1.8v1.8h-1.8zM76.4 354.7h1.8v1.8h-1.8zM87.0 347.4h1.8v1.8h-1.8zM80.5 343.7h1.8v1.8h-1.8zM101.4 351.3h1.8v1.8h-1.8zM93.9 355.9h1.8v1.8h-1.8zM96.1 353.7h1.8v1.8h-1.8zM77.9 352.4h1.8v1.8h-1.8zM82.1 353.1h1.8v1.8h-1.8zM83.9 354.0h1.8v1.8h-1.8zM96.3 347.9h1.8v1.8h-1.8zM94.6 354.8h1.8v1.8h-1.8zM96.5 351.6h1.8v1.8h-1.8zM85.4 345.4h1.8v1.8h-1.8zM84.6 344.5h1.8v1.8h-1.8zM78.6 349.2h1.8v1.8h-1.8zM99.9 345.4h1.8v1.8h-1.8zM69.7 355.6h1.8v1.8h-1.8zM85.2 356.8h1.8v1.8h-1.8zM85.7 356.4h1.8v1.8h-1.8zM77.8 350.2h1.8v1.8h-1.8zM91.7 344.3h1.8v1.8h-1.8zM92.2 345.9h1.8v1.8h-1.8zM68.1 357.7h1.8v1.8h-1.8zM79.6 352.2h1.8v1.8h-1.8zM78.5 353.1h1.8v1.8h-1.8zM80.5 352.0h1.8v1.8h-1.8zM74.9 357.9h1.8v1.8h-1.8zM76.8 342.8h1.8v1.8h-1.8zM93.5 354.8h1.8v1.8h-1.8zM75.6 347.0h1.8v1.8h-1.8zM63.5 354.9h1.8v1.8h-1.8zM87.5 356.8h1.8v1.8h-1.8zM80.9 341.4h1.8v1.8h-1.8zM89.8 344.2h1.8v1.8h-1.8zM82.1 356.1h1.8v1.8h-1.8zM81.2 347.6h1.8v1.8h-1.8zM80.0 353.1h1.8v1.8h-1.8zM86.6 336.0h1.8v1.8h-1.8zM97.0 348.2h1.8v1.8h-1.8zM79.3 349.5h1.8v1.8h-1.8zM79.3 349.0h1.8v1.8h-1.8zM90.2 353.6h1.8v1.8h-1.8zM90.6 355.2h1.8v1.8h-1.8zM97.5 354.4h1.8v1.8h-1.8zM91.1 355.4h1.8v1.8h-1.8zM86.0 346.2h1.8v1.8h-1.8zM88.9 355.8h1.8v1.8h-1.8zM89.9 353.2h1.8v1.8h-1.8zM86.5 351.3h1.8v1.8h-1.8zM103.2 346.9h1.8v1.8h-1.8zM97.0 353.8h1.8v1.8h-1.8zM77.7 342.7h1.8v1.8h-1.8zM80.0 348.7h1.8v1.8h-1.8zM92.7 350.8h1.8v1.8h-1.8zM76.9 353.9h1.8v1.8h-1.8zM88.2 339.9h1.8v1.8h-1.8zM90.6 345.0h1.8v1.8h-1.8zM86.6 344.9h1.8v1.8h-1.8zM95.2 348.7h1.8v1.8h-1.8zM82.6 349.8h1.8v1.8h-1.8zM85.8 356.0h1.8v1.8h-1.8zM83.3 342.9h1.8v1.8h-1.8zM75.4 348.1h1.8v1.8h-1.8zM85.4 354.5h1.8v1.8h-1.8zM80.1 346.8h1.8v1.8h-1.8zM85.7 345.6h1.8v1.8h-1.8zM62.0 353.2h1.8v1.8h-1.8zM85.9 356.6h1.8v1.8h-1.8zM80.2 355.5h1.8v1.8h-1.8zM79.6 341.0h1.8v1.8h-1.8zM85.4 352.3h1.8v1.8h-1.8zM80.9 351.0h1.8v1.8h-1.8zM96.0 351.0h1.8v1.8h-1.8zM92.8 349.2h1.8v1.8h-1.8zM88.2 345.7h1.8v1.8h-1.8zM81.8 350.8h1.8v1.8h-1.8zM95.6 353.7h1.8v1.8h-1.8zM91.7 356.6h1.8v1.8h-1.8zM86.0 353.7h1.8v1.8h-1.8zM94.3 348.9h1.8v1.8h-1.8zM83.6 357.5h1.8v1.8h-1.8zM99.3 353.2h1.8v1.8h-1.8zM78.4 346.2h1.8v1.8h-1.8zM92.0 352.6h1.8v1.8h-1.8zM91.1 355.5h1.8v1.8h-1.8zM87.7 356.9h1.8v1.8h-1.8zM89.8 356.7h1.8v1.8h-1.8zM65.1 348.1h1.8v1.8h-1.8zM95.1 347.0h1.8v1.8h-1.8zM88.6 346.7h1.8v1.8h-1.8zM95.0 348.6h1.8v1.8h-1.8zM74.7 346.0h1.8v1.8h-1.8zM84.5 353.1h1.8v1.8h-1.8zM88.0 357.6h1.8v1.8h-1.8zM82.7 352.8h1.8v1.8h-1.8zM95.5 349.2h1.8v1.8h-1.8zM89.3 354.2h1.8v1.8h-1.8zM80.6 348.3h1.8v1.8h-1.8zM81.2 350.4h1.8v1.8h-1.8zM90.6 349.9h1.8v1.8h-1.8zM74.1 350.8h1.8v1.8h-1.8zM90.7 356.7h1.8v1.8h-1.8zM84.8 345.7h1.8v1.8h-1.8zM88.1 352.6h1.8v1.8h-1.8zM88.0 355.5h1.8v1.8h-1.8zM82.4 349.4h1.8v1.8h-1.8zM85.9 334.0h1.8v1.8h-1.8zM79.8 348.3h1.8v1.8h-1.8zM80.8 348.0h1.8v1.8h-1.8zM74.8 346.2h1.8v1.8h-1.8zM82.6 346.8h1.8v1.8h-1.8zM93.9 352.5h1.8v1.8h-1.8zM86.9 356.1h1.8v1.8h-1.8zM85.4 352.8h1.8v1.8h-1.8zM82.2 357.2h1.8v1.8h-1.8zM81.3 350.8h1.8v1.8h-1.8zM71.9 344.0h1.8v1.8h-1.8zM99.6 346.7h1.8v1.8h-1.8zM71.8 347.5h1.8v1.8h-1.8zM88.5 348.7h1.8v1.8h-1.8zM87.2 355.1h1.8v1.8h-1.8zM80.4 356.6h1.8v1.8h-1.8zM72.0 351.6h1.8v1.8h-1.8zM79.3 353.7h1.8v1.8h-1.8zM101.4 341.5h1.8v1.8h-1.8zM80.2 343.8h1.8v1.8h-1.8zM76.9 343.8h1.8v1.8h-1.8zM89.8 354.5h1.8v1.8h-1.8zM98.7 355.8h1.8v1.8h-1.8zM70.1 342.7h1.8v1.8h-1.8zM79.2 352.0h1.8v1.8h-1.8zM80.9 347.3h1.8v1.8h-1.8zM78.5 349.1h1.8v1.8h-1.8zM92.4 349.7h1.8v1.8h-1.8zM84.2 355.5h1.8v1.8h-1.8zM80.6 341.9h1.8v1.8h-1.8zM75.9 355.9h1.8v1.8h-1.8zM82.9 345.1h1.8v1.8h-1.8zM100.1 356.9h1.8v1.8h-1.8zM86.3 353.5h1.8v1.8h-1.8zM72.9 350.8h1.8v1.8h-1.8zM71.2 352.7h1.8v1.8h-1.8zM81.3 353.9h1.8v1.8h-1.8zM78.6 355.2h1.8v1.8h-1.8zM82.8 346.0h1.8v1.8h-1.8zM105.6 342.5h1.8v1.8h-1.8zM103.7 344.5h1.8v1.8h-1.8zM69.0 339.0h1.8v1.8h-1.8zM89.2 330.6h1.8v1.8h-1.8zM82.9 348.2h1.8v1.8h-1.8zM94.5 348.6h1.8v1.8h-1.8zM89.6 344.7h1.8v1.8h-1.8zM74.2 352.3h1.8v1.8h-1.8zM95.7 351.7h1.8v1.8h-1.8zM80.5 343.2h1.8v1.8h-1.8zM101.2 351.4h1.8v1.8h-1.8zM76.4 340.9h1.8v1.8h-1.8zM64.6 350.0h1.8v1.8h-1.8zM95.5 357.4h1.8v1.8h-1.8zM89.4 353.8h1.8v1.8h-1.8zM86.2 349.8h1.8v1.8h-1.8zM92.9 350.2h1.8v1.8h-1.8zM91.7 349.4h1.8v1.8h-1.8zM74.0 333.7h1.8v1.8h-1.8zM79.4 351.6h1.8v1.8h-1.8zM73.0 350.2h1.8v1.8h-1.8zM74.2 349.6h1.8v1.8h-1.8zM86.3 350.4h1.8v1.8h-1.8zM77.5 357.8h1.8v1.8h-1.8zM93.7 343.7h1.8v1.8h-1.8zM72.5 345.8h1.8v1.8h-1.8zM92.5 344.0h1.8v1.8h-1.8zM104.6 353.8h1.8v1.8h-1.8zM76.7 349.1h1.8v1.8h-1.8zM97.6 341.7h1.8v1.8h-1.8zM75.4 345.4h1.8v1.8h-1.8zM75.2 352.6h1.8v1.8h-1.8zM70.3 351.7h1.8v1.8h-1.8zM83.5 343.2h1.8v1.8h-1.8zM65.5 349.4h1.8v1.8h-1.8zM93.0 350.1h1.8v1.8h-1.8zM86.8 345.1h1.8v1.8h-1.8zM73.3 354.9h1.8v1.8h-1.8zM105.6 355.6h1.8v1.8h-1.8zM82.5 343.6h1.8v1.8h-1.8zM80.0 355.3h1.8v1.8h-1.8zM61.3 346.1h1.8v1.8h-1.8zM91.8 345.9h1.8v1.8h-1.8zM66.7 356.4h1.8v1.8h-1.8zM83.9 354.6h1.8v1.8h-1.8zM82.7 354.8h2.4v1.8h-2.4zM105.2 356.5h1.8v2.4h-1.8zM83.9 345.3h1.8v2.4h-1.8zM97.6 338.6h2.4v2.4h-2.4zM90.5 346.5h1.4v1.8h-1.4zM101.4 338.8h1.8v2.4h-1.8zM77.8 356.1h1.8v2.4h-1.8zM99.4 345.6h1.4v1.4h-1.4zM99.9 354.0h2.4v1.4h-2.4zM91.0 337.7h2.4v2.4h-2.4zM82.9 332.3h1.4v2.4h-1.4zM75.6 322.7h1.4v1.4h-1.4zM83.6 349.6h2.4v1.4h-2.4zM93.6 332.8h2.4v1.4h-2.4zM67.6 346.8h1.4v2.4h-1.4zM97.1 346.8h1.8v1.8h-1.8zM95.4 328.3h1.8v1.4h-1.8zM83.8 353.9h1.4v1.4h-1.4zM72.0 352.7h2.4v2.4h-2.4zM82.0 343.2h1.4v2.4h-1.4zM80.0 349.4h2.4v2.4h-2.4zM90.5 350.7h2.4v1.8h-2.4zM62.7 353.9h2.4v1.8h-2.4zM88.6 355.8h1.8v2.4h-1.8zM83.6 349.6h2.4v2.4h-2.4zM99.0 351.7h1.4v2.4h-1.4zM76.4 354.4h2.4v1.8h-2.4zM83.4 356.9h2.4v1.8h-2.4zM61.8 350.7h1.4v1.4h-1.4zM117.1 345.7h1.8v2.4h-1.8zM84.0 343.1h1.8v2.4h-1.8zM93.9 355.1h1.4v2.4h-1.4zM89.0 338.5h1.8v1.8h-1.8zM85.7 337.4h1.8v1.4h-1.8zM86.9 347.2h2.4v1.8h-2.4zM62.6 342.4h1.4v2.4h-1.4zM92.7 344.9h1.8v1.4h-1.8zM80.9 351.0h1.8v2.4h-1.8zM84.8 346.3h1.8v1.4h-1.8zM102.6 350.4h2.4v1.4h-2.4zM88.5 350.7h1.4v2.4h-1.4zM113.6 347.1h2.4v2.4h-2.4zM104.4 339.6h1.4v1.8h-1.4zM96.5 353.6h1.8v1.8h-1.8zM93.7 348.1h1.4v2.4h-1.4zM75.8 342.2h2.4v2.4h-2.4zM117.6 338.4h1.4v2.4h-1.4zM111.2 348.0h1.8v2.4h-1.8zM90.1 347.9h1.4v1.8h-1.4zM69.7 355.6h2.4v1.4h-2.4zM104.9 343.4h1.4v1.4h-1.4zM92.9 340.1h1.4v1.4h-1.4zM85.3 351.0h2.4v2.4h-2.4zM87.4 336.9h1.8v1.4h-1.8zM83.4 346.5h1.8v2.4h-1.8zM112.5 346.7h1.8v1.4h-1.8zM119.5 339.6h2.4v1.8h-2.4zM80.1 350.4h2.4v2.4h-2.4zM80.0 332.6h1.4v1.8h-1.4zM97.6 343.6h2.4v1.8h-2.4zM98.4 329.8h1.8v1.8h-1.8zM62.7 340.5h1.8v2.4h-1.8zM90.1 339.1h1.4v1.4h-1.4zM81.8 342.9h1.8v1.4h-1.8zM86.8 349.6h2.4v1.4h-2.4zM111.1 350.2h1.8v1.4h-1.8zM65.2 348.4h1.8v1.8h-1.8zM66.3 346.6h2.4v2.4h-2.4zM85.3 348.4h1.8v1.8h-1.8zM104.6 358.0h1.4v1.8h-1.4zM85.4 355.3h1.4v2.4h-1.4zM72.1 357.7h2.4v1.4h-2.4zM79.9 336.8h1.4v2.4h-1.4zM77.1 341.3h2.4v2.4h-2.4zM82.5 333.8h1.4v1.4h-1.4zM93.9 341.1h1.4v1.4h-1.4zM78.8 338.4h1.8v1.8h-1.8zM95.7 338.6h1.8v2.4h-1.8zM75.0 341.8h2.4v1.4h-2.4zM86.6 334.6h1.4v2.4h-1.4zM91.8 348.2h1.4v1.8h-1.4zM78.8 353.8h1.8v2.4h-1.8zM84.5 349.5h1.4v2.4h-1.4zM110.8 353.4h1.4v1.4h-1.4zM81.0 342.3h1.4v1.4h-1.4zM72.2 342.2h2.4v1.8h-2.4zM88.7 351.4h1.8v2.4h-1.8zM95.9 348.8h1.8v1.8h-1.8zM67.6 345.9h2.4v1.8h-2.4zM62.9 347.5h1.4v2.4h-1.4zM70.5 342.2h1.4v2.4h-1.4zM87.1 337.6h2.4v1.4h-2.4zM86.9 349.7h1.4v1.4h-1.4zM74.9 342.6h2.4v2.4h-2.4zM81.4 339.6h1.8v1.4h-1.8zM86.4 354.8h2.4v2.4h-2.4zM92.5 349.2h1.4v1.4h-1.4zM63.4 341.8h1.8v2.4h-1.8zM80.5 343.3h1.8v1.4h-1.8zM81.8 342.5h1.4v2.4h-1.4zM89.0 339.8h1.8v1.4h-1.8zM65.1 340.4h1.4v2.4h-1.4zM96.1 345.3h1.8v2.4h-1.8zM76.3 350.2h2.4v2.4h-2.4zM63.3 342.7h1.8v1.8h-1.8zM84.4 352.2h1.4v1.8h-1.4zM84.6 337.5h2.4v2.4h-2.4zM100.4 344.3h1.8v2.4h-1.8zM94.2 356.3h1.4v1.8h-1.4zM78.1 331.7h2.4v1.4h-2.4zM89.5 340.8h2.4v1.4h-2.4zM78.1 342.1h1.4v2.4h-1.4zM90.7 346.7h1.8v1.4h-1.8zM105.8 351.1h1.8v1.8h-1.8zM84.2 342.4h1.8v1.8h-1.8zM57.2 321.7h2.4v1.4h-2.4zM79.3 334.2h1.4v2.4h-1.4zM84.3 350.6h1.8v2.4h-1.8zM93.3 353.3h1.8v1.4h-1.8zM104.0 336.7h1.4v1.8h-1.4zM102.6 356.1h1.4v1.8h-1.4zM92.5 349.5h2.4v1.8h-2.4zM76.7 322.3h2.4v1.4h-2.4zM78.0 348.6h2.4v1.8h-2.4zM105.2 345.8h2.4v1.8h-2.4zM92.3 348.1h1.8v1.4h-1.8zM100.2 343.5h2.4v1.4h-2.4zM99.2 340.1h2.4v2.4h-2.4zM96.6 343.9h1.4v1.4h-1.4zM85.6 334.6h1.8v1.8h-1.8zM98.6 324.5h2.4v2.4h-2.4zM88.0 353.2h1.8v2.4h-1.8zM99.3 341.9h1.4v1.4h-1.4zM101.1 337.6h2.4v2.4h-2.4zM112.9 344.7h2.4v1.8h-2.4zM89.3 345.6h1.4v1.8h-1.4zM106.8 353.3h1.4v1.4h-1.4zM73.9 343.6h1.4v2.4h-1.4zM99.5 348.9h2.4v1.8h-2.4zM72.6 339.1h2.4v1.4h-2.4zM76.0 357.8h2.4v1.8h-2.4zM68.7 347.8h1.4v1.4h-1.4zM88.9 353.6h2.4v2.4h-2.4zM117.5 343.3h1.8v1.4h-1.8zM100.4 341.9h2.4v1.4h-2.4zM75.1 356.0h1.4v1.8h-1.4zM88.7 355.8h1.4v1.4h-1.4zM85.5 345.1h1.8v1.8h-1.8zM92.2 353.5h1.8v2.4h-1.8zM88.2 345.4h1.8v2.4h-1.8zM69.9 352.2h2.4v1.8h-2.4zM112.6 340.3h1.4v2.4h-1.4zM103.8 354.9h1.8v2.4h-1.8zM96.5 343.2h1.8v2.4h-1.8zM103.6 352.3h1.4v1.4h-1.4zM93.6 344.2h1.8v1.4h-1.8zM79.5 347.8h2.4v1.8h-2.4zM73.7 348.3h1.8v2.4h-1.8zM96.7 349.4h1.8v1.4h-1.8zM73.5 352.4h1.4v1.4h-1.4zM96.9 336.0h1.4v1.4h-1.4zM83.5 347.3h1.4v1.8h-1.4zM91.3 337.5h1.4v1.8h-1.4zM73.5 347.7h2.4v2.4h-2.4zM95.2 345.4h2.4v1.4h-2.4zM87.2 351.1h2.4v2.4h-2.4zM77.8 343.3h1.4v1.4h-1.4zM98.6 353.6h1.8v1.8h-1.8zM104.2 350.6h1.4v2.4h-1.4zM111.6 335.2h1.4v1.8h-1.4zM98.8 354.3h1.8v1.4h-1.8zM92.2 342.5h1.8v1.4h-1.8zM101.0 355.2h2.4v1.4h-2.4zM78.5 327.6h2.4v2.4h-2.4zM89.8 343.5h1.4v1.8h-1.4zM66.7 344.5h1.8v1.8h-1.8zM100.8 340.4h2.4v2.4h-2.4zM85.8 356.7h1.4v1.8h-1.4zM103.7 331.8h1.8v1.8h-1.8zM102.2 354.7h2.4v2.4h-2.4zM81.9 333.4h2.4v2.4h-2.4zM89.1 352.1h1.4v1.8h-1.4zM82.3 350.3h2.4v1.4h-2.4zM73.7 343.6h1.4v2.4h-1.4zM70.3 339.4h2.4v1.4h-2.4zM73.8 343.6h1.8v1.4h-1.8zM92.5 341.3h1.4v1.4h-1.4zM67.2 347.7h2.4v1.8h-2.4zM86.0 356.7h1.4v1.8h-1.4zM119.8 346.6h1.8v1.4h-1.8zM96.8 353.3h2.4v2.4h-2.4zM90.6 348.4h1.4v2.4h-1.4zM81.8 342.8h2.4v1.8h-2.4zM58.0 349.9h2.4v1.8h-2.4zM151.6 320.5h1.5v1.5h-1.5zM146.6 307.2h1.5v1.5h-1.5zM147.0 317.0h1.5v1.5h-1.5zM144.2 306.4h1.5v1.5h-1.5zM148.6 319.2h1.5v1.5h-1.5zM147.7 316.6h1.5v1.5h-1.5zM145.8 338.4h1.5v1.5h-1.5zM135.8 322.7h1.5v1.5h-1.5zM143.2 314.1h1.5v1.5h-1.5zM142.1 323.6h1.5v1.5h-1.5zM139.9 304.1h1.5v1.5h-1.5zM147.1 325.1h1.5v1.5h-1.5zM147.1 326.4h1.5v1.5h-1.5zM141.9 313.5h1.5v1.5h-1.5zM149.9 315.1h1.5v1.5h-1.5zM144.9 302.5h1.5v1.5h-1.5zM142.5 320.2h1.5v1.5h-1.5zM150.4 324.0h1.5v1.5h-1.5zM149.5 306.7h1.5v1.5h-1.5zM159.5 322.7h1.5v1.5h-1.5zM151.4 308.5h1.5v1.5h-1.5zM148.4 329.8h1.5v1.5h-1.5zM147.0 299.4h1.5v1.5h-1.5zM142.2 315.3h1.5v1.5h-1.5zM136.2 325.1h1.5v1.5h-1.5zM144.6 307.4h1.5v1.5h-1.5zM142.5 311.5h1.5v1.5h-1.5zM146.7 317.7h1.5v1.5h-1.5zM150.8 316.2h1.5v1.5h-1.5zM145.4 311.1h1.5v1.5h-1.5zM150.1 311.2h1.5v1.5h-1.5zM160.6 313.9h1.5v1.5h-1.5zM145.4 314.4h1.5v1.5h-1.5zM144.1 313.1h1.5v1.5h-1.5zM154.1 324.4h1.5v1.5h-1.5zM153.2 318.6h1.5v1.5h-1.5zM156.2 320.9h1.5v1.5h-1.5zM141.4 321.6h1.5v1.5h-1.5zM137.0 306.4h1.5v1.5h-1.5zM155.4 307.9h1.5v1.5h-1.5zM154.2 332.9h1.5v1.5h-1.5zM146.9 299.8h1.5v1.5h-1.5zM132.1 311.2h1.5v1.5h-1.5zM158.2 322.1h1.5v1.5h-1.5zM155.8 315.3h1.5v1.5h-1.5zM153.4 314.3h1.5v1.5h-1.5zM135.7 330.6h1.5v1.5h-1.5zM147.3 307.9h1.5v1.5h-1.5zM141.4 326.1h1.5v1.5h-1.5zM146.8 304.6h1.5v1.5h-1.5zM154.7 303.4h1.5v1.5h-1.5zM145.1 314.2h1.5v1.5h-1.5zM139.7 319.0h1.5v1.5h-1.5zM138.5 336.3h1.5v1.5h-1.5zM148.2 320.2h1.5v1.5h-1.5zM140.2 319.0h1.5v1.5h-1.5zM143.3 323.0h1.5v1.5h-1.5zM142.0 317.0h1.5v1.5h-1.5zM140.2 311.5h1.5v1.5h-1.5zM140.7 312.8h1.5v1.5h-1.5zM137.2 321.9h1.5v1.5h-1.5zM154.0 313.5h1.5v1.5h-1.5zM148.1 304.4h1.5v1.5h-1.5zM143.4 311.4h1.5v1.5h-1.5zM158.0 302.8h1.5v1.5h-1.5zM146.3 328.5h1.5v1.5h-1.5zM151.2 302.8h1.5v1.5h-1.5zM147.1 322.0h1.5v1.5h-1.5zM142.8 314.6h1.5v1.5h-1.5zM140.6 327.5h1.5v1.5h-1.5zM142.9 331.8h1.5v1.5h-1.5zM153.7 314.1h1.5v1.5h-1.5zM140.8 322.4h1.5v1.5h-1.5zM145.7 318.9h1.5v1.5h-1.5zM142.4 304.3h1.5v1.5h-1.5zM147.2 329.5h1.5v1.5h-1.5zM146.4 323.6h1.5v1.5h-1.5zM140.8 322.0h1.5v1.5h-1.5zM147.8 323.7h1.5v1.5h-1.5zM142.0 319.8h1.5v1.5h-1.5zM150.2 311.3h1.5v1.5h-1.5zM148.1 319.7h1.5v1.5h-1.5zM146.2 307.4h1.5v1.5h-1.5zM147.8 335.4h1.5v1.5h-1.5zM149.3 307.1h1.5v1.5h-1.5zM152.7 325.9h1.5v1.5h-1.5zM153.0 311.9h1.5v1.5h-1.5zM152.8 318.1h1.5v1.5h-1.5zM149.9 321.6h1.5v1.5h-1.5zM146.1 309.2h1.5v1.5h-1.5zM149.5 318.0h1.5v1.5h-1.5zM144.6 294.1h1.5v1.5h-1.5zM143.8 318.3h1.5v1.5h-1.5zM147.6 327.8h1.5v1.5h-1.5zM149.4 315.0h1.5v1.5h-1.5zM140.9 310.4h1.5v1.5h-1.5zM150.4 310.3h1.5v1.5h-1.5zM147.2 295.9h1.5v1.5h-1.5zM145.7 305.3h1.5v1.5h-1.5zM145.8 319.9h1.5v1.5h-1.5zM146.9 331.8h1.5v1.5h-1.5zM154.9 323.1h1.5v1.5h-1.5zM138.0 316.8h1.5v1.5h-1.5zM150.6 316.5h1.5v1.5h-1.5zM138.0 320.9h1.5v1.5h-1.5zM149.9 331.4h1.5v1.5h-1.5zM143.6 315.6h1.5v1.5h-1.5zM137.6 317.3h1.5v1.5h-1.5zM153.2 320.3h1.5v1.5h-1.5zM136.7 321.8h1.5v1.5h-1.5zM141.7 319.1h1.5v1.5h-1.5zM139.8 305.6h1.5v1.5h-1.5zM144.7 302.8h1.5v1.5h-1.5zM138.2 316.6h1.5v1.5h-1.5zM148.5 323.8h1.5v1.5h-1.5zM153.2 333.0h1.5v1.5h-1.5zM154.5 320.2h1.5v1.5h-1.5zM153.3 307.3h1.5v1.5h-1.5zM142.2 313.6h1.5v1.5h-1.5zM144.3 304.0h1.5v1.5h-1.5zM147.9 315.3h1.5v1.5h-1.5zM146.1 326.1h1.5v1.5h-1.5zM143.3 318.1h1.5v1.5h-1.5zM131.9 334.7h1.5v1.5h-1.5zM142.5 314.9h1.5v1.5h-1.5zM148.6 317.6h1.5v1.5h-1.5zM145.4 319.6h1.5v1.5h-1.5zM160.0 320.6h1.5v1.5h-1.5zM125.6 318.3h1.5v1.5h-1.5zM135.9 319.4h1.5v1.5h-1.5zM137.4 324.3h1.5v1.5h-1.5zM151.1 312.5h1.5v1.5h-1.5zM154.4 317.1h1.5v1.5h-1.5zM139.5 320.3h1.5v1.5h-1.5zM146.0 314.1h1.5v1.5h-1.5zM149.4 308.4h1.5v1.5h-1.5zM147.7 319.9h1.5v1.5h-1.5zM147.1 319.9h1.5v1.5h-1.5zM141.3 310.8h1.5v1.5h-1.5zM139.7 309.0h1.5v1.5h-1.5zM137.0 299.1h1.5v1.5h-1.5zM137.9 306.4h1.5v1.5h-1.5zM149.7 318.8h1.5v1.5h-1.5zM144.2 298.1h1.5v1.5h-1.5zM143.3 314.5h1.5v1.5h-1.5zM139.2 317.6h1.5v1.5h-1.5zM146.2 312.4h1.5v1.5h-1.5zM152.0 310.7h1.5v1.5h-1.5zM138.7 324.7h1.5v1.5h-1.5zM154.6 320.4h1.5v1.5h-1.5zM148.8 307.9h1.5v1.5h-1.5zM129.6 324.9h1.5v1.5h-1.5zM147.0 330.9h1.5v1.5h-1.5zM147.5 309.6h1.5v1.5h-1.5zM154.2 308.3h1.5v1.5h-1.5zM144.8 312.0h1.5v1.5h-1.5zM131.1 319.7h1.5v1.5h-1.5zM135.2 316.4h1.5v1.5h-1.5zM136.4 314.1h1.5v1.5h-1.5zM148.6 307.6h1.5v1.5h-1.5zM139.3 322.9h1.5v1.5h-1.5zM137.7 316.6h1.5v1.5h-1.5zM147.7 317.7h1.5v1.5h-1.5zM150.5 316.7h1.5v1.5h-1.5zM136.2 319.4h1.5v1.5h-1.5zM145.8 304.2h1.5v1.5h-1.5zM152.3 312.6h1.5v1.5h-1.5zM149.9 317.4h1.5v1.5h-1.5zM154.5 319.5h1.5v1.5h-1.5zM154.1 320.8h1.5v1.5h-1.5zM150.8 324.7h1.5v1.5h-1.5zM142.6 316.6h1.5v1.5h-1.5zM159.1 323.5h1.5v1.5h-1.5zM150.6 322.4h1.5v1.5h-1.5zM146.2 319.8h1.5v1.5h-1.5zM143.9 315.6h1.5v1.5h-1.5zM149.7 314.4h1.5v1.5h-1.5zM143.0 317.2h1.5v1.5h-1.5zM145.8 323.3h1.5v1.5h-1.5zM153.4 310.8h1.5v1.5h-1.5zM149.2 310.4h1.5v1.5h-1.5zM139.0 320.8h1.5v1.5h-1.5zM147.5 319.0h1.5v1.5h-1.5zM143.8 325.1h1.5v1.5h-1.5zM140.9 327.1h1.5v1.5h-1.5zM140.0 320.9h1.5v1.5h-1.5zM140.6 304.6h1.5v1.5h-1.5zM147.1 325.4h1.5v1.5h-1.5zM153.7 320.7h1.5v1.5h-1.5zM144.9 323.4h1.5v1.5h-1.5zM154.8 321.5h1.5v1.5h-1.5zM140.9 317.3h1.5v1.5h-1.5zM144.8 320.9h1.5v1.5h-1.5zM155.5 307.3h1.5v1.5h-1.5zM147.2 308.2h1.5v1.5h-1.5zM148.0 317.2h1.5v1.5h-1.5zM148.2 329.2h1.5v1.5h-1.5zM142.8 319.4h1.5v1.5h-1.5zM146.4 317.1h1.5v1.5h-1.5zM151.7 318.6h1.5v1.5h-1.5zM149.4 325.1h1.5v1.5h-1.5zM152.4 324.6h1.5v1.5h-1.5zM155.6 318.0h1.5v1.5h-1.5zM131.9 315.1h1.5v1.5h-1.5zM137.2 324.6h1.5v1.5h-1.5zM133.0 319.9h1.5v1.5h-1.5zM140.9 314.1h1.5v1.5h-1.5zM144.8 315.8h1.5v1.5h-1.5zM147.8 309.9h1.5v1.5h-1.5zM142.7 318.6h1.5v1.5h-1.5zM149.5 324.1h1.5v1.5h-1.5zM150.4 299.3h1.5v1.5h-1.5zM146.7 314.4h1.5v1.5h-1.5zM139.0 307.2h1.5v1.5h-1.5zM142.4 313.8h1.5v1.5h-1.5zM144.9 313.2h1.5v1.5h-1.5zM150.6 307.9h1.5v1.5h-1.5zM145.1 318.1h1.5v1.5h-1.5zM148.1 306.6h1.5v1.5h-1.5zM135.7 309.8h1.5v1.5h-1.5zM128.5 305.6h1.5v1.5h-1.5zM146.7 310.8h1.5v1.5h-1.5zM146.7 320.9h1.5v1.5h-1.5zM139.9 313.8h1.5v1.5h-1.5zM143.2 327.1h1.5v1.5h-1.5zM149.4 315.1h1.5v1.5h-1.5zM149.6 311.9h1.5v1.5h-1.5zM153.7 326.1h1.5v1.5h-1.5zM150.5 319.9h1.5v1.5h-1.5zM144.3 323.5h1.5v1.5h-1.5zM149.2 320.8h1.5v1.5h-1.5zM158.8 328.6h1.5v1.5h-1.5zM156.4 324.3h1.5v1.5h-1.5zM140.8 327.1h1.5v1.5h-1.5zM148.2 310.2h1.5v1.5h-1.5zM155.2 322.0h1.5v1.5h-1.5zM146.9 324.1h1.5v1.5h-1.5zM149.8 317.4h1.5v1.5h-1.5zM154.0 326.9h1.5v1.5h-1.5zM147.7 318.3h1.5v1.5h-1.5zM148.8 315.6h1.5v1.5h-1.5zM143.7 321.4h1.5v1.5h-1.5zM140.0 307.5h1.5v1.5h-1.5zM143.0 305.2h1.5v1.5h-1.5zM150.2 315.6h1.5v1.5h-1.5zM144.9 299.2h1.5v1.5h-1.5zM146.8 325.5h1.5v1.5h-1.5zM158.9 312.7h1.5v1.5h-1.5zM141.3 329.6h1.5v1.5h-1.5zM151.9 318.5h1.5v1.5h-1.5zM142.8 311.8h1.5v1.5h-1.5zM149.7 312.8h1.5v1.5h-1.5zM151.4 321.9h1.5v1.5h-1.5zM154.0 324.8h1.5v1.5h-1.5zM141.4 315.8h1.5v1.5h-1.5zM143.9 306.9h1.5v1.5h-1.5zM147.0 318.8h1.5v1.5h-1.5zM145.6 321.8h1.5v1.5h-1.5zM129.1 323.0h1.5v1.5h-1.5zM137.2 268.6h1.3v1.3h-1.3zM141.2 293.4h1.3v1.3h-1.3zM151.7 305.8h1.3v1.3h-1.3zM162.9 304.7h1.3v1.3h-1.3zM147.9 281.1h1.3v1.3h-1.3zM133.0 317.0h1.3v1.3h-1.3zM151.9 293.3h1.3v1.3h-1.3zM113.6 322.6h1.3v1.3h-1.3zM146.0 309.5h1.3v1.3h-1.3zM137.7 332.6h1.3v1.3h-1.3zM159.4 325.2h1.3v1.3h-1.3zM141.5 298.4h1.3v1.3h-1.3zM131.1 329.7h1.3v1.3h-1.3zM169.7 303.7h1.3v1.3h-1.3zM148.1 312.1h1.3v1.3h-1.3zM143.1 328.6h1.3v1.3h-1.3zM138.8 309.8h1.3v1.3h-1.3zM134.4 325.3h1.3v1.3h-1.3zM126.9 322.9h1.3v1.3h-1.3zM149.4 318.7h1.3v1.3h-1.3zM138.0 296.7h1.3v1.3h-1.3zM155.6 277.2h1.3v1.3h-1.3zM150.8 291.6h1.3v1.3h-1.3zM155.3 292.4h1.3v1.3h-1.3zM139.4 331.2h1.3v1.3h-1.3zM146.0 308.0h1.3v1.3h-1.3zM138.9 311.0h1.3v1.3h-1.3zM143.0 300.9h1.3v1.3h-1.3zM139.6 276.1h1.3v1.3h-1.3zM124.6 292.2h1.3v1.3h-1.3zM146.1 315.0h1.3v1.3h-1.3zM130.8 327.4h1.3v1.3h-1.3zM163.2 341.5h1.3v1.3h-1.3zM142.9 325.8h1.3v1.3h-1.3zM126.8 330.2h1.3v1.3h-1.3zM143.5 298.7h1.3v1.3h-1.3zM148.7 325.5h1.3v1.3h-1.3zM147.6 321.4h1.3v1.3h-1.3zM140.2 283.0h1.3v1.3h-1.3zM147.4 308.1h1.3v1.3h-1.3zM146.8 306.0h1.3v1.3h-1.3zM138.1 333.5h1.3v1.3h-1.3zM142.7 307.9h1.3v1.3h-1.3zM150.2 279.9h1.3v1.3h-1.3zM145.0 306.9h1.3v1.3h-1.3zM145.5 349.6h1.3v1.3h-1.3zM156.7 281.8h1.3v1.3h-1.3zM157.5 305.9h1.3v1.3h-1.3zM134.1 312.5h1.3v1.3h-1.3zM141.3 306.0h1.3v1.3h-1.3zM147.2 314.9h1.3v1.3h-1.3zM149.9 287.0h1.3v1.3h-1.3zM140.0 297.0h1.3v1.3h-1.3zM144.8 299.1h1.3v1.3h-1.3zM144.0 310.4h1.3v1.3h-1.3zM148.4 290.2h1.3v1.3h-1.3zM153.9 278.1h1.3v1.3h-1.3zM138.8 322.2h1.3v1.3h-1.3zM125.7 329.2h1.3v1.3h-1.3zM140.3 319.2h1.3v1.3h-1.3zM142.4 309.9h1.3v1.3h-1.3zM141.4 322.8h1.3v1.3h-1.3zM154.2 303.2h1.3v1.3h-1.3zM134.7 313.4h1.3v1.3h-1.3zM152.3 286.0h1.3v1.3h-1.3zM164.0 280.9h1.3v1.3h-1.3zM135.1 296.2h1.3v1.3h-1.3zM143.2 307.1h1.3v1.3h-1.3zM144.1 312.9h1.3v1.3h-1.3zM150.3 317.4h1.3v1.3h-1.3zM152.9 283.5h1.3v1.3h-1.3zM138.8 316.0h1.3v1.3h-1.3zM143.6 299.9h1.3v1.3h-1.3zM148.5 293.8h1.3v1.3h-1.3zM151.9 291.2h1.3v1.3h-1.3zM147.2 313.5h1.3v1.3h-1.3zM147.8 283.8h1.3v1.3h-1.3zM137.9 326.5h1.3v1.3h-1.3zM141.2 311.8h1.3v1.3h-1.3zM144.1 297.1h1.3v1.3h-1.3zM156.7 316.8h1.3v1.3h-1.3zM129.9 321.5h1.3v1.3h-1.3zM141.4 299.6h1.3v1.3h-1.3zM143.6 284.0h1.3v1.3h-1.3zM138.3 297.0h1.3v1.3h-1.3zM154.7 291.2h1.3v1.3h-1.3zM141.5 316.0h1.3v1.3h-1.3zM138.5 315.3h1.3v1.3h-1.3zM136.5 333.4h1.3v1.3h-1.3zM153.2 308.4h1.3v1.3h-1.3zM148.6 317.0h1.3v1.3h-1.3zM143.5 272.4h1.3v1.3h-1.3zM151.3 278.4h1.3v1.3h-1.3zM148.7 279.8h1.3v1.3h-1.3zM134.6 308.2h1.3v1.3h-1.3zM131.6 260.3h1.3v1.3h-1.3zM137.1 341.1h1.3v1.3h-1.3zM141.6 273.8h1.3v1.3h-1.3zM137.3 300.9h1.3v1.3h-1.3zM144.7 301.6h1.3v1.3h-1.3zM145.2 328.8h1.3v1.3h-1.3zM148.4 292.0h1.3v1.3h-1.3zM146.1 309.4h1.3v1.3h-1.3zM138.7 297.0h1.3v1.3h-1.3zM160.3 311.7h1.3v1.3h-1.3zM141.5 300.2h1.3v1.3h-1.3zM138.4 274.5h1.3v1.3h-1.3zM146.2 292.9h1.3v1.3h-1.3zM150.7 293.1h1.3v1.3h-1.3zM127.2 314.6h1.3v1.3h-1.3zM154.8 276.1h1.3v1.3h-1.3zM144.5 341.4h1.3v1.3h-1.3zM148.1 286.3h1.3v1.3h-1.3zM143.8 309.1h1.3v1.3h-1.3zM160.4 312.2h1.3v1.3h-1.3zM162.7 310.9h1.3v1.3h-1.3zM136.3 279.6h1.3v1.3h-1.3zM140.2 313.9h1.3v1.3h-1.3zM142.3 274.5h1.3v1.3h-1.3zM144.1 298.8h1.3v1.3h-1.3zM136.4 296.6h1.3v1.3h-1.3zM135.5 282.6h1.3v1.3h-1.3zM138.9 323.4h1.3v1.3h-1.3zM145.4 265.5h1.3v1.3h-1.3zM151.2 324.7h1.3v1.3h-1.3zM153.9 295.8h1.3v1.3h-1.3zM153.7 278.0h1.3v1.3h-1.3zM148.9 310.8h1.3v1.3h-1.3zM159.4 311.2h1.3v1.3h-1.3zM139.8 282.7h1.3v1.3h-1.3zM142.4 301.9h1.3v1.3h-1.3zM148.0 337.5h1.3v1.3h-1.3zM137.0 302.1h1.3v1.3h-1.3zM151.8 301.1h1.3v1.3h-1.3zM132.5 352.1h1.3v1.3h-1.3zM141.5 306.6h1.3v1.3h-1.3zM138.4 307.5h1.3v1.3h-1.3zM151.5 309.0h1.3v1.3h-1.3zM139.2 294.2h1.3v1.3h-1.3zM148.4 283.1h1.3v1.3h-1.3zM150.7 316.5h1.3v1.3h-1.3zM149.3 317.6h1.3v1.3h-1.3zM145.8 299.9h1.3v1.3h-1.3zM136.9 282.1h1.3v1.3h-1.3zM151.1 298.2h1.3v1.3h-1.3zM136.0 311.8h1.3v1.3h-1.3zM150.3 324.5h1.3v1.3h-1.3zM144.5 284.2h1.3v1.3h-1.3zM155.1 298.9h1.3v1.3h-1.3zM143.6 310.1h1.3v1.3h-1.3zM144.5 312.9h1.3v1.3h-1.3zM134.9 305.5h1.3v1.3h-1.3zM146.6 299.6h1.3v1.3h-1.3zM153.8 323.8h1.3v1.3h-1.3zM145.1 315.8h1.3v1.3h-1.3zM150.8 281.7h1.3v1.3h-1.3zM156.7 327.4h1.3v1.3h-1.3zM135.8 286.4h1.3v1.3h-1.3zM159.8 300.4h1.3v1.3h-1.3zM144.3 274.0h1.3v1.3h-1.3zM124.6 284.9h1.3v1.3h-1.3zM148.8 285.7h1.3v1.3h-1.3zM144.3 297.0h1.3v1.3h-1.3zM134.2 323.9h1.3v1.3h-1.3zM132.0 306.8h1.3v1.3h-1.3zM148.0 300.7h1.3v1.3h-1.3zM144.6 306.5h1.3v1.3h-1.3zM144.0 295.8h1.3v1.3h-1.3zM156.9 311.1h1.3v1.3h-1.3zM143.3 320.2h1.3v1.3h-1.3zM137.2 340.7h1.3v1.3h-1.3zM130.2 303.5h1.3v1.3h-1.3zM143.2 285.1h1.3v1.3h-1.3zM148.5 320.4h1.3v1.3h-1.3zM151.7 286.6h1.3v1.3h-1.3zM152.1 286.5h1.3v1.3h-1.3zM142.3 307.2h1.3v1.3h-1.3zM146.9 329.3h1.3v1.3h-1.3zM128.3 283.3h1.3v1.3h-1.3zM138.8 332.4h1.3v1.3h-1.3zM167.4 302.5h1.3v1.3h-1.3zM149.5 323.0h1.3v1.3h-1.3zM147.1 299.7h1.3v1.3h-1.3zM152.2 296.1h1.3v1.3h-1.3zM160.4 316.9h1.3v1.3h-1.3zM146.5 289.9h1.3v1.3h-1.3zM150.3 297.5h1.3v1.3h-1.3zM151.4 326.5h1.3v1.3h-1.3zM145.0 308.1h1.3v1.3h-1.3zM151.9 312.3h1.3v1.3h-1.3zM142.1 270.6h1.3v1.3h-1.3zM168.3 300.1h1.3v1.3h-1.3zM143.7 295.8h1.3v1.3h-1.3zM148.2 298.5h1.3v1.3h-1.3zM156.7 352.0h1.3v1.3h-1.3zM168.8 291.5h1.3v1.3h-1.3zM156.6 287.5h1.3v1.3h-1.3zM150.6 298.9h1.3v1.3h-1.3zM155.8 297.3h1.3v1.3h-1.3zM128.2 258.5h1.3v1.3h-1.3zM147.0 290.8h1.3v1.3h-1.3zM156.6 321.7h1.3v1.3h-1.3zM142.9 314.2h1.3v1.3h-1.3zM160.3 316.0h1.3v1.3h-1.3zM158.7 306.5h1.3v1.3h-1.3zM145.3 303.1h1.3v1.3h-1.3zM152.4 287.2h1.3v1.3h-1.3zM152.3 309.6h1.3v1.3h-1.3zM155.4 334.5h1.3v1.3h-1.3zM144.5 298.0h1.3v1.3h-1.3zM128.2 317.5h1.3v1.3h-1.3zM144.0 333.3h1.3v1.3h-1.3zM173.7 289.1h1.3v1.3h-1.3zM137.1 310.1h1.3v1.3h-1.3zM149.1 300.1h1.3v1.3h-1.3zM143.4 299.7h1.3v1.3h-1.3zM151.1 292.1h1.3v1.3h-1.3zM166.4 310.1h1.3v1.3h-1.3zM160.6 290.5h1.3v1.3h-1.3zM134.4 280.1h1.3v1.3h-1.3zM142.2 331.1h1.3v1.3h-1.3zM146.3 304.4h1.3v1.3h-1.3zM148.0 280.5h1.3v1.3h-1.3zM142.4 306.7h1.3v1.3h-1.3zM133.3 327.4h1.3v1.3h-1.3zM130.6 323.1h1.3v1.3h-1.3zM142.5 314.5h1.3v1.3h-1.3zM150.7 294.4h1.3v1.3h-1.3zM139.5 336.3h1.3v1.3h-1.3zM142.5 316.5h1.3v1.3h-1.3zM162.1 310.4h1.3v1.3h-1.3zM142.1 314.0h1.3v1.3h-1.3zM151.5 303.2h1.3v1.3h-1.3zM149.9 322.9h1.3v1.3h-1.3zM141.1 289.6h1.3v1.3h-1.3zM159.9 309.0h1.3v1.3h-1.3zM133.3 302.0h1.3v1.3h-1.3zM141.7 283.9h1.3v1.3h-1.3zM145.7 315.4h1.3v1.3h-1.3zM157.4 296.1h1.3v1.3h-1.3zM159.2 302.3h1.3v1.3h-1.3zM133.6 335.7h1.3v1.3h-1.3zM142.8 311.0h1.3v1.3h-1.3zM130.4 319.8h1.3v1.3h-1.3zM135.2 293.2h1.3v1.3h-1.3zM158.9 323.9h1.3v1.3h-1.3zM152.0 286.0h1.3v1.3h-1.3zM152.4 294.2h1.3v1.3h-1.3zM136.8 299.2h1.3v1.3h-1.3zM144.6 326.1h1.3v1.3h-1.3zM125.8 293.3h1.3v1.3h-1.3zM146.8 307.4h1.3v1.3h-1.3zM147.5 316.3h1.3v1.3h-1.3zM165.4 273.8h1.3v1.3h-1.3zM142.4 342.3h1.3v1.3h-1.3zM145.9 324.5h1.3v1.3h-1.3zM154.3 290.5h1.3v1.3h-1.3zM169.2 297.1h1.3v1.3h-1.3zM155.2 329.7h1.3v1.3h-1.3zM153.4 326.3h1.3v1.3h-1.3zM139.9 312.4h1.3v1.3h-1.3zM148.3 287.6h1.3v1.3h-1.3zM141.1 327.6h1.3v1.3h-1.3zM133.1 331.8h1.3v1.3h-1.3zM155.3 279.2h1.3v1.3h-1.3zM141.3 305.6h1.3v1.3h-1.3zM146.8 334.6h1.3v1.3h-1.3zM139.5 284.3h1.3v1.3h-1.3zM148.3 303.8h1.3v1.3h-1.3zM126.2 322.2h1.3v1.3h-1.3zM147.1 284.1h1.3v1.3h-1.3zM158.7 310.3h1.3v1.3h-1.3zM145.8 267.1h1.3v1.3h-1.3zM136.5 322.2h1.3v1.3h-1.3zM144.6 334.8h1.3v1.3h-1.3zM139.8 308.5h1.3v1.3h-1.3zM143.0 307.1h1.3v1.3h-1.3zM149.5 308.8h1.3v1.3h-1.3zM140.8 313.3h1.3v1.3h-1.3zM140.8 296.3h1.3v1.3h-1.3zM125.8 309.7h1.3v1.3h-1.3zM129.6 317.9h1.3v1.3h-1.3zM136.5 309.3h1.3v1.3h-1.3zM147.3 317.2h1.3v1.3h-1.3zM149.7 306.3h1.3v1.3h-1.3zM146.6 320.1h1.3v1.3h-1.3zM142.8 290.2h1.3v1.3h-1.3zM147.1 300.6h1.3v1.3h-1.3zM146.0 306.9h1.3v1.3h-1.3zM156.2 345.6h1.3v1.3h-1.3zM141.3 338.4h1.3v1.3h-1.3zM139.3 292.8h1.3v1.3h-1.3zM142.2 305.8h1.3v1.3h-1.3zM151.1 301.2h1.3v1.3h-1.3zM153.6 289.9h1.3v1.3h-1.3zM139.3 293.3h1.3v1.3h-1.3zM150.3 322.3h1.3v1.3h-1.3zM143.4 275.7h1.3v1.3h-1.3zM146.0 294.4h1.3v1.3h-1.3zM141.2 308.2h1.3v1.3h-1.3zM126.2 304.0h1.3v1.3h-1.3zM160.4 297.9h1.3v1.3h-1.3zM136.8 314.6h1.3v1.3h-1.3zM147.8 297.2h1.3v1.3h-1.3zM141.5 307.5h1.3v1.3h-1.3zM120.9 340.1h1.3v1.3h-1.3zM146.4 296.1h1.3v1.3h-1.3zM139.0 329.8h1.3v1.3h-1.3zM145.5 282.8h1.3v1.3h-1.3zM135.1 347.3h1.3v1.3h-1.3zM146.2 261.6h1.3v1.3h-1.3zM156.1 303.8h1.3v1.3h-1.3zM151.5 269.7h1.3v1.3h-1.3zM153.5 303.8h1.3v1.3h-1.3zM141.2 301.2h1.3v1.3h-1.3zM145.3 277.1h1.3v1.3h-1.3zM137.3 306.2h1.3v1.3h-1.3zM146.3 325.1h1.3v1.3h-1.3zM141.8 311.4h1.3v1.3h-1.3zM142.0 296.1h1.3v1.3h-1.3zM140.0 325.8h1.3v1.3h-1.3zM134.9 334.0h1.3v1.3h-1.3zM155.4 290.0h1.3v1.3h-1.3zM134.7 312.2h1.3v1.3h-1.3zM160.5 284.4h1.3v1.3h-1.3zM148.7 292.4h1.3v1.3h-1.3zM156.4 317.5h1.3v1.3h-1.3zM164.1 319.5h1.3v1.3h-1.3zM148.0 323.4h1.3v1.3h-1.3zM152.0 298.3h1.3v1.3h-1.3zM145.1 324.0h1.3v1.3h-1.3zM148.2 342.6h1.3v1.3h-1.3zM155.3 317.2h1.3v1.3h-1.3zM144.4 323.2h1.3v1.3h-1.3zM147.6 306.7h1.3v1.3h-1.3zM140.9 322.0h1.3v1.3h-1.3zM132.8 339.8h1.3v1.3h-1.3zM156.7 311.8h1.3v1.3h-1.3zM156.0 292.3h1.3v1.3h-1.3zM159.6 304.1h1.3v1.3h-1.3zM134.4 313.7h1.3v1.3h-1.3zM150.3 298.2h1.3v1.3h-1.3zM147.4 343.2h1.3v1.3h-1.3zM162.0 274.0h1.3v1.3h-1.3zM149.3 309.4h1.3v1.3h-1.3zM142.1 310.9h1.3v1.3h-1.3zM146.4 323.7h1.3v1.3h-1.3zM156.8 326.3h1.3v1.3h-1.3zM144.1 302.5h1.3v1.3h-1.3zM147.1 312.2h1.3v1.3h-1.3zM148.3 291.9h1.3v1.3h-1.3zM151.0 291.3h1.3v1.3h-1.3zM151.3 309.0h1.3v1.3h-1.3zM138.2 303.6h1.3v1.3h-1.3zM165.0 315.9h1.3v1.3h-1.3zM138.5 296.0h1.3v1.3h-1.3zM140.3 278.7h1.3v1.3h-1.3zM144.7 322.0h1.3v1.3h-1.3zM154.3 327.1h1.3v1.3h-1.3zM157.6 308.7h1.3v1.3h-1.3zM150.1 292.3h1.3v1.3h-1.3zM138.3 326.0h1.3v1.3h-1.3zM137.9 288.4h1.3v1.3h-1.3zM140.8 317.2h1.3v1.3h-1.3zM148.9 309.8h1.3v1.3h-1.3zM143.0 329.2h1.3v1.3h-1.3zM123.1 317.8h1.3v1.3h-1.3zM142.9 323.0h1.3v1.3h-1.3zM148.9 310.0h1.3v1.3h-1.3zM134.2 335.0h1.3v1.3h-1.3zM133.8 342.0h1.3v1.3h-1.3zM136.2 294.7h1.3v1.3h-1.3zM154.7 312.1h1.3v1.3h-1.3zM160.3 318.2h1.3v1.3h-1.3zM154.2 314.6h1.3v1.3h-1.3zM141.3 291.3h1.3v1.3h-1.3zM141.3 300.5h1.3v1.3h-1.3zM163.6 296.6h1.3v1.3h-1.3zM167.1 292.0h1.3v1.3h-1.3zM157.4 301.6h1.3v1.3h-1.3zM144.1 313.4h1.3v1.3h-1.3zM131.7 294.1h1.3v1.3h-1.3zM154.4 282.2h1.3v1.3h-1.3zM160.5 299.3h1.3v1.3h-1.3zM146.3 297.3h1.3v1.3h-1.3zM137.5 307.6h1.3v1.3h-1.3zM145.1 330.0h1.3v1.3h-1.3zM145.4 327.5h1.3v1.3h-1.3zM147.6 252.1h1.3v1.3h-1.3zM123.0 336.0h1.3v1.3h-1.3zM146.2 285.0h1.3v1.3h-1.3zM127.3 311.2h1.3v1.3h-1.3zM140.0 287.6h1.3v1.3h-1.3zM133.1 347.9h1.3v1.3h-1.3zM145.8 286.6h1.3v1.3h-1.3zM152.1 326.7h1.3v1.3h-1.3zM136.5 305.4h1.3v1.3h-1.3zM145.4 320.2h1.3v1.3h-1.3zM132.3 307.5h1.3v1.3h-1.3zM147.2 280.5h1.3v1.3h-1.3zM146.2 272.2h1.3v1.3h-1.3zM140.8 305.1h1.3v1.3h-1.3zM138.7 303.0h1.3v1.3h-1.3zM137.7 294.9h1.3v1.3h-1.3zM125.6 328.2h1.3v1.3h-1.3zM131.5 303.9h1.3v1.3h-1.3zM129.4 293.2h1.3v1.3h-1.3zM145.3 344.7h1.3v1.3h-1.3zM135.7 308.4h1.3v1.3h-1.3zM154.4 300.9h1.3v1.3h-1.3zM152.4 294.9h1.3v1.3h-1.3zM144.2 294.2h1.3v1.3h-1.3zM158.2 289.0h1.3v1.3h-1.3zM143.8 288.5h1.3v1.3h-1.3zM133.3 290.3h1.3v1.3h-1.3zM129.8 260.6h1.3v1.3h-1.3zM128.4 264.0h1.3v1.3h-1.3zM146.5 289.9h1.3v1.3h-1.3zM122.8 272.6h1.3v1.3h-1.3zM143.9 273.2h1.3v1.3h-1.3zM155.0 262.4h1.3v1.3h-1.3zM136.7 269.9h1.3v1.3h-1.3zM142.7 256.4h1.3v1.3h-1.3zM157.0 295.3h1.3v1.3h-1.3zM150.4 276.1h1.3v1.3h-1.3zM131.7 278.6h1.3v1.3h-1.3zM142.2 267.1h1.3v1.3h-1.3zM140.4 263.7h1.3v1.3h-1.3zM155.9 271.4h1.3v1.3h-1.3zM165.0 261.3h1.3v1.3h-1.3zM136.4 269.9h1.3v1.3h-1.3zM151.2 264.0h1.3v1.3h-1.3zM152.7 279.7h1.3v1.3h-1.3zM150.6 266.1h1.3v1.3h-1.3zM121.0 283.1h1.3v1.3h-1.3zM130.5 288.2h1.3v1.3h-1.3zM132.4 268.9h1.3v1.3h-1.3zM133.0 270.4h1.3v1.3h-1.3zM127.6 275.4h1.3v1.3h-1.3zM150.4 261.3h1.3v1.3h-1.3zM146.0 279.8h1.3v1.3h-1.3zM140.4 285.1h1.3v1.3h-1.3zM114.3 253.2h1.3v1.3h-1.3zM152.2 281.5h1.3v1.3h-1.3zM122.7 272.5h1.3v1.3h-1.3zM149.4 267.4h1.3v1.3h-1.3zM138.1 270.0h1.3v1.3h-1.3zM150.6 267.1h1.3v1.3h-1.3zM137.4 280.9h1.3v1.3h-1.3zM145.1 268.1h1.3v1.3h-1.3zM134.5 291.7h1.3v1.3h-1.3zM150.8 276.1h1.3v1.3h-1.3zM150.2 286.8h1.3v1.3h-1.3zM143.3 264.8h1.3v1.3h-1.3zM160.9 271.6h1.3v1.3h-1.3zM135.9 289.6h1.3v1.3h-1.3zM107.0 271.4h1.3v1.3h-1.3zM170.1 266.4h1.3v1.3h-1.3zM170.2 294.3h1.3v1.3h-1.3zM150.4 258.4h1.3v1.3h-1.3zM134.1 284.6h1.3v1.3h-1.3zM140.3 271.1h1.3v1.3h-1.3zM116.0 293.3h1.3v1.3h-1.3zM127.8 279.0h1.3v1.3h-1.3zM135.4 270.9h1.3v1.3h-1.3zM141.8 296.0h1.3v1.3h-1.3zM136.1 268.5h1.3v1.3h-1.3zM150.8 307.1h1.3v1.3h-1.3zM148.1 282.2h1.3v1.3h-1.3zM144.5 276.4h1.3v1.3h-1.3zM132.8 275.3h1.3v1.3h-1.3zM142.6 279.7h1.3v1.3h-1.3zM153.5 273.1h1.3v1.3h-1.3zM141.8 281.5h1.3v1.3h-1.3zM156.2 276.0h1.3v1.3h-1.3zM139.5 269.1h1.3v1.3h-1.3zM150.1 284.9h1.3v1.3h-1.3zM130.2 274.4h1.3v1.3h-1.3zM129.6 257.2h1.3v1.3h-1.3zM138.3 275.7h1.3v1.3h-1.3zM162.0 256.7h1.3v1.3h-1.3zM130.7 269.4h1.3v1.3h-1.3zM141.0 265.0h1.3v1.3h-1.3zM147.6 272.7h1.3v1.3h-1.3zM152.9 278.9h1.3v1.3h-1.3zM149.3 284.3h1.3v1.3h-1.3zM143.4 270.5h1.3v1.3h-1.3zM142.3 276.1h1.3v1.3h-1.3zM152.8 270.1h1.3v1.3h-1.3zM162.6 278.8h1.3v1.3h-1.3zM158.8 286.1h1.3v1.3h-1.3zM134.7 291.6h1.3v1.3h-1.3zM128.6 264.7h1.3v1.3h-1.3zM140.8 284.6h1.3v1.3h-1.3zM155.2 272.5h1.3v1.3h-1.3zM158.7 275.0h1.3v1.3h-1.3zM141.4 250.3h1.3v1.3h-1.3zM131.3 286.7h1.3v1.3h-1.3zM132.7 263.3h1.3v1.3h-1.3zM148.8 267.9h1.3v1.3h-1.3zM139.7 272.9h1.3v1.3h-1.3zM169.7 297.7h1.3v1.3h-1.3zM136.4 260.8h1.3v1.3h-1.3zM116.8 263.3h1.3v1.3h-1.3zM170.8 257.5h1.3v1.3h-1.3zM157.7 270.7h1.3v1.3h-1.3zM128.9 268.8h1.3v1.3h-1.3zM130.0 282.6h1.3v1.3h-1.3zM127.2 277.3h1.3v1.3h-1.3zM152.6 268.4h1.3v1.3h-1.3zM140.5 278.4h1.3v1.3h-1.3zM148.7 275.4h1.3v1.3h-1.3zM127.3 279.9h1.3v1.3h-1.3zM137.8 277.7h1.3v1.3h-1.3zM154.9 280.5h1.5v1.5h-1.5zM154.2 288.0h1.5v1.5h-1.5zM155.8 310.9h1.5v1.5h-1.5zM147.2 266.8h1.5v1.5h-1.5zM154.1 304.8h1.5v1.5h-1.5zM153.9 305.4h1.5v1.5h-1.5zM151.9 318.9h1.5v1.5h-1.5zM155.1 277.6h1.5v1.5h-1.5zM150.7 268.1h1.5v1.5h-1.5zM145.4 296.0h1.5v1.5h-1.5zM149.3 303.7h1.5v1.5h-1.5zM154.2 281.8h1.5v1.5h-1.5zM155.6 301.1h1.5v1.5h-1.5zM153.3 267.4h1.5v1.5h-1.5zM149.6 297.6h1.5v1.5h-1.5zM153.8 269.2h1.5v1.5h-1.5zM154.7 275.2h1.5v1.5h-1.5zM153.6 289.5h1.5v1.5h-1.5zM152.5 292.2h1.5v1.5h-1.5zM153.4 301.4h1.5v1.5h-1.5zM150.5 301.1h1.5v1.5h-1.5zM154.1 290.6h1.5v1.5h-1.5zM152.0 323.1h1.5v1.5h-1.5zM154.9 287.4h1.5v1.5h-1.5zM152.0 266.5h1.5v1.5h-1.5zM144.5 311.1h1.5v1.5h-1.5zM152.0 304.4h1.5v1.5h-1.5zM155.5 295.2h1.5v1.5h-1.5zM153.0 295.2h1.5v1.5h-1.5zM157.6 281.0h1.5v1.5h-1.5zM149.9 305.1h1.5v1.5h-1.5zM157.5 306.4h1.5v1.5h-1.5zM154.2 313.3h1.5v1.5h-1.5zM158.3 273.2h1.5v1.5h-1.5zM156.8 288.4h1.5v1.5h-1.5zM147.6 270.8h1.5v1.5h-1.5zM150.1 295.4h1.5v1.5h-1.5zM155.3 296.6h1.5v1.5h-1.5zM156.7 301.7h1.5v1.5h-1.5zM156.6 298.7h1.5v1.5h-1.5zM149.8 300.2h1.5v1.5h-1.5zM154.7 296.4h1.5v1.5h-1.5zM151.5 284.2h1.5v1.5h-1.5zM158.7 284.8h1.5v1.5h-1.5zM157.0 305.9h1.5v1.5h-1.5zM151.2 261.7h1.5v1.5h-1.5zM160.2 279.7h1.5v1.5h-1.5zM152.7 253.2h1.5v1.5h-1.5zM153.2 297.4h1.5v1.5h-1.5zM154.3 299.3h1.5v1.5h-1.5zM146.3 305.8h1.5v1.5h-1.5zM157.3 292.0h1.5v1.5h-1.5zM155.4 289.6h1.5v1.5h-1.5zM152.6 306.4h1.5v1.5h-1.5zM158.7 302.3h1.5v1.5h-1.5zM149.4 289.5h1.5v1.5h-1.5zM158.5 282.7h1.5v1.5h-1.5zM152.1 315.5h1.5v1.5h-1.5zM158.3 288.0h1.5v1.5h-1.5zM149.0 294.4h1.5v1.5h-1.5zM149.3 255.8h1.5v1.5h-1.5zM157.0 295.3h1.5v1.5h-1.5zM148.9 312.5h1.5v1.5h-1.5zM153.3 296.6h1.5v1.5h-1.5zM151.6 254.6h1.5v1.5h-1.5zM154.6 278.9h1.5v1.5h-1.5zM158.0 300.3h1.5v1.5h-1.5zM152.1 289.1h1.5v1.5h-1.5zM158.6 286.7h1.5v1.5h-1.5zM156.2 288.1h1.5v1.5h-1.5zM155.0 275.9h1.5v1.5h-1.5zM157.6 279.5h1.5v1.5h-1.5zM152.3 308.7h1.5v1.5h-1.5zM157.7 280.4h1.5v1.5h-1.5zM152.4 291.5h1.5v1.5h-1.5zM152.9 307.7h1.5v1.5h-1.5zM158.5 300.5h1.5v1.5h-1.5zM152.3 307.4h1.5v1.5h-1.5zM145.8 286.3h1.5v1.5h-1.5zM154.8 306.8h1.5v1.5h-1.5zM135.8 317.5h1.5v1.5h-1.5zM122.2 313.9h1.5v1.5h-1.5zM132.2 322.3h1.5v1.5h-1.5zM111.2 305.4h1.5v1.5h-1.5zM125.4 312.1h1.5v1.5h-1.5zM130.3 313.0h1.5v1.5h-1.5zM132.0 306.9h1.5v1.5h-1.5zM119.6 323.2h1.5v1.5h-1.5zM129.6 306.7h1.5v1.5h-1.5zM131.9 310.2h1.5v1.5h-1.5zM134.3 308.9h1.5v1.5h-1.5zM130.5 307.9h1.5v1.5h-1.5zM132.9 316.7h1.5v1.5h-1.5zM132.1 312.0h1.5v1.5h-1.5zM130.6 321.5h1.5v1.5h-1.5zM133.2 315.3h1.5v1.5h-1.5zM129.3 318.8h1.5v1.5h-1.5zM121.0 312.3h1.5v1.5h-1.5zM129.2 315.7h1.5v1.5h-1.5zM137.8 307.6h1.5v1.5h-1.5zM125.4 308.6h1.5v1.5h-1.5zM120.7 312.7h1.5v1.5h-1.5zM118.5 313.3h1.5v1.5h-1.5zM132.4 318.1h1.5v1.5h-1.5zM123.2 314.1h1.5v1.5h-1.5zM129.0 310.9h1.5v1.5h-1.5zM111.9 316.4h1.5v1.5h-1.5zM120.2 303.1h1.5v1.5h-1.5zM139.3 299.4h1.5v1.5h-1.5zM138.7 311.6h1.5v1.5h-1.5zM140.1 317.4h1.5v1.5h-1.5zM122.1 309.5h1.5v1.5h-1.5zM124.9 315.9h1.5v1.5h-1.5zM129.2 317.1h1.5v1.5h-1.5zM136.5 314.3h1.5v1.5h-1.5zM124.4 329.7h1.5v1.5h-1.5zM128.1 312.9h1.5v1.5h-1.5zM129.3 314.9h1.5v1.5h-1.5zM125.0 310.6h1.5v1.5h-1.5zM125.9 319.0h1.5v1.5h-1.5zM129.4 311.8h1.5v1.5h-1.5zM119.0 308.5h1.5v1.5h-1.5zM134.7 311.1h1.5v1.5h-1.5zM128.0 307.8h1.5v1.5h-1.5zM122.1 313.8h1.5v1.5h-1.5zM137.5 314.1h1.5v1.5h-1.5zM125.6 313.9h1.5v1.5h-1.5zM138.4 311.4h1.5v1.5h-1.5zM138.4 306.4h1.5v1.5h-1.5zM132.8 315.1h1.5v1.5h-1.5zM127.6 311.9h1.5v1.5h-1.5zM134.3 305.5h1.5v1.5h-1.5zM127.1 311.3h1.5v1.5h-1.5zM133.9 313.6h1.5v1.5h-1.5zM127.8 315.8h1.5v1.5h-1.5zM116.3 310.8h1.5v1.5h-1.5zM125.2 313.7h1.5v1.5h-1.5zM133.5 306.5h1.5v1.5h-1.5zM126.8 301.1h1.5v1.5h-1.5zM131.6 309.3h1.5v1.5h-1.5zM121.4 310.9h1.5v1.5h-1.5zM114.7 306.0h1.5v1.5h-1.5zM135.6 307.7h1.5v1.5h-1.5zM138.5 312.6h1.5v1.5h-1.5zM133.6 315.9h1.5v1.5h-1.5zM121.2 323.8h1.5v1.5h-1.5zM122.0 303.5h1.5v1.5h-1.5zM128.1 311.8h1.5v1.5h-1.5zM119.0 307.5h1.5v1.5h-1.5zM124.5 311.6h1.5v1.5h-1.5zM131.8 304.5h1.5v1.5h-1.5zM136.4 315.6h1.5v1.5h-1.5zM148.6 313.0h1.5v1.5h-1.5zM128.0 317.2h1.5v1.5h-1.5zM120.9 316.3h1.5v1.5h-1.5zM126.8 311.8h1.5v1.5h-1.5zM136.9 314.2h1.5v1.5h-1.5zM118.0 318.4h1.5v1.5h-1.5zM130.9 310.2h1.5v1.5h-1.5zM126.1 304.6h1.5v1.5h-1.5zM143.0 306.0h1.5v1.5h-1.5zM137.4 309.1h1.5v1.5h-1.5zM132.4 309.4h1.5v1.5h-1.5zM126.0 300.3h1.5v1.5h-1.5zM130.9 324.8h1.5v1.5h-1.5zM128.1 315.5h1.5v1.5h-1.5zM140.5 316.3h1.5v1.5h-1.5zM133.5 314.4h1.5v1.5h-1.5zM136.8 313.8h1.5v1.5h-1.5zM121.8 311.4h1.5v1.5h-1.5zM136.3 343.6h1.3v1.3h-1.3zM142.4 338.3h1.3v1.3h-1.3zM136.9 338.7h1.3v1.3h-1.3zM149.1 342.9h1.3v1.3h-1.3zM153.7 329.1h1.3v1.3h-1.3zM142.6 349.9h1.3v1.3h-1.3zM146.8 342.4h1.3v1.3h-1.3zM140.3 342.6h1.3v1.3h-1.3zM150.0 345.0h1.3v1.3h-1.3zM134.8 341.5h1.3v1.3h-1.3zM132.2 346.9h1.3v1.3h-1.3zM141.2 339.2h1.3v1.3h-1.3zM151.1 341.5h1.3v1.3h-1.3zM146.1 332.9h1.3v1.3h-1.3zM151.9 355.7h1.3v1.3h-1.3zM143.6 342.0h1.3v1.3h-1.3zM145.9 340.9h1.3v1.3h-1.3zM153.9 348.8h1.3v1.3h-1.3zM150.7 346.6h1.3v1.3h-1.3zM152.4 349.0h1.3v1.3h-1.3zM153.4 343.5h1.3v1.3h-1.3zM151.2 323.5h1.3v1.3h-1.3zM146.0 352.8h1.3v1.3h-1.3zM134.7 351.6h1.3v1.3h-1.3zM149.7 336.0h1.3v1.3h-1.3zM158.6 357.6h1.3v1.3h-1.3zM138.3 335.1h1.3v1.3h-1.3zM162.2 337.6h1.3v1.3h-1.3zM151.3 356.9h1.3v1.3h-1.3zM141.6 353.1h1.3v1.3h-1.3zM133.4 343.0h1.3v1.3h-1.3zM150.3 350.1h1.3v1.3h-1.3zM140.9 339.0h1.3v1.3h-1.3zM145.2 335.7h1.3v1.3h-1.3zM155.4 339.8h1.3v1.3h-1.3zM159.0 356.9h1.3v1.3h-1.3zM150.5 355.1h1.3v1.3h-1.3zM135.5 347.7h1.3v1.3h-1.3zM145.4 352.6h1.3v1.3h-1.3zM163.6 341.4h1.3v1.3h-1.3zM151.2 352.5h1.3v1.3h-1.3zM143.8 351.3h1.3v1.3h-1.3zM133.6 331.9h1.3v1.3h-1.3zM138.5 334.8h1.3v1.3h-1.3zM155.6 357.8h1.3v1.3h-1.3zM140.5 334.4h1.3v1.3h-1.3zM151.2 344.8h1.3v1.3h-1.3zM146.2 355.6h1.3v1.3h-1.3zM160.7 358.0h1.3v1.3h-1.3zM143.9 342.5h1.3v1.3h-1.3zM139.6 322.9h1.3v1.3h-1.3zM145.5 345.1h1.3v1.3h-1.3zM155.2 351.6h1.3v1.3h-1.3zM146.5 341.9h1.3v1.3h-1.3zM140.3 328.0h1.3v1.3h-1.3zM143.8 339.7h1.3v1.3h-1.3zM133.6 352.9h1.3v1.3h-1.3zM146.5 351.7h1.3v1.3h-1.3zM145.9 339.2h1.3v1.3h-1.3zM140.5 347.6h1.3v1.3h-1.3zM136.3 341.3h1.3v1.3h-1.3zM158.8 348.7h1.3v1.3h-1.3zM141.7 337.2h1.3v1.3h-1.3zM144.3 345.6h1.3v1.3h-1.3zM164.3 337.8h1.3v1.3h-1.3zM145.5 356.3h1.3v1.3h-1.3zM142.1 340.6h1.3v1.3h-1.3zM149.0 346.1h1.3v1.3h-1.3zM163.7 337.2h1.3v1.3h-1.3zM146.8 326.3h1.3v1.3h-1.3zM148.2 343.0h1.3v1.3h-1.3zM144.6 333.4h1.3v1.3h-1.3zM144.4 352.9h1.3v1.3h-1.3zM142.6 355.2h1.3v1.3h-1.3zM138.2 341.8h1.3v1.3h-1.3zM142.0 336.2h1.3v1.3h-1.3zM145.5 352.2h1.3v1.3h-1.3zM141.9 341.4h1.3v1.3h-1.3zM162.5 352.2h1.3v1.3h-1.3zM158.7 353.1h1.3v1.3h-1.3zM132.5 342.7h1.3v1.3h-1.3zM150.2 348.4h1.3v1.3h-1.3zM140.9 352.1h1.3v1.3h-1.3zM148.6 346.0h1.3v1.3h-1.3zM145.1 346.9h1.3v1.3h-1.3zM157.4 342.4h1.3v1.3h-1.3zM148.0 354.6h1.3v1.3h-1.3zM148.2 338.3h1.3v1.3h-1.3zM140.5 346.9h1.3v1.3h-1.3zM154.4 350.6h1.3v1.3h-1.3zM140.8 340.1h1.3v1.3h-1.3zM146.2 346.2h1.3v1.3h-1.3zM148.0 337.9h1.3v1.3h-1.3zM149.5 336.4h1.3v1.3h-1.3zM150.2 340.2h1.3v1.3h-1.3zM141.3 355.2h1.3v1.3h-1.3zM147.5 354.5h1.3v1.3h-1.3zM156.0 345.1h1.3v1.3h-1.3zM142.2 337.6h1.3v1.3h-1.3zM162.9 355.1h1.3v1.3h-1.3zM135.6 347.5h1.3v1.3h-1.3zM133.3 348.9h1.3v1.3h-1.3zM154.0 349.5h1.3v1.3h-1.3zM143.1 357.0h1.3v1.3h-1.3zM141.2 349.7h1.3v1.3h-1.3zM140.9 344.3h1.3v1.3h-1.3zM160.4 342.0h1.3v1.3h-1.3zM164.4 343.6h1.3v1.3h-1.3zM154.8 343.4h1.3v1.3h-1.3zM159.0 336.7h1.3v1.3h-1.3zM146.5 337.1h1.3v1.3h-1.3zM151.1 355.1h1.3v1.3h-1.3zM151.0 340.0h1.3v1.3h-1.3zM159.9 345.1h1.3v1.3h-1.3zM146.1 342.6h1.3v1.3h-1.3zM142.7 349.5h1.3v1.3h-1.3zM150.5 341.9h1.3v1.3h-1.3zM153.2 345.1h1.3v1.3h-1.3zM124.2 347.6h1.3v1.3h-1.3zM151.6 356.2h1.3v1.3h-1.3zM128.4 343.0h1.3v1.3h-1.3zM150.1 344.4h1.3v1.3h-1.3zM142.5 334.3h1.3v1.3h-1.3zM147.2 336.2h1.3v1.3h-1.3zM128.1 343.4h1.3v1.3h-1.3zM147.0 336.2h1.3v1.3h-1.3zM147.7 325.6h1.3v1.3h-1.3zM128.2 335.1h1.3v1.3h-1.3zM142.4 342.3h1.3v1.3h-1.3zM160.6 339.8h1.3v1.3h-1.3zM156.2 343.1h1.3v1.3h-1.3zM143.9 337.5h1.3v1.3h-1.3zM140.0 348.3h1.3v1.3h-1.3zM146.8 352.8h1.3v1.3h-1.3zM141.6 350.8h1.3v1.3h-1.3zM147.3 343.7h1.3v1.3h-1.3zM153.7 353.2h1.3v1.3h-1.3zM142.9 332.8h1.3v1.3h-1.3zM140.2 324.3h1.3v1.3h-1.3zM153.3 345.1h1.3v1.3h-1.3zM153.3 333.4h1.3v1.3h-1.3zM155.2 357.9h1.3v1.3h-1.3zM149.6 358.5h1.3v1.3h-1.3zM168.5 349.9h1.3v1.3h-1.3zM142.9 341.0h1.3v1.3h-1.3zM138.8 340.9h1.3v1.3h-1.3zM150.0 342.6h1.3v1.3h-1.3zM133.3 341.6h1.3v1.3h-1.3zM133.2 345.4h1.3v1.3h-1.3zM147.8 330.0h1.3v1.3h-1.3zM150.4 339.7h1.3v1.3h-1.3zM153.2 349.3h1.3v1.3h-1.3zM152.6 342.3h1.3v1.3h-1.3zM142.5 342.6h1.3v1.3h-1.3zM171.7 347.3h1.3v1.3h-1.3zM139.7 353.0h1.3v1.3h-1.3zM137.8 356.5h1.3v1.3h-1.3zM145.9 341.2h1.3v1.3h-1.3zM158.3 330.3h1.3v1.3h-1.3zM72.3 297.0h1.7v1.7h-1.7zM113.5 260.6h1.7v1.7h-1.7zM110.3 304.8h1.3v1.3h-1.3zM113.5 311.5h1.7v1.7h-1.7zM113.5 314.8h1.7v1.7h-1.7z" fill="#000"/>
<path d="M117.2 230.7V360.6" stroke="#111" stroke-width="1.3" fill="none"/>
<path d="M46.2 319.4H185.2" stroke="#222" stroke-width="1.4" fill="none"/>
<rect x="46.2" y="230.7" width="139.00" height="129.90" fill="none" stroke="#111" stroke-width="1.6"/>
<path d="M46.20 360.60v4.2M46.20 360.60h-4.2M56.66 360.60v2.6M46.20 350.82h-2.6M62.78 360.60v2.6M46.20 345.11h-2.6M67.12 360.60v2.6M46.20 341.05h-2.6M70.49 360.60v2.6M46.20 337.90h-2.6M73.24 360.60v2.6M46.20 335.33h-2.6M75.57 360.60v2.6M46.20 333.16h-2.6M77.58 360.60v2.6M46.20 331.27h-2.6M79.36 360.60v2.6M46.20 329.61h-2.6M80.95 360.60v4.2M46.20 328.12h-4.2M91.41 360.60v2.6M46.20 318.35h-2.6M97.53 360.60v2.6M46.20 312.63h-2.6M101.87 360.60v2.6M46.20 308.57h-2.6M105.24 360.60v2.6M46.20 305.43h-2.6M107.99 360.60v2.6M46.20 302.85h-2.6M110.32 360.60v2.6M46.20 300.68h-2.6M112.33 360.60v2.6M46.20 298.80h-2.6M114.11 360.60v2.6M46.20 297.14h-2.6M115.70 360.60v4.2M46.20 295.65h-4.2M126.16 360.60v2.6M46.20 285.87h-2.6M132.28 360.60v2.6M46.20 280.16h-2.6M136.62 360.60v2.6M46.20 276.10h-2.6M139.99 360.60v2.6M46.20 272.95h-2.6M142.74 360.60v2.6M46.20 270.38h-2.6M145.07 360.60v2.6M46.20 268.21h-2.6M147.08 360.60v2.6M46.20 266.32h-2.6M148.86 360.60v2.6M46.20 264.66h-2.6M150.45 360.60v4.2M46.20 263.18h-4.2M160.91 360.60v2.6M46.20 253.40h-2.6M167.03 360.60v2.6M46.20 247.68h-2.6M171.37 360.60v2.6M46.20 243.62h-2.6M174.74 360.60v2.6M46.20 240.48h-2.6M177.49 360.60v2.6M46.20 237.90h-2.6M179.82 360.60v2.6M46.20 235.73h-2.6M181.83 360.60v2.6M46.20 233.85h-2.6M183.61 360.60v2.6M46.20 232.19h-2.6M185.20 360.60v4.2M46.20 230.70h-4.2" stroke="#111" stroke-width="1.4" fill="none"/>
<text x="39.90" y="379.90" font-size="12">1<tspan dx="0.8">0</tspan><tspan dx="0.4" dy="-4.7" font-size="8.8">0</tspan></text>
<text x="40.40" y="365.20" font-size="12" text-anchor="end">1<tspan dx="0.8">0</tspan><tspan dx="0.4" dy="-4.7" font-size="8.8">0</tspan></text>
<text x="72.90" y="379.90" font-size="12">1<tspan dx="0.8">0</tspan><tspan dx="0.4" dy="-4.7" font-size="8.8">1</tspan></text>
<text x="40.40" y="332.73" font-size="12" text-anchor="end">1<tspan dx="0.8">0</tspan><tspan dx="0.4" dy="-4.7" font-size="8.8">1</tspan></text>
<text x="105.60" y="379.90" font-size="12">1<tspan dx="0.8">0</tspan><tspan dx="0.4" dy="-4.7" font-size="8.8">2</tspan></text>
<text x="40.40" y="300.25" font-size="12" text-anchor="end">1<tspan dx="0.8">0</tspan><tspan dx="0.4" dy="-4.7" font-size="8.8">2</tspan></text>
<text x="140.80" y="379.90" font-size="12">1<tspan dx="0.8">0</tspan><tspan dx="0.4" dy="-4.7" font-size="8.8">3</tspan></text>
<text x="40.40" y="267.78" font-size="12" text-anchor="end">1<tspan dx="0.8">0</tspan><tspan dx="0.4" dy="-4.7" font-size="8.8">3</tspan></text>
<text x="175.40" y="379.90" font-size="12">1<tspan dx="0.8">0</tspan><tspan dx="0.4" dy="-4.7" font-size="8.8">4</tspan></text>
<text x="40.40" y="235.30" font-size="12" text-anchor="end">1<tspan dx="0.8">0</tspan><tspan dx="0.4" dy="-4.7" font-size="8.8">4</tspan></text>
<text x="116.30" y="222.40" font-size="16.7" text-anchor="middle" font-weight="normal" >CD19-liposome</text>
<text x="159.30" y="247.80" font-size="15.6" text-anchor="start" font-weight="normal" letter-spacing="0.5">15</text>
<text x="52.00" y="335.30" font-size="15.6" text-anchor="start" font-weight="normal" letter-spacing="0.5">71</text>
<text x="161.40" y="335.00" font-size="15.6" text-anchor="start" font-weight="normal" letter-spacing="0.5">14</text>
<text transform="translate(14.2 294) rotate(-90)" font-size="16.6" text-anchor="middle">PI</text>
<text x="117.50" y="409.00" font-size="16.6" text-anchor="middle" font-weight="normal" >Annexin V</text>
<path d="M267.8 40.2V333.4H511.2" stroke="#000" stroke-width="2" fill="none"/>
<text x="259.60" y="339.00" font-size="16.2" text-anchor="end" font-weight="normal" >0</text>
<text x="259.60" y="290.26" font-size="16.2" text-anchor="end" font-weight="normal" >5</text>
<text x="259.60" y="241.53" font-size="16.2" text-anchor="end" font-weight="normal" >10</text>
<text x="259.60" y="192.79" font-size="16.2" text-anchor="end" font-weight="normal" >15</text>
<text x="259.60" y="144.06" font-size="16.2" text-anchor="end" font-weight="normal" >20</text>
<text x="259.60" y="95.32" font-size="16.2" text-anchor="end" font-weight="normal" >25</text>
<text x="259.60" y="45.79" font-size="16.2" text-anchor="end" font-weight="normal" >30</text>
<text x="280.00" y="354.00" font-size="16.2" text-anchor="middle" font-weight="normal" >0.01</text>
<text x="356.70" y="354.00" font-size="16.2" text-anchor="middle" font-weight="normal" >0.1</text>
<text x="433.40" y="354.00" font-size="16.2" text-anchor="middle" font-weight="normal" >1</text>
<text x="509.30" y="354.00" font-size="16.2" text-anchor="middle" font-weight="normal" >10</text>
<path d="M267.8 333.40h-6.3M267.8 284.66h-6.3M267.8 235.93h-6.3M267.8 187.19h-6.3M267.8 138.46h-6.3M267.8 89.72h-6.3M267.8 40.99h-6.3M280.00 333.4v5.3M356.70 333.4v5.3M433.40 333.4v5.3M510.10 333.4v5.3" stroke="#000" stroke-width="1.4" fill="none"/>
<text transform="translate(235.3 183.7) rotate(-90)" font-size="16.9" letter-spacing="0.3" text-anchor="middle">Annexin V-positive cells (%)</text>
<text x="268.5" y="373.0" font-size="16.7">Concentration of imatinib <tspan dx="1.5">(</tspan><tspan x="467.4">μ</tspan><tspan x="478">M</tspan><tspan x="493.1">)</tspan></text>
<polyline points="280.00,258.06 356.70,201.82 393.30,191.48 433.40,188.17 470.00,182.32 510.10,178.42" fill="none" stroke="#000" stroke-width="2" stroke-dasharray="5,3.5"/>
<polyline points="280.00,252.99 356.70,190.51 393.30,181.35 433.40,179.01 470.00,177.45 510.10,162.83" fill="none" stroke="#000" stroke-width="1.4"/>
<polyline points="280.00,250.55 356.70,185.25 393.30,148.21 433.40,129.20 470.00,137.00 510.10,118.97" fill="none" stroke="#000" stroke-width="1.4"/>
<polyline points="280.00,247.14 356.70,153.08 393.30,99.96 433.40,101.91 470.00,80.95 510.10,51.13" fill="none" stroke="#000" stroke-width="2.7"/>
<rect x="276.60" y="254.66" width="6.8" height="6.8"/>
<rect x="353.30" y="198.42" width="6.8" height="6.8"/>
<rect x="389.90" y="188.08" width="6.8" height="6.8"/>
<rect x="430.00" y="184.77" width="6.8" height="6.8"/>
<rect x="466.60" y="178.92" width="6.8" height="6.8"/>
<rect x="506.70" y="175.02" width="6.8" height="6.8"/>
<path d="M280.00 249.09L283.50 252.99L280.00 256.89L276.50 252.99z"/>
<path d="M356.70 186.61L360.20 190.51L356.70 194.41L353.20 190.51z"/>
<path d="M393.30 177.45L396.80 181.35L393.30 185.25L389.80 181.35z"/>
<path d="M433.40 175.11L436.90 179.01L433.40 182.91L429.90 179.01z"/>
<path d="M470.00 173.55L473.50 177.45L470.00 181.35L466.50 177.45z"/>
<path d="M510.10 158.93L513.60 162.83L510.10 166.73L506.60 162.83z"/>
<path d="M280.00 246.54L284.00 253.84L276.00 253.84z"/>
<path d="M356.70 181.23L360.70 188.53L352.70 188.53z"/>
<path d="M393.30 144.19L397.30 151.49L389.30 151.49z"/>
<path d="M433.40 125.19L437.40 132.49L429.40 132.49z"/>
<path d="M470.00 132.98L474.00 140.28L466.00 140.28z"/>
<path d="M510.10 114.95L514.10 122.25L506.10 122.25z"/>
<circle cx="280.00" cy="247.14" r="3.7"/>
<circle cx="356.70" cy="153.08" r="3.7"/>
<circle cx="393.30" cy="99.96" r="3.7"/>
<circle cx="433.40" cy="101.91" r="3.7"/>
<circle cx="470.00" cy="80.95" r="3.7"/>
<circle cx="510.10" cy="51.13" r="3.7"/>
<rect x="420.6" y="213" width="90.9" height="96.9" fill="none" stroke="#000" stroke-width="1.5"/>
<path d="M432.3 224.9H456.9" stroke="#000" stroke-width="2.4"/>
<circle cx="444.60" cy="224.90" r="3.7"/>
<path d="M433 249.3H456.6" stroke="#000" stroke-width="1.4"/>
<path d="M444.80 245.40L448.30 249.30L444.80 253.20L441.30 249.30z"/>
<path d="M433.5 273.8H453.8" stroke="#000" stroke-width="2" stroke-dasharray="4.3,3.6"/>
<rect x="441.40" y="270.40" width="6.8" height="6.8"/>
<path d="M432.9 298.3H456.9" stroke="#000" stroke-width="1.4"/>
<path d="M444.80 294.29L448.80 301.59L440.80 301.59z"/>
<text x="465.20" y="228.60" font-size="13.2" text-anchor="start" font-weight="normal" >CD19</text>
<text x="465.20" y="253.00" font-size="13.2" text-anchor="start" font-weight="normal" >Bare</text>
<text x="465.20" y="277.50" font-size="13.2" text-anchor="start" font-weight="normal" >PEG</text>
<text x="465.20" y="302.00" font-size="13.2" text-anchor="start" font-weight="normal" >Free</text><path d="M37.63 189.70H40.22V193.90H37.63zM41.69 189.70H44.40V193.90H41.69zM20.45 174.90H23.04V179.10H20.45zM24.51 174.90H27.22V179.10H24.51zM71.33 189.70H73.92V193.90H71.33zM75.39 189.70H78.10V193.90H75.39zM85.85 185.24H87.69V189.20H85.85zM88.87 185.24H91.05V189.20H88.87zM20.45 143.08H23.04V147.28H20.45zM24.51 143.08H27.22V147.28H24.51zM34.97 138.62H36.81V142.58H34.97zM37.99 138.62H40.17V142.58H37.99zM103.93 189.70H106.52V193.90H103.93zM107.99 189.70H110.70V193.90H107.99zM20.45 111.25H23.04V115.45H20.45zM24.51 111.25H27.22V115.45H24.51zM139.53 189.70H142.12V193.90H139.53zM143.59 189.70H146.30V193.90H143.59zM20.45 79.42H23.04V83.62H20.45zM24.51 79.42H27.22V83.62H24.51zM173.73 189.70H176.32V193.90H173.73zM177.79 189.70H180.50V193.90H177.79zM20.45 47.60H23.04V51.80H20.45zM24.51 47.60H27.22V51.80H24.51zM167.62 145.47H171.25V150.00H167.62zM173.11 145.47H176.58V150.00H173.11zM40.13 377.40H42.72V381.60H40.13zM44.19 377.40H46.90V381.60H44.19zM21.15 362.70H23.74V366.90H21.15zM25.21 362.70H27.92V366.90H25.21zM73.13 377.40H75.72V381.60H73.13zM77.19 377.40H79.90V381.60H77.19zM87.65 372.94H89.49V376.90H87.65zM90.67 372.94H92.85V376.90H90.67zM21.15 330.23H23.74V334.43H21.15zM25.21 330.23H27.92V334.43H25.21zM35.67 325.77H37.51V329.73H35.67zM38.69 325.77H40.87V329.73H38.69zM105.83 377.40H108.42V381.60H105.83zM109.89 377.40H112.60V381.60H109.89zM21.15 297.75H23.74V301.95H21.15zM25.21 297.75H27.92V301.95H25.21zM141.03 377.40H143.62V381.60H141.03zM145.09 377.40H147.80V381.60H145.09zM21.15 265.28H23.74V269.48H21.15zM25.21 265.28H27.92V269.48H25.21zM175.63 377.40H178.22V381.60H175.63zM179.69 377.40H182.40V381.60H179.69zM21.15 232.80H23.74V237.00H21.15zM25.21 232.80H27.92V237.00H25.21zM83.21 219.55H86.89V224.10H83.21zM88.77 219.55H92.27V224.10H88.77zM159.62 244.97H163.25V249.50H159.62zM165.11 244.97H168.58V249.50H165.11zM61.49 332.47H65.13V337.00H61.49zM66.99 332.47H70.45V337.00H66.99zM161.72 332.17H165.35V336.70H161.72zM167.21 332.17H170.68V336.70H167.21zM241.90 238.72H245.46V243.23H241.90zM247.29 238.72H250.71V243.23H247.29zM241.90 189.98H245.46V194.49H241.90zM247.29 189.98H250.71V194.49H247.29zM287.06 351.19H290.62V355.70H287.06zM292.45 351.19H295.87V355.70H292.45zM359.26 351.19H362.82V355.70H359.26zM364.65 351.19H368.07V355.70H364.65zM429.21 351.19H432.77V355.70H429.21zM434.60 351.19H438.02V355.70H434.60zM500.61 351.19H504.17V355.70H500.61zM506.00 351.19H509.42V355.70H506.00zM484.50 226.01H487.37V230.30H484.50zM488.93 226.01H491.85V230.30H488.93z" fill="#fff"/></svg>
</body></html>
